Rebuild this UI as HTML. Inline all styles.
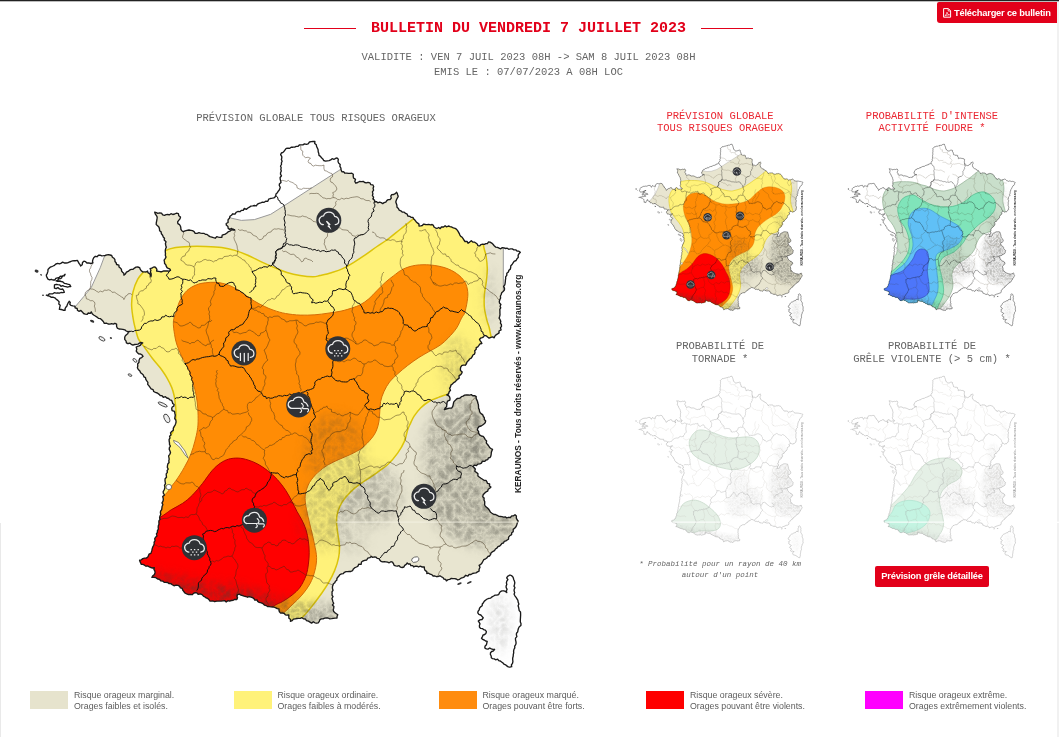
<!DOCTYPE html>
<html lang="fr"><head><meta charset="utf-8"><title>Bulletin du vendredi 7 juillet 2023</title>
<style>
html,body{margin:0;padding:0;background:#fff;}
body{width:1059px;height:737px;overflow:hidden;position:relative;font-family:"Liberation Mono","DejaVu Sans Mono",monospace;color:#656565;}
.abs{position:absolute;white-space:nowrap;}
.c{text-align:center;}
.t{font-size:10.5px;line-height:12px;}
.red{color:#ea2833;}
#title.red{color:#e2001a;}
#top{position:absolute;left:0;top:0;width:1059px;height:1px;background:#222;border-bottom:1px solid #bdbdbd;}
#rline{position:absolute;left:1057px;top:2px;width:2px;height:735px;background:#f1f1f1;}
#lline{position:absolute;left:0;top:523px;width:1px;height:214px;background:#e9e9e9;}
#title{left:0;width:1057px;top:20px;font-size:15px;font-weight:bold;line-height:18px;}
.hl{position:absolute;top:28px;height:1px;width:52px;background:#e2001a;}
.btn{position:absolute;background:#e2001a;color:#fff;font-family:"Liberation Sans","DejaVu Sans",sans-serif;font-weight:bold;font-size:9.3px;letter-spacing:-0.2px;border-radius:2px;text-align:center;white-space:nowrap;}
.lg{position:absolute;top:691px;width:38px;height:18px;}
.lt{position:absolute;top:689.5px;font-family:"Liberation Sans","DejaVu Sans",sans-serif;font-size:8.8px;line-height:11.4px;color:#5c5c5c;white-space:nowrap;}
svg{position:absolute;left:0;top:0;}
</style></head><body>
<div id="top"></div><div id="rline"></div><div id="lline"></div>
<div class="btn" style="left:937px;top:2px;width:120px;height:20.5px;line-height:21px;border-radius:2px 0 0 3px;text-align:left;"><svg style="left:6px;top:6px" width="9" height="10" viewBox="0 0 9 10"><path d="M0.6 0.6H5.4L7.6 2.8V9.2H0.6Z" fill="none" stroke="#fff" stroke-width="1"/><path d="M5.2 0.8V3H7.4" fill="none" stroke="#fff" stroke-width="0.8"/><path d="M1.8 7.8C3 7 3.8 5.6 4 4.2C4.4 5.8 5.2 6.6 6.6 6.8C5 6.8 3.2 7.2 1.8 7.8Z" fill="none" stroke="#fff" stroke-width="0.7"/></svg><span style="position:absolute;left:17px;top:0.6px">Télécharger ce bulletin</span></div>
<div class="hl" style="left:304px"></div><div class="hl" style="left:701px"></div>
<div id="title" class="abs c red">BULLETIN DU VENDREDI 7 JUILLET 2023</div>
<div class="abs c t" style="left:0;width:1057px;top:50.3px;line-height:14.4px">VALIDITE : VEN 7 JUIL 2023 08H -&gt; SAM 8 JUIL 2023 08H<br>EMIS LE : 07/07/2023 A 08H LOC</div>
<div class="abs c t" style="left:116px;width:400px;top:112.3px">PRÉVISION GLOBALE TOUS RISQUES ORAGEUX</div>
<div class="abs c t red" style="left:620px;width:200px;top:110px">PRÉVISION GLOBALE<br>TOUS RISQUES ORAGEUX</div>
<div class="abs c t red" style="left:832px;width:200px;top:110px">PROBABILITÉ D'INTENSE<br>ACTIVITÉ FOUDRE *</div>
<div class="abs c t" style="left:620px;width:200px;top:340.4px;line-height:12.6px">PROBABILITÉ DE<br>TORNADE *</div>
<div class="abs c t" style="left:832px;width:200px;top:340.4px;line-height:12.6px">PROBABILITÉ DE<br>GRÊLE VIOLENTE (&gt; 5 cm) *</div>
<div class="abs c" style="left:620px;width:200px;top:559px;font-size:7.5px;line-height:11.3px;font-style:italic">* Probabilité pour un rayon de 40 km<br>autour d'un point</div>
<div class="btn" style="left:875px;top:566px;width:114px;height:21px;line-height:21px;">Prévision grêle détaillée</div>
<svg width="1059" height="737" viewBox="0 0 1059 737">

<defs>
<clipPath id="fr"><path d="M275.7 195.4 L276.1 193.8 L277.4 192.8 L278.0 191.4 L279.1 190.3 L279.8 188.9 L280.2 187.3 L279.3 185.5 L279.4 183.9 L281.0 182.4 L280.6 180.7 L280.2 179.1 L280.1 177.5 L281.5 175.8 L280.5 174.2 L280.6 172.6 L281.3 171.0 L280.8 169.3 L281.2 167.7 L280.5 166.0 L281.5 164.5 L281.4 162.8 L282.1 161.2 L281.4 159.5 L281.8 157.9 L281.7 156.3 L280.6 154.6 L281.4 153.0 L283.0 152.4 L284.1 151.2 L285.1 149.8 L286.2 148.4 L288.0 148.1 L289.8 148.3 L291.2 147.2 L293.0 147.2 L294.7 147.1 L296.2 146.4 L297.9 146.4 L299.3 145.0 L301.0 144.8 L302.9 144.9 L304.5 143.9 L306.4 144.3 L308.1 143.8 L309.5 142.0 L311.3 141.7 L313.0 141.4 L314.9 141.5 L314.7 143.4 L316.3 144.8 L316.6 146.5 L317.4 148.1 L318.1 149.8 L318.2 151.8 L318.8 153.5 L319.0 155.4 L320.5 156.3 L321.5 157.8 L322.8 158.9 L323.7 160.5 L325.5 161.1 L327.3 160.8 L329.1 160.6 L330.7 159.9 L332.1 158.7 L333.9 159.3 L335.4 158.5 L337.0 157.9 L338.3 159.3 L338.0 161.4 L338.6 163.1 L340.2 164.4 L339.9 166.4 L340.9 168.1 L341.1 170.0 L341.9 171.8 L343.6 171.7 L345.0 173.2 L346.7 173.1 L348.4 173.4 L350.1 173.3 L351.8 173.2 L353.3 174.2 L353.2 176.2 L353.5 178.0 L355.5 179.4 L354.8 181.5 L355.8 183.2 L357.7 182.5 L359.4 181.5 L361.5 181.6 L363.2 181.4 L364.7 182.5 L366.3 182.9 L368.0 182.4 L369.9 182.8 L370.7 184.6 L372.8 184.8 L373.7 186.5 L373.1 188.3 L373.6 190.2 L372.4 191.9 L372.9 193.8 L372.4 195.6 L373.6 197.1 L373.0 198.9 L374.6 200.3 L374.6 202.0 L376.4 201.6 L377.8 202.8 L379.6 202.1 L381.2 202.7 L382.7 203.6 L384.1 202.6 L385.8 202.1 L386.8 200.6 L388.2 199.6 L390.1 199.5 L391.3 198.1 L390.8 196.1 L391.7 194.6 L393.7 194.5 L395.3 193.6 L396.6 192.2 L397.3 193.5 L397.7 194.9 L398.2 196.3 L397.6 197.7 L396.8 199.0 L396.2 200.5 L395.8 202.0 L396.4 203.7 L396.9 205.3 L397.0 207.2 L398.4 208.5 L399.1 210.1 L400.8 210.8 L402.2 212.1 L404.2 212.2 L405.6 213.4 L407.2 214.1 L407.8 216.0 L409.7 216.3 L411.0 217.3 L412.9 217.4 L413.8 219.1 L415.1 220.3 L416.1 221.7 L417.4 222.9 L419.0 224.1 L419.0 226.1 L420.7 225.9 L422.3 225.5 L423.7 224.1 L425.5 224.5 L427.1 224.7 L428.8 224.4 L430.5 224.8 L432.1 224.5 L433.4 225.4 L434.0 227.0 L435.3 227.8 L436.9 228.5 L438.7 227.5 L440.2 228.6 L441.4 227.0 L443.6 227.0 L445.1 225.8 L446.6 226.9 L448.5 226.0 L450.1 226.6 L451.7 227.0 L453.3 227.9 L455.1 228.3 L456.6 229.4 L457.6 230.7 L458.5 232.1 L459.3 233.6 L459.9 235.1 L460.8 236.4 L462.2 237.3 L463.1 238.6 L463.9 240.0 L465.0 241.5 L467.2 241.5 L468.0 243.3 L469.7 242.1 L471.3 240.8 L472.7 242.0 L474.7 242.2 L476.2 243.3 L477.4 244.2 L477.8 245.7 L479.6 245.9 L481.0 244.6 L482.6 244.2 L484.4 244.4 L485.8 243.7 L487.4 243.6 L488.4 242.0 L490.1 242.1 L491.7 243.1 L493.0 244.3 L494.2 245.7 L495.6 247.1 L497.5 247.3 L499.1 248.2 L500.7 248.8 L502.3 247.6 L504.0 247.9 L505.6 248.5 L507.2 248.2 L508.7 249.3 L510.5 248.9 L512.3 248.9 L513.8 249.8 L515.7 249.8 L517.0 251.1 L518.9 251.2 L520.3 252.3 L519.0 253.7 L518.1 255.3 L518.3 257.4 L517.0 258.8 L516.1 260.5 L514.1 261.3 L513.1 262.9 L512.1 264.5 L510.8 265.7 L510.7 267.5 L510.3 269.1 L508.9 270.2 L508.4 272.0 L506.8 273.3 L506.8 275.3 L505.6 276.8 L505.7 278.4 L505.4 280.1 L505.3 281.7 L505.1 283.3 L504.8 284.9 L503.6 286.4 L504.5 288.4 L504.4 290.1 L503.1 291.5 L501.7 292.8 L501.2 294.5 L500.4 296.0 L500.6 298.0 L499.9 299.6 L499.3 301.3 L499.5 303.0 L500.9 304.5 L500.1 306.2 L500.7 307.8 L499.8 309.4 L499.9 311.2 L499.9 313.0 L500.0 314.8 L499.6 316.5 L499.1 318.2 L500.1 319.7 L500.8 321.2 L500.4 323.1 L501.4 324.6 L501.5 326.3 L500.4 327.8 L501.1 329.9 L499.0 331.0 L499.1 332.9 L497.6 333.9 L496.1 334.8 L494.9 336.1 L494.2 337.8 L492.6 336.9 L490.9 337.3 L489.1 338.1 L487.6 337.0 L486.2 335.8 L484.4 335.3 L483.6 336.8 L482.2 337.6 L480.5 338.2 L479.5 339.4 L480.3 340.8 L481.2 342.1 L481.9 343.5 L480.0 343.9 L478.9 345.4 L477.8 346.8 L476.2 347.6 L476.2 349.3 L474.7 350.7 L475.0 352.5 L474.5 354.1 L472.9 355.0 L472.2 356.7 L471.2 358.2 L469.6 359.0 L468.5 360.6 L467.0 362.0 L466.4 363.9 L465.3 365.2 L463.3 365.1 L461.7 365.7 L460.7 367.2 L460.4 368.9 L460.5 370.5 L462.2 372.0 L461.5 373.7 L460.3 374.9 L459.0 375.9 L459.2 378.1 L457.9 379.1 L456.6 380.2 L455.4 381.7 L453.7 382.6 L452.4 384.0 L450.9 385.1 L450.5 386.8 L449.6 388.3 L450.5 390.3 L449.2 391.7 L448.6 393.8 L446.8 394.9 L448.3 395.5 L449.4 396.6 L450.0 398.2 L449.9 400.2 L447.6 401.1 L447.0 402.8 L446.8 404.7 L446.6 406.7 L445.1 408.0 L444.3 409.7 L446.1 409.0 L447.9 408.5 L449.8 408.2 L451.7 408.0 L452.6 406.6 L453.1 405.1 L453.4 403.5 L453.8 401.9 L454.9 400.7 L456.1 399.6 L457.2 398.5 L458.9 398.3 L460.4 397.8 L461.5 396.6 L463.1 396.1 L464.6 395.2 L466.3 395.0 L468.0 395.0 L469.7 395.1 L471.3 394.6 L472.7 395.7 L474.6 395.7 L476.2 396.6 L476.1 398.4 L476.8 399.9 L477.5 401.4 L477.8 403.1 L478.4 404.7 L478.5 406.4 L478.5 408.1 L479.3 409.6 L479.5 411.3 L480.2 412.8 L481.5 413.9 L482.8 414.9 L483.4 416.5 L484.4 417.8 L484.3 419.5 L485.7 420.9 L485.2 422.7 L483.9 423.9 L482.6 425.0 L481.1 426.0 L479.1 426.5 L477.8 428.2 L477.3 430.0 L478.6 431.4 L478.6 433.1 L479.6 434.9 L481.2 436.0 L483.2 436.4 L484.4 438.0 L485.3 439.6 L486.6 441.0 L486.3 443.1 L487.6 444.5 L488.6 445.9 L489.6 447.4 L490.9 448.5 L492.5 449.4 L491.8 451.0 L491.3 452.5 L491.2 454.2 L490.9 455.9 L490.1 457.5 L488.3 457.8 L487.8 459.7 L486.0 460.0 L484.6 461.4 L482.5 461.2 L481.4 463.2 L479.8 463.9 L477.8 464.1 L476.5 465.6 L474.2 465.2 L472.9 466.6 L474.2 467.7 L475.3 469.0 L474.8 471.2 L476.2 472.3 L477.9 473.6 L477.9 475.9 L479.5 477.2 L481.0 478.3 L482.5 479.3 L484.0 480.3 L486.0 480.4 L486.9 481.8 L487.5 483.4 L489.6 483.9 L489.5 486.0 L490.9 487.0 L489.7 488.2 L488.2 489.2 L487.7 491.2 L486.0 491.9 L484.5 493.3 L483.2 494.7 L482.7 496.8 L484.1 498.1 L484.0 500.0 L484.7 501.5 L484.7 503.3 L484.6 505.0 L485.6 506.5 L487.2 507.7 L488.5 509.0 L489.6 510.6 L490.5 512.3 L492.0 513.3 L493.6 514.3 L495.5 514.5 L497.2 515.3 L498.7 516.3 L500.4 516.5 L502.0 516.7 L503.6 517.2 L505.3 516.9 L506.8 518.0 L508.4 517.3 L510.4 517.5 L511.7 515.9 L513.5 515.8 L515.0 514.7 L516.4 516.0 L516.3 518.1 L517.1 519.8 L518.3 521.2 L517.4 522.5 L517.0 524.1 L516.5 525.6 L515.8 527.0 L514.6 528.3 L513.2 529.4 L513.2 531.6 L511.7 532.7 L511.6 534.6 L509.7 535.8 L508.6 537.2 L508.5 539.2 L507.2 540.0 L505.9 540.9 L504.3 541.3 L503.5 543.0 L501.9 543.3 L500.9 544.8 L499.7 546.0 L497.9 546.6 L496.9 548.1 L495.4 549.0 L494.5 550.7 L492.7 551.6 L491.1 552.7 L490.5 554.7 L489.5 556.0 L487.8 556.5 L486.9 557.9 L485.6 558.8 L483.8 559.6 L482.9 561.3 L482.0 563.0 L480.8 564.4 L479.1 565.3 L480.0 567.2 L479.1 569.2 L479.1 571.1 L477.5 571.9 L476.0 572.9 L474.2 573.1 L472.5 573.5 L471.0 574.5 L469.1 574.4 L467.9 576.1 L465.7 575.3 L464.4 576.8 L462.8 577.6 L461.0 578.2 L459.5 579.3 L457.8 580.0 L456.3 579.0 L454.7 578.6 L452.9 578.7 L451.3 578.4 L449.7 579.3 L447.9 579.7 L446.4 580.9 L445.6 579.4 L443.8 579.0 L443.0 577.5 L441.5 576.8 L439.9 575.8 L438.2 576.5 L436.5 576.7 L434.9 576.0 L433.1 576.0 L431.8 574.6 L430.1 574.2 L428.7 573.2 L426.8 573.5 L426.8 571.6 L425.1 570.4 L424.4 568.8 L424.3 567.0 L422.2 567.0 L420.2 566.2 L418.6 567.0 L416.9 566.2 L415.2 566.2 L413.7 567.0 L412.8 565.6 L410.9 565.7 L410.2 564.0 L408.3 564.0 L407.2 562.9 L406.2 564.4 L404.7 565.4 L403.9 567.0 L402.1 567.5 L400.5 567.2 L399.1 565.6 L397.3 566.2 L395.7 565.8 L394.1 565.3 L393.4 563.6 L392.5 562.1 L390.9 561.7 L389.2 562.8 L387.6 562.1 L385.9 561.8 L384.3 561.6 L382.6 561.9 L381.0 561.3 L379.9 560.2 L379.1 558.6 L377.2 558.4 L376.1 557.2 L374.5 556.9 L372.7 557.3 L371.2 556.4 L369.8 557.7 L367.8 558.1 L366.7 560.0 L364.7 560.4 L362.9 561.0 L361.5 562.0 L361.1 564.3 L358.7 564.2 L358.0 566.1 L356.5 567.0 L354.8 567.7 L353.4 568.9 L352.5 570.7 L350.9 571.5 L349.2 571.4 L347.6 571.6 L346.0 571.6 L344.4 572.3 L343.3 573.6 L341.5 573.9 L339.9 574.6 L338.9 576.0 L337.8 577.2 L336.9 578.5 L336.8 580.3 L335.4 581.3 L334.8 582.7 L333.4 583.7 L332.9 585.3 L332.4 586.9 L332.5 588.6 L333.0 590.3 L332.0 591.8 L332.1 593.5 L332.0 595.2 L333.0 596.7 L331.9 598.5 L332.5 600.1 L332.9 601.7 L333.7 603.3 L332.4 605.0 L333.9 606.5 L333.7 608.2 L333.2 609.9 L333.7 611.5 L335.0 612.7 L336.4 613.8 L337.8 614.8 L337.1 616.3 L337.0 618.0 L335.2 618.1 L333.4 618.3 L331.6 618.6 L329.8 618.8 L328.0 618.0 L326.3 618.0 L324.7 618.2 L323.1 618.9 L321.4 618.9 L319.9 619.7 L319.3 621.4 L318.2 622.9 L316.5 623.2 L314.9 622.8 L313.3 621.8 L311.6 623.1 L310.0 622.1 L308.4 621.2 L306.5 620.7 L305.4 619.0 L303.4 618.8 L301.9 617.7 L300.3 618.3 L298.6 618.4 L296.9 618.5 L295.3 618.8 L293.4 619.2 L292.2 620.7 L290.4 621.3 L290.6 619.5 L288.9 618.2 L288.8 616.5 L288.8 614.8 L287.0 615.2 L285.4 614.8 L284.0 613.3 L282.3 613.0 L280.6 613.1 L279.5 611.9 L279.0 610.6 L279.0 609.0 L277.3 608.7 L275.8 607.8 L274.2 607.2 L272.6 607.0 L270.9 606.8 L269.2 606.6 L267.5 606.5 L266.2 605.5 L264.6 605.2 L263.4 604.0 L262.0 603.2 L260.5 602.7 L258.9 602.3 L257.7 601.4 L256.9 599.8 L254.8 600.1 L254.0 598.6 L252.5 597.7 L250.9 597.1 L249.3 596.6 L247.4 597.2 L245.9 596.5 L244.2 596.2 L242.6 595.7 L241.0 595.2 L239.5 594.2 L237.6 594.6 L237.0 596.2 L237.4 597.9 L236.8 599.5 L234.8 599.3 L233.2 600.3 L231.3 600.5 L229.5 601.1 L227.9 600.7 L226.2 602.0 L224.6 600.6 L222.9 600.8 L221.3 601.1 L219.7 601.1 L218.0 601.1 L216.4 601.2 L214.8 601.7 L213.1 601.0 L211.5 601.1 L209.8 601.0 L208.9 599.5 L207.7 598.4 L206.2 597.9 L205.0 597.0 L203.4 596.1 L202.1 594.6 L200.4 593.9 L198.1 594.3 L196.8 592.9 L195.1 592.7 L193.5 593.4 L192.0 594.7 L190.3 594.5 L188.6 594.6 L186.7 593.9 L184.9 593.0 L183.7 591.3 L182.7 590.0 L182.2 588.4 L180.4 587.8 L179.6 586.4 L177.9 585.3 L176.0 585.2 L174.0 585.8 L172.3 584.7 L170.8 583.6 L169.1 583.6 L167.6 582.5 L165.8 582.4 L164.1 582.3 L162.7 581.1 L160.7 580.9 L159.5 579.3 L157.6 579.0 L155.9 577.7 L154.0 577.3 L151.9 577.4 L152.9 575.7 L154.4 574.4 L155.1 572.5 L154.8 570.9 L153.9 569.3 L154.3 567.6 L152.5 568.0 L150.9 567.5 L149.3 566.9 L147.8 566.0 L146.0 566.2 L144.5 565.2 L142.9 564.4 L141.2 564.3 L140.7 562.9 L140.0 561.6 L139.6 560.2 L141.3 559.8 L142.8 558.6 L144.5 558.2 L146.3 558.1 L147.8 557.0 L148.5 555.6 L149.0 554.1 L150.9 553.4 L151.4 551.9 L151.9 550.4 L152.2 548.7 L152.7 547.1 L153.6 545.5 L154.2 543.9 L154.1 542.1 L155.1 540.6 L154.7 538.7 L155.5 537.2 L157.0 535.9 L156.4 533.9 L157.4 532.4 L157.4 530.7 L158.4 529.2 L158.2 527.5 L158.3 525.8 L159.0 524.3 L158.9 522.6 L158.9 520.9 L160.0 519.4 L159.6 517.6 L160.0 516.0 L160.8 514.5 L160.4 512.7 L160.6 511.1 L161.7 509.6 L161.9 508.0 L162.1 506.3 L162.9 504.8 L162.0 502.9 L162.9 501.4 L163.3 499.8 L163.2 498.2 L162.7 496.5 L164.5 495.0 L163.3 493.2 L163.2 491.6 L164.1 490.0 L164.7 488.6 L164.9 487.0 L164.5 485.3 L165.5 483.7 L165.2 482.0 L165.0 480.3 L165.1 478.7 L166.5 477.2 L166.3 475.5 L166.2 473.8 L167.4 472.3 L167.1 470.6 L168.2 469.1 L167.3 467.3 L167.5 465.6 L167.8 464.0 L169.1 462.5 L168.8 460.8 L169.2 459.2 L168.9 457.5 L168.6 455.8 L169.8 454.3 L170.5 452.7 L170.0 451.0 L169.2 449.3 L169.4 447.6 L170.4 446.1 L169.5 444.5 L169.5 442.9 L169.2 441.3 L169.1 439.6 L170.0 437.9 L169.6 436.3 L171.0 435.0 L170.5 432.9 L171.7 431.5 L173.3 430.2 L173.3 428.2 L174.1 426.6 L175.1 425.1 L175.7 423.5 L176.1 421.8 L175.8 420.0 L174.7 418.5 L175.0 416.8 L175.3 415.1 L174.9 413.5 L174.5 411.4 L172.1 410.6 L171.7 408.6 L172.2 407.0 L173.8 406.2 L174.1 404.5 L172.7 403.5 L172.3 401.9 L171.7 400.4 L169.9 399.9 L168.6 398.5 L166.8 398.0 L165.4 396.7 L163.3 397.3 L162.0 395.7 L160.2 395.5 L158.8 394.1 L157.3 393.0 L155.4 392.4 L153.7 391.5 L153.1 389.6 L151.1 388.8 L149.9 387.2 L148.8 385.7 L147.7 384.3 L147.9 382.3 L146.8 380.9 L145.8 379.4 L145.5 377.6 L143.9 376.8 L143.3 374.9 L142.0 373.8 L140.6 372.7 L139.9 370.9 L138.3 369.5 L137.4 367.8 L137.8 365.9 L137.6 364.0 L139.0 362.3 L139.0 360.4 L139.8 358.4 L141.7 357.6 L143.1 356.3 L142.0 354.9 L140.5 354.0 L138.5 353.8 L137.3 352.5 L136.2 351.1 L136.8 349.1 L136.2 347.0 L137.6 346.4 L139.2 345.9 L140.5 345.1 L141.4 343.6 L142.7 342.9 L140.9 342.5 L139.4 343.1 L137.9 344.2 L136.3 344.4 L134.6 344.5 L132.9 345.1 L131.3 344.3 L129.7 343.1 L128.0 343.7 L126.4 342.8 L126.0 340.9 L124.8 339.6 L124.7 337.7 L125.1 336.1 L126.4 334.7 L127.7 333.8 L128.3 332.2 L129.7 331.5 L127.8 331.7 L126.2 331.0 L124.8 329.8 L122.9 329.3 L121.0 329.1 L119.0 329.0 L117.3 328.1 L116.6 326.4 L116.6 324.2 L114.9 323.3 L113.3 324.1 L111.6 323.7 L110.0 324.1 L108.1 324.0 L106.3 323.1 L104.3 323.3 L103.3 321.5 L101.9 320.0 L100.5 318.7 L98.6 318.4 L97.0 317.1 L95.3 316.0 L93.6 315.0 L92.2 313.7 L91.3 311.9 L90.3 313.4 L88.3 313.0 L87.2 314.3 L85.3 314.1 L83.6 313.5 L82.3 311.9 L80.9 310.5 L78.9 311.3 L77.4 310.2 L77.2 308.5 L75.1 307.9 L74.9 306.2 L72.8 305.8 L70.8 305.3 L69.8 304.2 L70.3 302.4 L69.2 301.3 L68.2 302.8 L67.4 304.5 L66.8 306.2 L65.8 307.3 L65.1 308.6 L65.1 310.2 L63.2 310.2 L61.3 309.5 L59.4 309.4 L59.7 307.3 L60.2 305.3 L58.8 304.0 L59.1 301.8 L57.8 300.4 L56.3 299.2 L54.8 297.8 L52.9 297.2 L51.1 297.2 L49.6 296.1 L47.9 295.8 L46.3 295.2 L48.0 295.3 L49.4 293.8 L51.1 293.9 L52.8 293.8 L54.3 292.7 L56.1 293.1 L57.7 293.0 L59.4 293.2 L61.0 292.5 L62.7 292.7 L64.3 292.3 L63.7 290.6 L62.7 289.0 L61.0 289.4 L59.4 288.9 L57.9 287.6 L56.1 288.7 L54.5 288.2 L54.4 286.5 L54.5 284.9 L56.2 284.3 L57.8 284.7 L59.5 284.8 L61.0 286.3 L62.7 285.7 L64.3 286.3 L65.9 286.7 L67.5 287.1 L69.2 286.6 L70.8 286.6 L69.7 284.7 L67.6 284.1 L66.0 283.6 L64.3 283.3 L62.9 281.9 L61.2 281.5 L59.6 281.0 L57.7 281.3 L56.1 280.8 L57.7 280.3 L58.6 278.8 L60.5 278.7 L61.7 277.7 L62.3 275.9 L64.3 275.9 L65.1 274.3 L63.8 275.5 L62.4 276.4 L60.4 276.1 L59.2 277.5 L57.5 277.8 L55.8 278.3 L54.8 280.0 L52.9 280.0 L51.3 279.3 L49.6 279.9 L48.0 279.2 L47.3 277.9 L46.6 276.6 L46.3 275.1 L47.3 273.3 L47.9 271.4 L48.0 269.4 L49.1 268.3 L50.2 267.2 L51.7 266.6 L53.1 266.0 L54.5 265.3 L55.9 264.0 L57.6 263.4 L59.6 263.8 L61.2 263.1 L62.7 262.1 L64.3 263.0 L66.0 263.0 L67.6 262.8 L69.2 262.1 L70.8 261.5 L72.4 260.8 L74.1 260.7 L75.7 260.7 L77.4 260.4 L78.2 261.8 L78.9 263.3 L80.0 264.6 L80.6 266.1 L82.2 264.8 L82.5 262.6 L83.9 261.2 L85.6 261.7 L86.9 263.0 L88.8 262.9 L90.8 263.5 L92.9 262.9 L92.5 261.2 L92.9 259.6 L93.7 257.7 L95.3 256.3 L97.0 256.7 L98.5 255.2 L100.1 255.2 L101.8 255.8 L103.5 255.7 L105.1 255.5 L106.8 254.9 L108.4 254.7 L110.0 255.0 L111.7 255.5 L112.4 257.2 L113.9 258.2 L114.9 259.6 L115.0 261.5 L116.1 262.8 L116.6 264.5 L118.9 265.1 L119.0 267.0 L120.3 268.1 L121.4 269.2 L121.6 271.0 L122.5 272.2 L123.8 273.3 L123.9 275.1 L125.4 274.0 L126.4 272.2 L128.1 271.4 L129.5 270.2 L131.3 269.4 L133.1 269.3 L134.5 268.1 L136.0 267.2 L137.8 267.0 L139.6 267.6 L140.3 269.4 L141.3 270.8 L142.7 271.9 L144.4 271.9 L146.1 272.0 L147.6 271.0 L147.9 272.7 L149.6 273.7 L150.6 275.0 L150.9 276.8 L151.2 275.1 L151.1 273.5 L150.4 271.9 L150.9 270.2 L150.1 268.6 L151.8 268.2 L153.2 267.2 L155.0 267.0 L156.1 268.1 L156.9 269.3 L156.6 271.0 L158.4 271.3 L160.2 271.7 L162.0 271.7 L163.8 270.9 L165.6 271.0 L167.3 271.0 L169.0 271.2 L170.5 270.2 L169.7 268.9 L168.3 268.3 L167.0 267.6 L166.2 266.2 L165.8 264.7 L164.6 263.6 L164.5 261.9 L164.1 260.2 L165.2 258.6 L166.0 257.1 L165.3 255.3 L165.5 253.7 L165.3 252.0 L165.3 250.4 L165.6 248.8 L166.3 247.2 L165.8 245.5 L165.4 243.7 L166.0 241.7 L164.2 240.1 L164.5 238.2 L163.2 236.9 L162.6 235.2 L161.4 233.8 L161.1 231.9 L159.6 230.8 L159.5 229.0 L159.0 227.3 L157.8 225.9 L156.2 224.6 L156.3 222.7 L156.7 220.8 L157.0 218.9 L157.2 217.0 L156.3 215.4 L155.2 213.9 L154.7 212.1 L156.3 212.7 L157.8 213.4 L159.6 212.9 L161.5 213.1 L162.7 214.8 L164.5 215.3 L166.1 214.7 L167.8 214.5 L169.5 214.8 L171.0 213.7 L172.8 214.5 L174.7 214.0 L176.6 213.2 L178.4 213.7 L178.8 215.8 L180.5 217.0 L180.0 218.9 L178.7 220.4 L177.6 221.9 L177.9 223.6 L179.5 224.6 L180.4 226.0 L180.8 227.6 L180.9 229.4 L181.8 230.7 L183.3 231.7 L185.1 230.8 L187.0 230.4 L189.0 230.0 L190.8 230.3 L192.5 230.7 L194.1 231.6 L195.2 233.4 L197.2 233.3 L198.9 232.7 L200.5 233.2 L202.2 233.3 L203.8 233.3 L205.4 234.3 L207.0 234.4 L208.4 235.6 L210.0 236.6 L211.8 237.1 L213.5 237.7 L215.2 238.2 L216.7 236.7 L218.4 237.1 L220.0 237.4 L221.8 237.3 L222.2 235.1 L223.7 234.6 L225.3 234.1 L226.6 233.3 L228.0 231.9 L229.9 231.2 L231.5 230.0 L233.2 229.2 L234.8 230.0 L233.0 230.1 L231.7 228.4 L229.7 229.4 L228.2 228.4 L227.9 226.4 L226.3 225.1 L226.2 223.5 L228.1 222.5 L228.0 220.9 L228.2 219.4 L229.5 218.2 L229.9 216.3 L231.5 215.3 L232.8 213.8 L235.0 214.1 L236.1 212.3 L237.8 211.5 L239.9 211.7 L241.3 210.4 L243.2 210.4 L244.3 208.4 L246.5 209.3 L247.9 208.0 L249.4 207.1 L250.9 206.1 L252.7 205.9 L254.4 205.5 L256.3 205.8 L257.5 204.1 L259.1 203.3 L260.7 202.8 L262.4 202.2 L264.2 202.3 L265.7 201.2 L267.8 201.3 L268.7 199.2 L270.4 198.5 L272.3 198.2 L273.9 197.9 L275.1 197.0Z"/></clipPath>
<clipPath id="frc"><path d="M275.7 195.4 L276.1 193.8 L277.4 192.8 L278.0 191.4 L279.1 190.3 L279.8 188.9 L280.2 187.3 L279.3 185.5 L279.4 183.9 L281.0 182.4 L280.6 180.7 L280.2 179.1 L280.1 177.5 L281.5 175.8 L280.5 174.2 L280.6 172.6 L281.3 171.0 L280.8 169.3 L281.2 167.7 L280.5 166.0 L281.5 164.5 L281.4 162.8 L282.1 161.2 L281.4 159.5 L281.8 157.9 L281.7 156.3 L280.6 154.6 L281.4 153.0 L283.0 152.4 L284.1 151.2 L285.1 149.8 L286.2 148.4 L288.0 148.1 L289.8 148.3 L291.2 147.2 L293.0 147.2 L294.7 147.1 L296.2 146.4 L297.9 146.4 L299.3 145.0 L301.0 144.8 L302.9 144.9 L304.5 143.9 L306.4 144.3 L308.1 143.8 L309.5 142.0 L311.3 141.7 L313.0 141.4 L314.9 141.5 L314.7 143.4 L316.3 144.8 L316.6 146.5 L317.4 148.1 L318.1 149.8 L318.2 151.8 L318.8 153.5 L319.0 155.4 L320.5 156.3 L321.5 157.8 L322.8 158.9 L323.7 160.5 L325.5 161.1 L327.3 160.8 L329.1 160.6 L330.7 159.9 L332.1 158.7 L333.9 159.3 L335.4 158.5 L337.0 157.9 L338.3 159.3 L338.0 161.4 L338.6 163.1 L340.2 164.4 L339.9 166.4 L340.9 168.1 L341.1 170.0 L341.9 171.8 L343.6 171.7 L345.0 173.2 L346.7 173.1 L348.4 173.4 L350.1 173.3 L351.8 173.2 L353.3 174.2 L353.2 176.2 L353.5 178.0 L355.5 179.4 L354.8 181.5 L355.8 183.2 L357.7 182.5 L359.4 181.5 L361.5 181.6 L363.2 181.4 L364.7 182.5 L366.3 182.9 L368.0 182.4 L369.9 182.8 L370.7 184.6 L372.8 184.8 L373.7 186.5 L373.1 188.3 L373.6 190.2 L372.4 191.9 L372.9 193.8 L372.4 195.6 L373.6 197.1 L373.0 198.9 L374.6 200.3 L374.6 202.0 L376.4 201.6 L377.8 202.8 L379.6 202.1 L381.2 202.7 L382.7 203.6 L384.1 202.6 L385.8 202.1 L386.8 200.6 L388.2 199.6 L390.1 199.5 L391.3 198.1 L390.8 196.1 L391.7 194.6 L393.7 194.5 L395.3 193.6 L396.6 192.2 L397.3 193.5 L397.7 194.9 L398.2 196.3 L397.6 197.7 L396.8 199.0 L396.2 200.5 L395.8 202.0 L396.4 203.7 L396.9 205.3 L397.0 207.2 L398.4 208.5 L399.1 210.1 L400.8 210.8 L402.2 212.1 L404.2 212.2 L405.6 213.4 L407.2 214.1 L407.8 216.0 L409.7 216.3 L411.0 217.3 L412.9 217.4 L413.8 219.1 L415.1 220.3 L416.1 221.7 L417.4 222.9 L419.0 224.1 L419.0 226.1 L420.7 225.9 L422.3 225.5 L423.7 224.1 L425.5 224.5 L427.1 224.7 L428.8 224.4 L430.5 224.8 L432.1 224.5 L433.4 225.4 L434.0 227.0 L435.3 227.8 L436.9 228.5 L438.7 227.5 L440.2 228.6 L441.4 227.0 L443.6 227.0 L445.1 225.8 L446.6 226.9 L448.5 226.0 L450.1 226.6 L451.7 227.0 L453.3 227.9 L455.1 228.3 L456.6 229.4 L457.6 230.7 L458.5 232.1 L459.3 233.6 L459.9 235.1 L460.8 236.4 L462.2 237.3 L463.1 238.6 L463.9 240.0 L465.0 241.5 L467.2 241.5 L468.0 243.3 L469.7 242.1 L471.3 240.8 L472.7 242.0 L474.7 242.2 L476.2 243.3 L477.4 244.2 L477.8 245.7 L479.6 245.9 L481.0 244.6 L482.6 244.2 L484.4 244.4 L485.8 243.7 L487.4 243.6 L488.4 242.0 L490.1 242.1 L491.7 243.1 L493.0 244.3 L494.2 245.7 L495.6 247.1 L497.5 247.3 L499.1 248.2 L500.7 248.8 L502.3 247.6 L504.0 247.9 L505.6 248.5 L507.2 248.2 L508.7 249.3 L510.5 248.9 L512.3 248.9 L513.8 249.8 L515.7 249.8 L517.0 251.1 L518.9 251.2 L520.3 252.3 L519.0 253.7 L518.1 255.3 L518.3 257.4 L517.0 258.8 L516.1 260.5 L514.1 261.3 L513.1 262.9 L512.1 264.5 L510.8 265.7 L510.7 267.5 L510.3 269.1 L508.9 270.2 L508.4 272.0 L506.8 273.3 L506.8 275.3 L505.6 276.8 L505.7 278.4 L505.4 280.1 L505.3 281.7 L505.1 283.3 L504.8 284.9 L503.6 286.4 L504.5 288.4 L504.4 290.1 L503.1 291.5 L501.7 292.8 L501.2 294.5 L500.4 296.0 L500.6 298.0 L499.9 299.6 L499.3 301.3 L499.5 303.0 L500.9 304.5 L500.1 306.2 L500.7 307.8 L499.8 309.4 L499.9 311.2 L499.9 313.0 L500.0 314.8 L499.6 316.5 L499.1 318.2 L500.1 319.7 L500.8 321.2 L500.4 323.1 L501.4 324.6 L501.5 326.3 L500.4 327.8 L501.1 329.9 L499.0 331.0 L499.1 332.9 L497.6 333.9 L496.1 334.8 L494.9 336.1 L494.2 337.8 L492.6 336.9 L490.9 337.3 L489.1 338.1 L487.6 337.0 L486.2 335.8 L484.4 335.3 L483.6 336.8 L482.2 337.6 L480.5 338.2 L479.5 339.4 L480.3 340.8 L481.2 342.1 L481.9 343.5 L480.0 343.9 L478.9 345.4 L477.8 346.8 L476.2 347.6 L476.2 349.3 L474.7 350.7 L475.0 352.5 L474.5 354.1 L472.9 355.0 L472.2 356.7 L471.2 358.2 L469.6 359.0 L468.5 360.6 L467.0 362.0 L466.4 363.9 L465.3 365.2 L463.3 365.1 L461.7 365.7 L460.7 367.2 L460.4 368.9 L460.5 370.5 L462.2 372.0 L461.5 373.7 L460.3 374.9 L459.0 375.9 L459.2 378.1 L457.9 379.1 L456.6 380.2 L455.4 381.7 L453.7 382.6 L452.4 384.0 L450.9 385.1 L450.5 386.8 L449.6 388.3 L450.5 390.3 L449.2 391.7 L448.6 393.8 L446.8 394.9 L448.3 395.5 L449.4 396.6 L450.0 398.2 L449.9 400.2 L447.6 401.1 L447.0 402.8 L446.8 404.7 L446.6 406.7 L445.1 408.0 L444.3 409.7 L446.1 409.0 L447.9 408.5 L449.8 408.2 L451.7 408.0 L452.6 406.6 L453.1 405.1 L453.4 403.5 L453.8 401.9 L454.9 400.7 L456.1 399.6 L457.2 398.5 L458.9 398.3 L460.4 397.8 L461.5 396.6 L463.1 396.1 L464.6 395.2 L466.3 395.0 L468.0 395.0 L469.7 395.1 L471.3 394.6 L472.7 395.7 L474.6 395.7 L476.2 396.6 L476.1 398.4 L476.8 399.9 L477.5 401.4 L477.8 403.1 L478.4 404.7 L478.5 406.4 L478.5 408.1 L479.3 409.6 L479.5 411.3 L480.2 412.8 L481.5 413.9 L482.8 414.9 L483.4 416.5 L484.4 417.8 L484.3 419.5 L485.7 420.9 L485.2 422.7 L483.9 423.9 L482.6 425.0 L481.1 426.0 L479.1 426.5 L477.8 428.2 L477.3 430.0 L478.6 431.4 L478.6 433.1 L479.6 434.9 L481.2 436.0 L483.2 436.4 L484.4 438.0 L485.3 439.6 L486.6 441.0 L486.3 443.1 L487.6 444.5 L488.6 445.9 L489.6 447.4 L490.9 448.5 L492.5 449.4 L491.8 451.0 L491.3 452.5 L491.2 454.2 L490.9 455.9 L490.1 457.5 L488.3 457.8 L487.8 459.7 L486.0 460.0 L484.6 461.4 L482.5 461.2 L481.4 463.2 L479.8 463.9 L477.8 464.1 L476.5 465.6 L474.2 465.2 L472.9 466.6 L474.2 467.7 L475.3 469.0 L474.8 471.2 L476.2 472.3 L477.9 473.6 L477.9 475.9 L479.5 477.2 L481.0 478.3 L482.5 479.3 L484.0 480.3 L486.0 480.4 L486.9 481.8 L487.5 483.4 L489.6 483.9 L489.5 486.0 L490.9 487.0 L489.7 488.2 L488.2 489.2 L487.7 491.2 L486.0 491.9 L484.5 493.3 L483.2 494.7 L482.7 496.8 L484.1 498.1 L484.0 500.0 L484.7 501.5 L484.7 503.3 L484.6 505.0 L485.6 506.5 L487.2 507.7 L488.5 509.0 L489.6 510.6 L490.5 512.3 L492.0 513.3 L493.6 514.3 L495.5 514.5 L497.2 515.3 L498.7 516.3 L500.4 516.5 L502.0 516.7 L503.6 517.2 L505.3 516.9 L506.8 518.0 L508.4 517.3 L510.4 517.5 L511.7 515.9 L513.5 515.8 L515.0 514.7 L516.4 516.0 L516.3 518.1 L517.1 519.8 L518.3 521.2 L517.4 522.5 L517.0 524.1 L516.5 525.6 L515.8 527.0 L514.6 528.3 L513.2 529.4 L513.2 531.6 L511.7 532.7 L511.6 534.6 L509.7 535.8 L508.6 537.2 L508.5 539.2 L507.2 540.0 L505.9 540.9 L504.3 541.3 L503.5 543.0 L501.9 543.3 L500.9 544.8 L499.7 546.0 L497.9 546.6 L496.9 548.1 L495.4 549.0 L494.5 550.7 L492.7 551.6 L491.1 552.7 L490.5 554.7 L489.5 556.0 L487.8 556.5 L486.9 557.9 L485.6 558.8 L483.8 559.6 L482.9 561.3 L482.0 563.0 L480.8 564.4 L479.1 565.3 L480.0 567.2 L479.1 569.2 L479.1 571.1 L477.5 571.9 L476.0 572.9 L474.2 573.1 L472.5 573.5 L471.0 574.5 L469.1 574.4 L467.9 576.1 L465.7 575.3 L464.4 576.8 L462.8 577.6 L461.0 578.2 L459.5 579.3 L457.8 580.0 L456.3 579.0 L454.7 578.6 L452.9 578.7 L451.3 578.4 L449.7 579.3 L447.9 579.7 L446.4 580.9 L445.6 579.4 L443.8 579.0 L443.0 577.5 L441.5 576.8 L439.9 575.8 L438.2 576.5 L436.5 576.7 L434.9 576.0 L433.1 576.0 L431.8 574.6 L430.1 574.2 L428.7 573.2 L426.8 573.5 L426.8 571.6 L425.1 570.4 L424.4 568.8 L424.3 567.0 L422.2 567.0 L420.2 566.2 L418.6 567.0 L416.9 566.2 L415.2 566.2 L413.7 567.0 L412.8 565.6 L410.9 565.7 L410.2 564.0 L408.3 564.0 L407.2 562.9 L406.2 564.4 L404.7 565.4 L403.9 567.0 L402.1 567.5 L400.5 567.2 L399.1 565.6 L397.3 566.2 L395.7 565.8 L394.1 565.3 L393.4 563.6 L392.5 562.1 L390.9 561.7 L389.2 562.8 L387.6 562.1 L385.9 561.8 L384.3 561.6 L382.6 561.9 L381.0 561.3 L379.9 560.2 L379.1 558.6 L377.2 558.4 L376.1 557.2 L374.5 556.9 L372.7 557.3 L371.2 556.4 L369.8 557.7 L367.8 558.1 L366.7 560.0 L364.7 560.4 L362.9 561.0 L361.5 562.0 L361.1 564.3 L358.7 564.2 L358.0 566.1 L356.5 567.0 L354.8 567.7 L353.4 568.9 L352.5 570.7 L350.9 571.5 L349.2 571.4 L347.6 571.6 L346.0 571.6 L344.4 572.3 L343.3 573.6 L341.5 573.9 L339.9 574.6 L338.9 576.0 L337.8 577.2 L336.9 578.5 L336.8 580.3 L335.4 581.3 L334.8 582.7 L333.4 583.7 L332.9 585.3 L332.4 586.9 L332.5 588.6 L333.0 590.3 L332.0 591.8 L332.1 593.5 L332.0 595.2 L333.0 596.7 L331.9 598.5 L332.5 600.1 L332.9 601.7 L333.7 603.3 L332.4 605.0 L333.9 606.5 L333.7 608.2 L333.2 609.9 L333.7 611.5 L335.0 612.7 L336.4 613.8 L337.8 614.8 L337.1 616.3 L337.0 618.0 L335.2 618.1 L333.4 618.3 L331.6 618.6 L329.8 618.8 L328.0 618.0 L326.3 618.0 L324.7 618.2 L323.1 618.9 L321.4 618.9 L319.9 619.7 L319.3 621.4 L318.2 622.9 L316.5 623.2 L314.9 622.8 L313.3 621.8 L311.6 623.1 L310.0 622.1 L308.4 621.2 L306.5 620.7 L305.4 619.0 L303.4 618.8 L301.9 617.7 L300.3 618.3 L298.6 618.4 L296.9 618.5 L295.3 618.8 L293.4 619.2 L292.2 620.7 L290.4 621.3 L290.6 619.5 L288.9 618.2 L288.8 616.5 L288.8 614.8 L287.0 615.2 L285.4 614.8 L284.0 613.3 L282.3 613.0 L280.6 613.1 L279.5 611.9 L279.0 610.6 L279.0 609.0 L277.3 608.7 L275.8 607.8 L274.2 607.2 L272.6 607.0 L270.9 606.8 L269.2 606.6 L267.5 606.5 L266.2 605.5 L264.6 605.2 L263.4 604.0 L262.0 603.2 L260.5 602.7 L258.9 602.3 L257.7 601.4 L256.9 599.8 L254.8 600.1 L254.0 598.6 L252.5 597.7 L250.9 597.1 L249.3 596.6 L247.4 597.2 L245.9 596.5 L244.2 596.2 L242.6 595.7 L241.0 595.2 L239.5 594.2 L237.6 594.6 L237.0 596.2 L237.4 597.9 L236.8 599.5 L234.8 599.3 L233.2 600.3 L231.3 600.5 L229.5 601.1 L227.9 600.7 L226.2 602.0 L224.6 600.6 L222.9 600.8 L221.3 601.1 L219.7 601.1 L218.0 601.1 L216.4 601.2 L214.8 601.7 L213.1 601.0 L211.5 601.1 L209.8 601.0 L208.9 599.5 L207.7 598.4 L206.2 597.9 L205.0 597.0 L203.4 596.1 L202.1 594.6 L200.4 593.9 L198.1 594.3 L196.8 592.9 L195.1 592.7 L193.5 593.4 L192.0 594.7 L190.3 594.5 L188.6 594.6 L186.7 593.9 L184.9 593.0 L183.7 591.3 L182.7 590.0 L182.2 588.4 L180.4 587.8 L179.6 586.4 L177.9 585.3 L176.0 585.2 L174.0 585.8 L172.3 584.7 L170.8 583.6 L169.1 583.6 L167.6 582.5 L165.8 582.4 L164.1 582.3 L162.7 581.1 L160.7 580.9 L159.5 579.3 L157.6 579.0 L155.9 577.7 L154.0 577.3 L151.9 577.4 L152.9 575.7 L154.4 574.4 L155.1 572.5 L154.8 570.9 L153.9 569.3 L154.3 567.6 L152.5 568.0 L150.9 567.5 L149.3 566.9 L147.8 566.0 L146.0 566.2 L144.5 565.2 L142.9 564.4 L141.2 564.3 L140.7 562.9 L140.0 561.6 L139.6 560.2 L141.3 559.8 L142.8 558.6 L144.5 558.2 L146.3 558.1 L147.8 557.0 L148.5 555.6 L149.0 554.1 L150.9 553.4 L151.4 551.9 L151.9 550.4 L152.2 548.7 L152.7 547.1 L153.6 545.5 L154.2 543.9 L154.1 542.1 L155.1 540.6 L154.7 538.7 L155.5 537.2 L157.0 535.9 L156.4 533.9 L157.4 532.4 L157.4 530.7 L158.4 529.2 L158.2 527.5 L158.3 525.8 L159.0 524.3 L158.9 522.6 L158.9 520.9 L160.0 519.4 L159.6 517.6 L160.0 516.0 L160.8 514.5 L160.4 512.7 L160.6 511.1 L161.7 509.6 L161.9 508.0 L162.1 506.3 L162.9 504.8 L162.0 502.9 L162.9 501.4 L163.3 499.8 L163.2 498.2 L162.7 496.5 L164.5 495.0 L163.3 493.2 L163.2 491.6 L164.1 490.0 L164.7 488.6 L164.9 487.0 L164.5 485.3 L165.5 483.7 L165.2 482.0 L165.0 480.3 L165.1 478.7 L166.5 477.2 L166.3 475.5 L166.2 473.8 L167.4 472.3 L167.1 470.6 L168.2 469.1 L167.3 467.3 L167.5 465.6 L167.8 464.0 L169.1 462.5 L168.8 460.8 L169.2 459.2 L168.9 457.5 L168.6 455.8 L169.8 454.3 L170.5 452.7 L170.0 451.0 L169.2 449.3 L169.4 447.6 L170.4 446.1 L169.5 444.5 L169.5 442.9 L169.2 441.3 L169.1 439.6 L170.0 437.9 L169.6 436.3 L171.0 435.0 L170.5 432.9 L171.7 431.5 L173.3 430.2 L173.3 428.2 L174.1 426.6 L175.1 425.1 L175.7 423.5 L176.1 421.8 L175.8 420.0 L174.7 418.5 L175.0 416.8 L175.3 415.1 L174.9 413.5 L174.5 411.4 L172.1 410.6 L171.7 408.6 L172.2 407.0 L173.8 406.2 L174.1 404.5 L172.7 403.5 L172.3 401.9 L171.7 400.4 L169.9 399.9 L168.6 398.5 L166.8 398.0 L165.4 396.7 L163.3 397.3 L162.0 395.7 L160.2 395.5 L158.8 394.1 L157.3 393.0 L155.4 392.4 L153.7 391.5 L153.1 389.6 L151.1 388.8 L149.9 387.2 L148.8 385.7 L147.7 384.3 L147.9 382.3 L146.8 380.9 L145.8 379.4 L145.5 377.6 L143.9 376.8 L143.3 374.9 L142.0 373.8 L140.6 372.7 L139.9 370.9 L138.3 369.5 L137.4 367.8 L137.8 365.9 L137.6 364.0 L139.0 362.3 L139.0 360.4 L139.8 358.4 L141.7 357.6 L143.1 356.3 L142.0 354.9 L140.5 354.0 L138.5 353.8 L137.3 352.5 L136.2 351.1 L136.8 349.1 L136.2 347.0 L137.6 346.4 L139.2 345.9 L140.5 345.1 L141.4 343.6 L142.7 342.9 L140.9 342.5 L139.4 343.1 L137.9 344.2 L136.3 344.4 L134.6 344.5 L132.9 345.1 L131.3 344.3 L129.7 343.1 L128.0 343.7 L126.4 342.8 L126.0 340.9 L124.8 339.6 L124.7 337.7 L125.1 336.1 L126.4 334.7 L127.7 333.8 L128.3 332.2 L129.7 331.5 L127.8 331.7 L126.2 331.0 L124.8 329.8 L122.9 329.3 L121.0 329.1 L119.0 329.0 L117.3 328.1 L116.6 326.4 L116.6 324.2 L114.9 323.3 L113.3 324.1 L111.6 323.7 L110.0 324.1 L108.1 324.0 L106.3 323.1 L104.3 323.3 L103.3 321.5 L101.9 320.0 L100.5 318.7 L98.6 318.4 L97.0 317.1 L95.3 316.0 L93.6 315.0 L92.2 313.7 L91.3 311.9 L90.3 313.4 L88.3 313.0 L87.2 314.3 L85.3 314.1 L83.6 313.5 L82.3 311.9 L80.9 310.5 L78.9 311.3 L77.4 310.2 L77.2 308.5 L75.1 307.9 L74.9 306.2 L72.8 305.8 L70.8 305.3 L69.8 304.2 L70.3 302.4 L69.2 301.3 L68.2 302.8 L67.4 304.5 L66.8 306.2 L65.8 307.3 L65.1 308.6 L65.1 310.2 L63.2 310.2 L61.3 309.5 L59.4 309.4 L59.7 307.3 L60.2 305.3 L58.8 304.0 L59.1 301.8 L57.8 300.4 L56.3 299.2 L54.8 297.8 L52.9 297.2 L51.1 297.2 L49.6 296.1 L47.9 295.8 L46.3 295.2 L48.0 295.3 L49.4 293.8 L51.1 293.9 L52.8 293.8 L54.3 292.7 L56.1 293.1 L57.7 293.0 L59.4 293.2 L61.0 292.5 L62.7 292.7 L64.3 292.3 L63.7 290.6 L62.7 289.0 L61.0 289.4 L59.4 288.9 L57.9 287.6 L56.1 288.7 L54.5 288.2 L54.4 286.5 L54.5 284.9 L56.2 284.3 L57.8 284.7 L59.5 284.8 L61.0 286.3 L62.7 285.7 L64.3 286.3 L65.9 286.7 L67.5 287.1 L69.2 286.6 L70.8 286.6 L69.7 284.7 L67.6 284.1 L66.0 283.6 L64.3 283.3 L62.9 281.9 L61.2 281.5 L59.6 281.0 L57.7 281.3 L56.1 280.8 L57.7 280.3 L58.6 278.8 L60.5 278.7 L61.7 277.7 L62.3 275.9 L64.3 275.9 L65.1 274.3 L63.8 275.5 L62.4 276.4 L60.4 276.1 L59.2 277.5 L57.5 277.8 L55.8 278.3 L54.8 280.0 L52.9 280.0 L51.3 279.3 L49.6 279.9 L48.0 279.2 L47.3 277.9 L46.6 276.6 L46.3 275.1 L47.3 273.3 L47.9 271.4 L48.0 269.4 L49.1 268.3 L50.2 267.2 L51.7 266.6 L53.1 266.0 L54.5 265.3 L55.9 264.0 L57.6 263.4 L59.6 263.8 L61.2 263.1 L62.7 262.1 L64.3 263.0 L66.0 263.0 L67.6 262.8 L69.2 262.1 L70.8 261.5 L72.4 260.8 L74.1 260.7 L75.7 260.7 L77.4 260.4 L78.2 261.8 L78.9 263.3 L80.0 264.6 L80.6 266.1 L82.2 264.8 L82.5 262.6 L83.9 261.2 L85.6 261.7 L86.9 263.0 L88.8 262.9 L90.8 263.5 L92.9 262.9 L92.5 261.2 L92.9 259.6 L93.7 257.7 L95.3 256.3 L97.0 256.7 L98.5 255.2 L100.1 255.2 L101.8 255.8 L103.5 255.7 L105.1 255.5 L106.8 254.9 L108.4 254.7 L110.0 255.0 L111.7 255.5 L112.4 257.2 L113.9 258.2 L114.9 259.6 L115.0 261.5 L116.1 262.8 L116.6 264.5 L118.9 265.1 L119.0 267.0 L120.3 268.1 L121.4 269.2 L121.6 271.0 L122.5 272.2 L123.8 273.3 L123.9 275.1 L125.4 274.0 L126.4 272.2 L128.1 271.4 L129.5 270.2 L131.3 269.4 L133.1 269.3 L134.5 268.1 L136.0 267.2 L137.8 267.0 L139.6 267.6 L140.3 269.4 L141.3 270.8 L142.7 271.9 L144.4 271.9 L146.1 272.0 L147.6 271.0 L147.9 272.7 L149.6 273.7 L150.6 275.0 L150.9 276.8 L151.2 275.1 L151.1 273.5 L150.4 271.9 L150.9 270.2 L150.1 268.6 L151.8 268.2 L153.2 267.2 L155.0 267.0 L156.1 268.1 L156.9 269.3 L156.6 271.0 L158.4 271.3 L160.2 271.7 L162.0 271.7 L163.8 270.9 L165.6 271.0 L167.3 271.0 L169.0 271.2 L170.5 270.2 L169.7 268.9 L168.3 268.3 L167.0 267.6 L166.2 266.2 L165.8 264.7 L164.6 263.6 L164.5 261.9 L164.1 260.2 L165.2 258.6 L166.0 257.1 L165.3 255.3 L165.5 253.7 L165.3 252.0 L165.3 250.4 L165.6 248.8 L166.3 247.2 L165.8 245.5 L165.4 243.7 L166.0 241.7 L164.2 240.1 L164.5 238.2 L163.2 236.9 L162.6 235.2 L161.4 233.8 L161.1 231.9 L159.6 230.8 L159.5 229.0 L159.0 227.3 L157.8 225.9 L156.2 224.6 L156.3 222.7 L156.7 220.8 L157.0 218.9 L157.2 217.0 L156.3 215.4 L155.2 213.9 L154.7 212.1 L156.3 212.7 L157.8 213.4 L159.6 212.9 L161.5 213.1 L162.7 214.8 L164.5 215.3 L166.1 214.7 L167.8 214.5 L169.5 214.8 L171.0 213.7 L172.8 214.5 L174.7 214.0 L176.6 213.2 L178.4 213.7 L178.8 215.8 L180.5 217.0 L180.0 218.9 L178.7 220.4 L177.6 221.9 L177.9 223.6 L179.5 224.6 L180.4 226.0 L180.8 227.6 L180.9 229.4 L181.8 230.7 L183.3 231.7 L185.1 230.8 L187.0 230.4 L189.0 230.0 L190.8 230.3 L192.5 230.7 L194.1 231.6 L195.2 233.4 L197.2 233.3 L198.9 232.7 L200.5 233.2 L202.2 233.3 L203.8 233.3 L205.4 234.3 L207.0 234.4 L208.4 235.6 L210.0 236.6 L211.8 237.1 L213.5 237.7 L215.2 238.2 L216.7 236.7 L218.4 237.1 L220.0 237.4 L221.8 237.3 L222.2 235.1 L223.7 234.6 L225.3 234.1 L226.6 233.3 L228.0 231.9 L229.9 231.2 L231.5 230.0 L233.2 229.2 L234.8 230.0 L233.0 230.1 L231.7 228.4 L229.7 229.4 L228.2 228.4 L227.9 226.4 L226.3 225.1 L226.2 223.5 L228.1 222.5 L228.0 220.9 L228.2 219.4 L229.5 218.2 L229.9 216.3 L231.5 215.3 L232.8 213.8 L235.0 214.1 L236.1 212.3 L237.8 211.5 L239.9 211.7 L241.3 210.4 L243.2 210.4 L244.3 208.4 L246.5 209.3 L247.9 208.0 L249.4 207.1 L250.9 206.1 L252.7 205.9 L254.4 205.5 L256.3 205.8 L257.5 204.1 L259.1 203.3 L260.7 202.8 L262.4 202.2 L264.2 202.3 L265.7 201.2 L267.8 201.3 L268.7 199.2 L270.4 198.5 L272.3 198.2 L273.9 197.9 L275.1 197.0Z M510.0 575.0 L511.4 575.6 L512.6 576.5 L513.3 577.9 L513.7 579.5 L514.4 581.1 L514.8 582.7 L514.5 584.4 L514.0 586.2 L514.9 587.7 L514.2 589.3 L514.1 590.9 L514.7 592.6 L514.1 594.2 L514.9 595.8 L516.1 597.3 L517.0 598.8 L517.9 600.4 L518.2 602.3 L518.9 603.9 L518.1 605.7 L518.6 607.3 L518.9 608.9 L519.2 610.6 L520.5 612.0 L520.6 613.7 L520.6 615.4 L520.5 617.0 L520.4 618.7 L520.3 620.3 L520.3 621.9 L521.0 623.5 L520.9 625.4 L519.3 626.7 L518.5 628.3 L518.0 630.0 L517.7 631.9 L516.5 633.3 L516.4 634.9 L516.9 636.6 L515.5 638.1 L515.5 639.8 L515.9 641.4 L516.1 643.1 L515.7 644.7 L514.7 646.2 L514.8 647.9 L513.9 649.5 L513.6 651.1 L513.7 652.9 L513.3 654.5 L513.2 656.3 L512.7 658.0 L512.7 659.7 L512.9 661.5 L512.5 663.3 L511.4 664.9 L511.7 666.7 L509.9 667.2 L508.3 666.9 L506.8 665.9 L505.6 664.8 L504.0 664.2 L502.9 662.9 L501.6 662.0 L500.3 661.0 L498.7 660.7 L497.6 659.2 L495.6 659.8 L494.3 658.9 L492.6 658.7 L491.3 657.7 L491.2 656.0 L490.4 654.5 L490.5 652.8 L491.7 651.5 L493.5 650.8 L494.6 649.3 L492.9 649.4 L491.3 648.8 L489.8 648.0 L488.0 649.1 L486.3 648.9 L484.8 648.0 L485.0 646.2 L486.4 644.8 L486.8 643.1 L487.2 641.4 L485.6 641.0 L484.2 640.0 L482.7 639.4 L481.5 638.2 L482.4 636.9 L482.9 635.2 L484.7 634.5 L485.9 633.4 L486.4 631.7 L485.3 630.2 L483.7 629.7 L482.5 628.6 L480.7 628.4 L479.5 627.2 L479.4 625.6 L480.0 623.8 L479.2 622.4 L478.3 621.1 L479.9 619.9 L482.0 619.5 L483.2 617.8 L482.0 616.4 L480.8 615.0 L478.9 614.4 L477.8 612.9 L478.1 611.2 L479.2 609.9 L479.5 608.2 L480.6 606.9 L482.2 605.8 L482.3 604.0 L483.4 602.7 L484.4 601.1 L485.8 600.0 L487.2 599.0 L488.9 598.3 L490.7 598.1 L492.1 596.8 L493.6 596.0 L495.1 595.1 L497.0 595.0 L498.7 594.6 L499.4 592.9 L500.4 591.6 L501.9 590.9 L503.8 590.8 L505.4 591.4 L506.8 592.6 L506.3 591.0 L507.1 589.3 L506.2 587.7 L506.1 586.1 L506.8 584.5 L506.4 582.8 L506.8 581.2 L507.9 579.7 L506.7 577.8 L507.6 576.3 L508.8 575.7Z"/></clipPath>
<filter id="relief" x="0" y="0" width="100%" height="100%" color-interpolation-filters="sRGB"><feTurbulence type="turbulence" baseFrequency="0.11" numOctaves="4" seed="5"/><feColorMatrix type="matrix" values="0 0 0 0 0.25  0 0 0 0 0.25  0 0 0 0 0.22  0 0 0 1.7 -0.06"/></filter>
<filter id="bl" x="-50%" y="-50%" width="200%" height="200%"><feGaussianBlur stdDeviation="6"/></filter>
<mask id="mts" maskUnits="userSpaceOnUse" x="0" y="100" width="560" height="600"><g filter="url(#bl)" fill="#fff">
<path d="M450 398 L478 398 L488 420 L484 432 L496 448 L482 466 L494 486 L490 502 L520 516 L512 540 L480 548 L446 536 L428 510 L426 470 L424 440 L436 412Z" opacity="0.75"/>
<ellipse cx="476" cy="448" rx="14" ry="42" opacity="0.6"/>
<ellipse cx="486" cy="505" rx="24" ry="14" opacity="0.5"/>
<ellipse cx="335" cy="452" rx="30" ry="38" opacity="0.42"/><ellipse cx="325" cy="515" rx="26" ry="34" opacity="0.45"/>
<ellipse cx="372" cy="496" rx="30" ry="30" opacity="0.55"/>
<ellipse cx="352" cy="540" rx="16" ry="12" opacity="0.25"/>
<ellipse cx="489" cy="296" rx="6" ry="28" opacity="0.3"/>
<ellipse cx="458" cy="366" rx="16" ry="28" opacity="0.4"/>
<path d="M150 580 L200 592 L240 596 L290 612 L335 616" fill="none" stroke="#fff" stroke-width="18" opacity="0.9"/>

<ellipse cx="500" cy="622" rx="10" ry="30" opacity="0.3"/>
</g></mask>
<g id="lines">
<path d="M183.3 231.7 L183.7 233.7 L182.8 235.5 L182.5 237.4 L183.8 239.0 L185.5 240.1 L187.1 241.4 L189.0 242.3 L189.6 243.9 L189.6 245.7 L190.6 247.2 L189.3 248.8 L188.8 250.9 L187.0 252.1 L185.7 253.7 L185.1 255.8 L182.6 256.5 L181.4 258.1 L180.8 260.2 L182.6 261.2 L184.3 262.4 L185.5 264.3 L187.4 265.1 L189.7 265.2 L191.9 265.7 L193.9 266.8 L194.7 268.8 L194.6 270.9 L194.3 273.0 L194.7 275.0 L192.8 276.6 L192.3 279.0 M193.9 266.8 L195.1 265.2 L195.6 263.2 L197.2 261.9 L199.5 262.1 L201.5 261.4 L203.3 260.0 L205.3 259.4 L207.3 260.3 L209.5 260.2 L211.6 260.8 L213.5 261.9 L215.0 260.7 L216.9 260.6 L218.1 259.0 L220.0 258.6 L222.3 258.8 L223.9 256.7 L226.0 256.3 L228.2 256.2 L230.2 255.2 L232.4 256.2 L234.3 255.3 L236.4 255.3 M234.8 230.0 L235.2 231.9 L234.1 233.7 L234.7 235.6 L233.9 237.4 L234.4 239.7 L235.4 241.8 L236.4 243.9 L237.1 246.0 L237.3 248.3 L238.0 250.4 L237.4 252.0 L237.7 253.9 L236.4 255.3 L238.0 256.3 L239.6 257.4 L241.3 258.3 L242.6 259.8 L244.6 260.2 L245.5 262.1 L247.2 263.4 L248.7 264.9 L249.5 266.8 L251.1 267.8 L251.2 269.9 L252.7 270.9 M238.0 229.2 L239.9 230.4 L242.1 229.9 L244.1 230.8 L246.2 230.8 L247.6 232.1 L249.7 232.3 L251.5 233.1 L252.7 234.9 L254.4 235.7 L256.5 236.5 L257.8 238.3 L259.3 239.8 L261.3 239.4 L262.9 238.3 L263.8 236.1 L265.8 235.7 L266.9 233.7 L268.7 232.5 L271.1 231.9 L272.3 230.0 L274.3 228.9 L276.4 229.1 L278.4 228.7 L280.5 229.2 L282.8 229.4 L284.6 230.8 M216.8 283.1 L215.4 285.1 L215.0 287.3 L215.1 289.7 L213.9 291.6 L214.0 293.9 L213.0 295.9 L211.9 297.8 L211.0 299.7 L210.3 301.7 L211.1 304.1 L210.3 306.1 L208.5 307.8 L208.6 310.0 L209.6 311.9 L208.9 314.0 L209.7 316.0 L209.5 318.0 L210.0 320.0 L208.6 321.8 L208.3 323.9 L207.8 326.1 L207.1 328.1 L206.0 330.0 L206.4 332.1 L207.0 334.1 L208.0 336.0 L208.5 338.0 L209.0 340.0 L209.5 341.8 L210.6 343.5 L211.3 345.3 L211.2 347.3 L212.6 348.8 L212.3 350.9 L212.5 352.8 L213.1 354.7 L214.2 356.3 M282.1 250.4 L283.5 251.6 L285.5 251.3 L287.0 252.1 L288.9 253.4 L290.8 254.5 L293.3 254.2 L295.2 255.3 L296.2 257.0 L298.0 257.7 L299.5 258.8 L300.6 260.4 L301.7 261.9 L303.4 260.9 L304.1 258.8 L306.0 258.0 L307.6 259.2 L309.6 259.8 L311.5 260.5 L313.0 262.0 M300.7 146.0 L300.8 147.9 L300.9 149.9 L302.9 151.3 L302.5 153.4 L302.9 155.3 L304.1 156.6 L305.6 157.7 L308.1 157.2 L310.5 158.3 L308.9 159.5 L308.1 161.4 L308.9 163.0 L310.9 163.5 L311.7 165.1 L313.5 166.1 L315.4 165.2 L317.3 165.5 L319.1 165.7 L321.6 165.7 L324.0 165.1 L323.9 167.0 L324.0 168.8 L324.6 170.6 L326.6 171.1 L328.3 172.2 L330.2 173.1 L331.8 173.5 L332.6 174.9 M280.4 181.0 L282.4 180.4 L284.4 180.8 L286.5 181.4 L288.4 180.4 L289.8 181.6 L291.5 182.2 L293.2 182.9 L294.6 184.1 L296.7 185.3 L297.2 188.0 L299.5 189.0 L301.6 189.3 L303.5 188.2 L305.6 188.4 L307.6 188.4 L309.7 188.4 L311.7 187.8 M332.6 174.9 L332.4 177.0 L330.5 178.3 L330.2 180.4 L330.9 182.1 L332.7 182.7 L333.8 184.1 L335.2 185.5 L336.3 187.1 L336.9 189.0 L336.0 190.8 L334.4 191.9 L332.6 192.7 L333.5 194.2 L332.8 196.1 L333.8 197.6 M309.3 193.9 L311.1 193.4 L312.9 193.5 L314.8 193.5 L316.6 193.3 L318.6 193.7 L319.9 195.4 L321.6 196.4 L322.9 197.9 L324.8 198.1 L326.5 198.8 L328.3 198.5 L330.2 198.7 L332.0 197.8 L333.8 197.6 L335.8 198.1 L337.5 199.4 L339.7 199.7 L341.7 198.2 L344.0 199.2 L346.1 198.2 L348.3 198.6 L350.4 197.7 L352.6 197.3 L354.7 197.0 L357.0 196.7 L359.1 197.3 L361.0 198.8 L363.3 198.8 L365.0 200.0 L366.9 200.6 L369.1 200.5 L370.7 201.9 M336.9 200.7 L335.6 202.3 L335.9 204.4 L335.1 206.2 L333.4 207.7 L332.6 209.9 M329.0 232.0 L327.5 233.7 L327.5 236.2 L326.0 238.0 L324.6 239.7 L324.7 242.0 L324.0 244.0 L325.2 245.9 L325.8 248.1 L327.0 250.0 M287.2 214.8 L289.1 215.1 L290.9 215.7 L292.7 215.9 L294.6 216.0 L296.5 216.5 L298.5 217.0 L300.5 216.8 L302.5 215.9 L304.4 216.6 L306.4 216.9 L308.1 218.1 L310.0 218.7 L311.7 219.7 L313.0 221.3 L314.8 221.7 L316.6 222.2 M338.0 228.0 L340.2 227.7 L341.8 229.6 L343.9 229.9 L346.0 230.0 L348.1 230.5 L349.1 232.5 L351.1 233.2 L352.0 235.3 L354.0 236.0 L355.9 236.3 L357.6 235.1 L359.5 235.3 L361.3 234.9 L363.1 234.6 M405.8 223.3 L406.4 225.1 L406.8 226.9 L406.0 228.9 L406.4 230.7 L405.8 232.9 L404.1 234.7 L403.3 236.8 L403.5 238.6 L401.7 239.9 L402.1 241.7 L400.2 241.1 L398.2 241.6 L396.2 241.7 L394.5 240.1 L392.6 239.7 L390.5 240.4 L388.6 239.9 L386.3 240.1 L384.5 238.1 L382.3 237.8 L380.0 238.0 L378.4 236.9 L376.4 236.2 L375.5 234.0 L374.1 232.5 L372.0 232.0 M402.1 241.7 L401.2 243.5 L402.3 245.4 L402.3 247.3 L401.5 249.1 L402.8 250.9 L402.3 253.3 L403.3 255.2 L401.7 257.0 L400.5 258.9 L400.3 261.4 L400.2 263.3 L400.4 265.1 L400.9 266.9 L401.8 268.7 L403.3 270.0 L403.8 271.6 L404.1 273.3 L404.6 274.9 L406.6 275.6 L408.4 276.7 L409.5 278.6 L410.7 280.1 L412.3 280.9 L413.6 282.0 L415.6 282.2 L416.5 283.7 L418.0 284.8 L419.3 285.9 L420.5 287.8 L420.5 290.0 L420.8 292.3 L422.2 294.0 L422.5 296.3 L424.0 298.0 L425.1 299.9 L426.6 301.4 L428.3 302.7 L430.0 304.0 L430.6 306.0 L432.2 307.4 L432.9 309.4 L434.2 311.0 L435.3 312.7 M419.3 230.7 L421.4 230.9 L423.4 230.1 L425.4 229.5 L426.3 231.5 L427.9 233.1 L429.2 235.0 L428.4 237.3 L429.1 239.3 L429.3 241.3 L430.4 242.9 L431.0 244.8 L431.6 246.6 L432.8 248.5 L433.4 250.7 L434.0 252.8 L433.1 254.8 L431.8 256.6 L431.6 258.9 L431.2 261.0 L431.2 263.0 L430.9 265.1 L431.5 267.1 L430.9 269.2 L431.6 271.2 L431.5 273.3 L431.5 275.4 L430.3 277.3 L431.0 279.0 L431.9 280.6 L432.8 282.2 L433.6 283.9 L435.3 284.6 L436.5 285.9 M435.2 229.5 L436.5 231.4 L437.4 233.3 L437.7 235.6 L438.7 237.2 L439.9 238.6 L440.2 240.5 L439.6 242.4 L439.3 244.5 L437.8 246.0 L437.1 247.9 L438.4 249.6 L440.2 251.0 L441.4 252.8 L443.0 254.2 L445.4 253.9 L446.5 256.3 L448.7 256.5 L449.6 258.1 L450.9 259.5 L451.2 261.4 L453.0 262.5 L454.6 263.8 L456.1 265.1 L458.3 265.2 L459.6 267.2 L461.5 268.0 L463.5 268.7 L465.3 269.6 L467.1 270.5 L468.7 271.7 L470.8 271.8 L472.9 272.8 L474.9 273.9 L477.0 274.9 L477.7 276.7 L479.0 277.9 L480.7 278.6 L482.0 280.3 L482.8 282.2 L482.2 284.6 L483.5 286.4 L484.4 288.2 L486.5 288.6 L488.0 289.9 L489.5 291.2 L491.0 292.4 L492.8 293.3 L494.2 294.7 L495.9 295.8 L497.0 297.4 L498.0 299.2 L500.0 300.0 M478.2 246.6 L476.9 248.0 L476.8 250.0 L476.0 251.6 L474.5 252.8 L475.6 254.3 L475.7 256.3 L477.0 257.7 L478.5 258.7 L479.0 260.7 L480.7 261.4 L482.6 260.3 L484.3 258.9 L484.7 257.3 L485.4 255.7 L485.6 254.0 L487.3 253.7 L488.9 253.2 L490.5 252.8 L492.0 253.7 L493.7 253.9 L495.4 254.0 M480.7 278.6 L478.7 278.7 L477.7 280.7 L475.8 281.0 L473.7 281.5 L472.1 282.8 L469.9 283.0 L468.4 284.7 L467.2 282.8 L465.9 281.0 L464.1 281.7 L462.5 283.0 L460.5 283.0 L458.6 283.5 L456.5 282.9 L454.5 283.1 L452.7 284.7 L450.6 283.9 L448.7 284.7 L446.8 285.5 L444.8 285.0 L442.8 285.6 L440.9 286.1 L438.9 285.9 L437.3 285.1 L436.1 283.7 L434.5 282.9 L432.8 282.2 M391.0 279.8 L391.8 281.8 L393.2 283.7 L393.5 285.9 L391.9 287.6 L391.5 289.9 L390.7 291.9 L390.0 294.0 L387.9 294.9 L387.5 297.5 L385.1 298.1 L384.0 300.0 L383.9 302.1 L383.2 304.1 L382.5 306.0 L381.1 307.8 L380.2 309.7 L380.3 311.9 M368.9 409.6 L369.0 411.9 L367.6 413.7 L367.3 415.9 L365.9 417.7 L366.0 420.0 L365.1 421.9 L364.6 424.0 L363.3 425.8 L363.7 428.1 L362.1 429.8 L362.0 432.0 L362.4 433.8 L362.3 435.8 L362.0 437.7 L362.6 439.5 L363.2 441.3 L363.2 443.2 L364.0 445.0 L363.7 447.1 L362.1 448.4 L360.4 449.7 L359.6 451.4 L359.1 453.4 L358.0 455.0 L358.7 456.8 L358.8 458.7 L358.9 460.6 L359.7 462.4 L358.5 464.5 L359.2 466.3 L359.7 468.1 L360.0 470.0 L360.6 472.0 L360.4 474.0 L360.2 476.0 L360.8 477.9 L360.4 479.9 L360.4 481.9 L360.2 483.9 M92.9 262.9 L92.1 264.5 L91.1 266.1 L90.7 267.9 L89.6 269.4 L89.5 271.7 L90.5 273.6 L91.0 275.7 L92.1 277.6 L91.8 279.6 L90.8 281.4 L90.7 283.4 L90.6 285.4 L90.4 287.4 L89.3 289.5 L87.2 290.7 L85.5 292.3 L85.0 294.6 L86.0 296.6 L86.4 298.8 L88.5 299.4 L90.4 300.7 L92.7 300.7 L94.5 302.1 L95.0 304.0 L94.3 306.1 L95.0 308.0 L95.3 309.9 L95.3 311.9 M90.4 289.0 L92.8 289.1 L94.8 290.0 L96.6 291.3 L98.6 292.3 L100.4 291.1 L102.7 292.0 L104.3 290.0 L106.5 290.4 L108.4 289.8 L110.5 290.5 L112.0 292.3 L114.6 292.2 L116.4 293.5 L118.2 294.7 L119.8 295.7 L121.3 296.8 L123.1 297.7 L123.9 299.6 L124.8 298.1 L125.3 296.3 L127.1 295.4 L128.0 293.9 L130.2 293.5 L132.1 294.7 M150.1 274.3 L149.5 276.4 L150.4 278.4 L151.3 280.4 L150.9 282.5 L149.0 283.2 L148.4 285.2 L146.6 286.0 L146.3 288.3 L144.4 289.0 L143.1 290.8 L140.6 290.9 L139.1 292.5 L138.4 294.9 L136.2 295.5 L136.6 297.5 L137.1 299.6 L137.9 301.6 L137.8 303.7 L139.9 304.8 L141.3 306.7 L142.7 308.6 L143.9 310.6 L144.4 312.8 L144.4 315.1 L143.0 316.5 L143.0 318.5 L142.3 320.2 L141.1 321.7 M217.4 370.0 L216.4 371.8 L217.4 373.8 L216.1 375.5 L216.8 377.5 L215.8 379.3 L216.2 381.3 L215.7 383.1 L216.0 385.0 L216.4 386.9 L218.0 388.5 L217.2 390.6 L218.7 392.2 L218.5 394.2 L219.0 396.1 L219.1 398.2 L220.2 399.9 L220.7 401.9 L222.1 403.5 L222.5 405.5 L223.7 407.1 L223.9 409.2 L225.5 410.2 L227.5 410.6 L228.4 412.8 L230.7 412.8 L232.1 414.1 L234.1 414.1 L236.0 413.8 L238.0 413.5 L240.0 414.2 L241.9 413.3 L244.2 412.7 L246.4 412.1 L248.4 410.8 L247.6 408.7 L247.3 406.5 L247.6 404.3 L249.0 402.4 L251.6 402.3 L253.2 400.8 L255.0 399.4 L255.8 397.6 L257.6 396.8 L258.9 395.5 L260.2 394.2 L261.5 392.9 M194.5 396.4 L194.6 398.5 L194.9 400.7 L195.4 402.8 L195.3 405.0 L195.9 407.1 L196.1 409.2 L197.7 410.1 L199.6 410.6 L201.2 411.5 L202.3 413.2 L204.0 414.0 L206.0 414.0 L207.3 415.7 L209.1 416.1 L210.9 416.5 L212.5 417.4 L214.4 416.6 L215.6 414.9 L217.3 413.8 L219.3 413.2 L220.6 411.5 L222.3 410.4 L223.9 409.2 M212.5 417.4 L212.4 419.7 L210.6 421.4 L209.9 423.4 L209.2 425.5 L207.6 427.1 L205.7 428.2 L203.0 427.7 L201.4 429.6 L199.4 430.4 L200.5 432.2 L200.8 434.4 L201.1 436.5 L203.0 437.9 L202.7 440.3 L204.3 441.9 L204.8 443.8 L203.8 445.9 L204.4 447.8 L205.6 449.7 L205.1 451.7 L206.1 453.6 L208.6 453.9 L210.1 455.2 L211.0 457.2 L212.0 459.1 L214.1 459.8 L215.7 458.0 L218.4 458.6 L220.2 457.2 L222.1 456.2 L223.9 454.9 L224.5 453.2 L225.4 451.5 L226.0 449.8 L227.2 448.4 L228.6 447.0 L229.6 445.4 L230.7 443.8 L232.4 442.8 L233.4 441.0 L235.3 440.2 L236.9 439.2 L237.6 437.2 L239.0 436.0 L240.5 434.9 L241.9 433.7 L243.4 432.3 L244.8 430.8 L246.0 429.1 L246.4 426.9 L248.5 425.9 L249.9 424.3 L250.6 422.3 L251.7 420.6 L251.6 418.3 L250.3 416.5 L248.8 414.7 L248.4 412.5 M241.9 435.3 L243.5 437.0 L246.0 436.8 L247.8 438.3 L250.0 438.6 L251.7 440.2 L253.9 440.9 L255.4 442.4 L256.5 444.4 L258.5 445.1 L259.9 446.8 L261.4 448.1 L263.0 449.3 L264.8 450.0 L264.3 452.0 L264.7 454.3 L264.2 456.3 L263.1 458.2 L264.4 460.0 L265.3 462.0 L265.4 464.4 L266.7 466.2 L268.0 468.0 L268.6 469.6 L269.6 471.1 L269.6 472.9 M264.8 448.4 L266.5 447.6 L268.3 447.0 L269.5 445.3 L271.7 445.3 L273.3 444.4 L275.0 443.5 L276.2 441.9 L277.9 441.2 L279.3 439.7 L281.4 439.6 L282.4 437.5 L284.4 437.3 L285.6 435.7 L287.6 435.3 L289.4 435.2 L290.9 434.2 L292.7 434.0 L294.2 432.9 L296.4 433.1 L298.0 434.9 L299.9 435.8 L302.3 435.6 L304.0 437.0 L305.9 437.8 L307.4 439.0 L308.7 440.6 L309.6 442.5 L311.3 443.5 M269.6 399.4 L269.9 401.4 L270.7 403.3 L270.2 405.4 L270.4 407.3 L271.3 409.2 L271.9 411.2 L273.7 412.7 L274.2 414.7 L274.8 416.7 L274.6 419.0 L276.2 420.6 L277.4 422.2 L278.9 423.4 L280.1 424.9 L282.2 425.6 L282.8 427.7 L284.4 428.8 L285.9 430.2 L288.0 430.7 L289.5 432.1 L291.0 433.5 M295.8 370.0 L296.8 371.9 L296.6 374.1 L298.4 375.6 L298.7 377.7 L299.0 379.8 L299.5 381.7 L298.9 383.7 L300.1 385.5 L300.0 387.4 L301.1 389.2 L300.7 391.2 M313.8 414.1 L315.3 412.7 L317.0 411.5 L319.1 411.0 L320.3 409.2 L322.2 409.0 L323.4 407.2 L325.5 407.3 L326.8 405.9 L327.5 407.8 L329.0 409.0 L331.4 409.3 L331.5 411.8 L333.4 412.5 L335.5 412.8 L337.1 414.4 L339.4 414.0 L341.0 415.4 L343.0 416.0 L344.7 414.8 L346.7 414.3 L348.5 413.4 L350.0 412.0 L351.8 413.3 L353.8 414.1 L355.8 414.9 L358.0 415.0 L359.3 413.5 L360.3 411.9 L361.8 410.5 L362.7 408.8 L364.1 407.4 L364.8 405.5 M205.1 451.7 L203.3 451.7 L201.4 451.7 L199.6 451.2 L197.8 451.7 L195.6 452.0 L194.0 453.6 L191.9 454.1 L190.0 455.0 M325.0 465.0 L324.5 463.1 L323.6 461.4 L324.6 459.2 L324.0 457.4 L323.3 455.6 L323.0 453.7 L322.0 452.0 L321.9 449.7 L323.8 448.1 L323.3 445.8 L324.5 443.9 L325.3 442.0 L326.0 440.0 L327.2 438.3 L329.1 437.4 L330.4 435.9 L331.4 434.0 L333.2 433.0 L335.0 432.0 L337.0 431.6 L339.1 431.7 L341.1 431.2 L342.9 430.0 L345.0 430.0 L346.5 428.7 L347.1 426.9 L347.8 425.2 L348.0 423.1 L349.8 422.0 L350.0 420.0 L350.8 418.0 L349.8 416.0 L350.4 414.0 L350.0 412.0 M372.0 313.0 L372.9 311.2 L373.4 309.4 L373.9 307.5 L374.3 305.6 L375.4 303.9 L374.8 301.7 L376.0 300.0 L377.1 298.1 L378.9 296.9 L379.7 294.8 L381.8 293.8 L383.0 292.0 L382.2 290.1 L382.4 287.8 L380.8 286.1 L381.2 283.8 L380.0 282.0 L381.5 280.3 L381.2 277.9 L382.0 275.8 L382.4 273.7 L384.0 272.0 M404.3 324.7 L403.5 326.4 L402.8 328.1 L402.3 329.9 L401.0 331.4 L400.8 333.3 L400.0 335.0 L399.6 337.0 L397.8 338.2 L397.7 340.4 L395.2 341.2 L394.7 343.1 L394.0 345.0 L395.4 346.6 L395.8 348.5 L395.2 350.8 L396.2 352.5 L397.1 354.2 L398.0 356.0 L397.1 357.8 L395.5 359.0 L394.6 360.7 L394.7 363.1 L392.6 364.1 L392.0 366.0 L393.2 367.8 L393.2 370.2 L395.2 371.7 L394.7 374.2 L396.0 376.0 L397.4 377.5 L397.2 379.8 L398.0 381.6 L399.7 383.0 L401.1 384.5 L401.9 386.3 L401.9 388.5 L403.1 390.1 L404.3 391.7 M427.2 326.3 L428.7 328.0 L428.9 330.1 L428.8 332.5 L430.8 333.9 L431.5 335.9 L432.0 338.0 L430.7 339.8 L429.7 341.7 L429.6 344.0 L428.0 345.7 L428.0 348.0 L428.9 349.8 L430.6 350.7 L432.5 351.5 L433.4 353.2 L434.6 354.7 L436.0 356.0 L437.7 354.4 L439.7 353.6 L442.3 354.4 L443.8 352.2 L446.0 352.0 L448.1 352.3 L449.9 350.6 L452.1 351.3 L454.1 351.0 L456.0 350.0 L456.4 352.0 L457.8 353.4 L459.6 354.4 L461.2 355.7 L461.7 357.6 L463.3 358.8 L464.0 360.7 L464.9 362.4 L466.0 363.9 M413.3 390.9 L413.6 388.9 L414.8 387.2 L416.0 385.6 L416.0 383.4 L417.8 382.1 L418.0 380.0 L419.0 378.3 L420.2 376.9 L421.9 375.9 L423.1 374.5 L424.9 373.6 L426.0 372.0 L428.1 371.7 L429.8 370.7 L431.2 369.3 L432.7 368.0 L434.7 367.6 L436.0 366.0 L438.0 366.5 L440.1 366.2 L442.1 366.7 L443.9 368.3 L446.0 368.0 L448.0 369.0 L448.5 371.2 L450.2 372.4 L451.7 373.8 L453.1 375.2 L454.3 376.9 L455.4 378.6 L456.6 380.2 M437.0 403.1 L437.0 405.3 L435.0 406.6 L434.4 408.5 L433.0 410.1 L432.1 411.9 L432.0 414.0 L432.5 416.1 L433.2 418.2 L434.3 420.0 L435.2 422.0 L436.0 424.0 L437.2 425.8 L438.9 426.8 L441.0 427.4 L441.9 429.4 L444.0 430.0 L446.0 430.7 L446.8 432.9 L448.4 434.1 L450.6 434.5 L452.0 436.0 L453.9 435.1 L455.9 434.8 L458.0 434.8 L459.9 434.1 L462.0 434.0 L464.3 434.0 L466.2 435.1 L467.8 437.0 L470.0 437.3 L472.0 438.0 L473.2 436.1 L474.9 435.0 L476.7 434.0 L478.6 433.1 M404.0 412.0 L404.2 414.2 L406.0 415.8 L406.4 417.9 L406.6 420.0 L408.1 421.7 L408.0 424.0 L407.0 425.9 L407.5 428.3 L406.5 430.2 L405.0 431.9 L404.1 433.8 L404.0 436.0 L405.2 437.6 L405.3 439.8 L406.4 441.4 L408.4 442.4 L409.5 444.0 L410.0 446.0 L411.1 447.9 L412.8 449.2 L414.0 451.0 L416.0 452.0 L416.5 454.1 L415.2 456.0 L415.2 458.0 L414.7 460.0 L414.0 461.9 L414.0 464.0 L415.0 465.8 L416.9 466.8 L417.1 469.2 L418.6 470.6 L420.0 472.0 L421.8 473.2 L423.9 473.8 L425.9 474.7 L427.7 476.0 L430.0 476.0 L430.2 478.0 L431.4 479.5 L432.5 481.1 L433.2 482.9 L434.0 484.6 L434.1 486.6 L435.5 488.1 L435.5 490.1 L436.2 491.9 M368.9 409.6 L370.3 410.9 L372.3 411.5 L372.8 413.8 L375.0 414.3 L376.0 416.0 L377.8 417.3 L380.4 417.2 L382.2 418.6 L384.0 420.0 L386.0 419.6 L388.1 419.3 L390.2 419.2 L392.0 418.0 L393.6 417.0 L395.2 415.9 L397.0 415.2 L399.1 415.0 L400.8 414.2 L402.0 412.3 L404.0 412.0 M360.0 470.0 L362.1 469.3 L364.1 468.7 L366.0 467.6 L368.0 466.8 L370.0 466.0 L372.1 466.1 L373.9 467.4 L376.1 466.8 L378.1 466.9 L380.0 468.0 L381.2 466.3 L383.3 465.7 L385.2 464.9 L386.4 463.3 L388.0 462.0 L390.4 462.3 L392.2 463.6 L394.3 464.4 L396.0 466.0 L397.9 464.7 L399.9 463.7 L402.3 463.7 L404.0 462.0 L404.6 460.2 L405.9 458.6 L406.5 456.9 L406.0 454.6 L406.7 452.9 L408.7 451.6 L407.8 449.2 L409.2 447.7 L410.0 446.0 M396.2 510.9 L397.2 509.2 L397.4 507.4 L396.3 505.3 L396.9 503.6 L397.2 501.7 L398.0 500.0 L399.2 498.2 L399.6 496.0 L400.5 494.0 L401.6 492.2 L402.0 490.0 L401.8 488.0 L401.9 485.9 L400.3 484.1 L400.9 482.0 L401.1 479.9 L400.0 478.0 L401.2 476.1 L401.4 473.7 L403.6 472.3 L404.0 470.0 M436.2 519.0 L437.4 520.3 L438.6 521.7 L439.1 523.7 L440.5 524.9 L442.0 526.0 L441.1 527.9 L441.9 530.1 L441.0 532.0 L440.2 534.0 L440.0 536.0 L441.2 537.6 L442.9 538.8 L443.7 540.7 L444.8 542.4 L446.0 544.0 L447.7 545.5 L449.7 546.3 L452.2 546.0 L453.8 547.6 L456.0 548.0 L457.9 547.2 L460.0 547.0 L461.9 546.1 L463.9 546.1 L466.0 546.0 L467.8 545.2 L469.5 544.3 L471.1 543.1 L472.9 542.4 L474.3 540.9 L476.0 540.0 L477.8 541.4 L480.2 541.5 L482.3 542.5 L484.0 544.0 L485.2 545.7 L485.7 547.9 L487.6 549.1 L488.0 551.4 L489.6 552.8 L490.5 554.7 M403.5 529.7 L404.5 531.6 L405.9 532.9 L407.2 534.4 L409.8 534.6 L411.2 536.0 L412.0 538.0 L413.8 538.7 L415.1 540.5 L416.8 541.3 L418.3 542.7 L420.0 543.6 L422.0 544.0 L424.0 544.7 L426.0 545.6 L428.3 545.8 L429.8 547.8 L432.0 548.0 L433.9 547.0 L436.0 547.2 L438.0 547.2 L440.0 547.0 L442.1 546.2 L443.8 544.6 L446.0 544.0 M440.0 547.0 L440.3 549.0 L439.1 550.6 L438.5 552.4 L439.4 554.5 L438.2 556.1 L438.0 558.0 L438.1 560.3 L439.9 561.9 L441.2 563.7 L440.4 566.3 L442.0 568.0 L441.1 570.1 L439.5 571.8 L438.7 573.8 L438.0 576.0 M337.4 513.3 L339.2 512.8 L340.6 511.4 L342.8 512.1 L344.2 510.6 L346.0 510.0 L348.0 510.9 L349.9 512.2 L351.8 513.4 L354.0 514.0 L355.9 513.2 L357.6 512.1 L358.6 510.1 L360.8 509.7 L362.0 508.0 L363.9 508.5 L365.9 508.1 L367.9 507.5 L369.8 508.2 L371.7 508.4 M339.5 546.1 L341.2 545.3 L343.1 545.0 L345.1 544.8 L346.2 542.6 L348.4 543.0 L350.0 542.0 L351.7 543.6 L354.1 543.2 L356.3 543.7 L358.0 545.2 L360.0 546.0 L362.1 546.6 L363.5 548.0 L364.5 550.1 L366.2 551.0 L368.0 552.0 L368.8 553.7 L370.3 554.8 L371.2 556.4 M305.5 503.5 L303.9 504.9 L301.9 505.2 L300.1 506.0 L298.0 506.0 L295.6 505.7 L294.2 503.5 L292.1 502.9 L290.0 502.0 L288.1 503.2 L286.4 504.7 L283.8 504.5 L282.0 506.0 L279.7 505.5 L277.7 504.6 L275.9 503.2 L274.0 502.0 L272.3 503.6 L270.1 504.2 L268.0 505.0 L266.0 506.0 L264.0 505.2 L262.2 506.4 L260.2 506.1 L258.4 507.0 L256.4 506.9 L254.5 506.6 M308.4 541.2 L306.5 539.9 L304.5 538.9 L301.9 539.3 L300.0 538.0 L298.6 539.5 L296.8 540.4 L295.6 542.1 L294.0 543.4 L292.0 544.0 L290.2 542.6 L287.9 542.3 L286.2 540.6 L284.0 540.0 L281.9 540.6 L280.9 542.5 L278.9 543.2 L278.1 545.4 L276.0 546.0 L274.3 544.5 L271.7 544.6 L270.3 542.5 L268.0 542.0 L266.5 543.5 L264.4 544.4 L263.3 546.3 L262.0 548.0 L260.0 547.5 L257.8 547.6 L255.8 547.3 L254.0 546.0 L252.9 544.1 L251.1 542.9 L249.1 541.9 L248.0 540.0 L246.7 538.3 L246.4 536.2 L245.3 534.4 L244.5 532.5 L243.6 530.6 L243.3 528.6 L241.0 527.3 L240.9 525.1 M332.9 585.3 L331.2 584.4 L329.4 583.6 L327.7 582.9 L325.7 582.9 L323.7 583.1 L322.0 582.0 L320.9 580.1 L319.3 579.0 L317.3 578.3 L315.6 577.3 L314.0 576.0 L312.0 575.7 L310.0 575.8 L308.0 575.1 L306.0 575.5 L304.6 574.1 L303.0 573.1 L301.3 572.1 L299.7 571.0 L298.0 570.0 L296.2 571.1 L294.1 571.3 L292.1 572.1 L290.0 572.0 L289.0 570.0 L286.6 569.4 L285.4 567.6 L284.0 566.0 L282.1 567.3 L280.0 568.1 L278.2 569.3 L276.0 570.0 L274.2 568.6 L271.7 568.5 L270.2 566.7 L268.0 566.0 L268.2 563.7 L267.0 561.9 L265.5 560.2 L264.7 558.2 L265.1 555.8 L264.0 554.0 L263.4 552.0 L262.5 550.1 L262.0 548.0 M268.0 566.0 L266.8 567.9 L267.5 570.0 L267.6 572.1 L265.8 573.9 L265.8 575.9 L266.0 578.0 L266.5 580.1 L266.6 582.2 L267.8 584.1 L269.5 585.7 L268.9 588.1 L270.0 590.0 L269.0 591.9 L267.8 593.8 L268.0 596.2 L266.0 597.7 L266.0 600.0 L266.4 601.8 L267.9 603.1 L268.3 605.0 L269.2 606.6 M236.8 599.5 L237.9 597.7 L236.4 595.6 L237.0 593.7 L238.2 591.9 L238.5 590.0 L238.0 588.0 L237.3 586.0 L236.6 583.9 L236.2 581.8 L235.6 579.7 L234.0 578.0 L235.3 576.2 L235.9 574.2 L236.0 572.0 L236.4 569.9 L237.6 568.1 L238.0 566.0 L237.6 564.0 L236.4 562.4 L235.5 560.7 L234.5 559.1 L232.9 557.7 L232.0 556.0 L233.1 554.1 L233.7 552.0 L234.7 550.1 L234.8 547.8 L236.0 546.0 L235.0 544.2 L234.8 542.2 L235.1 540.1 L233.7 538.4 L233.3 536.5 L233.9 534.3 L232.4 532.6 L232.4 530.6 L231.8 528.7 L231.1 526.8 M210.7 561.9 L212.5 561.0 L214.6 561.9 L216.2 560.5 L218.3 561.0 L220.0 560.0 L222.0 558.9 L223.6 557.2 L226.0 556.9 L228.0 556.0 L230.0 556.5 L232.0 556.0 M160.0 519.4 L162.0 519.0 L164.0 518.3 L166.2 518.4 L168.2 518.0 L170.1 517.0 L172.0 516.0 L174.0 516.2 L176.0 516.7 L177.9 517.6 L180.0 517.5 L182.1 517.3 L184.0 518.0 L185.8 516.8 L188.3 517.5 L189.8 515.3 L191.7 514.5 L194.0 514.7 L196.0 514.0 L197.7 515.3 L198.8 517.1 L199.5 519.2 L200.5 521.0 L202.1 522.4 L202.6 524.6 L204.4 525.9 L206.0 527.3 L206.7 529.4 L208.2 530.8 M155.1 545.0 L156.9 545.5 L158.5 546.7 L160.7 546.1 L162.4 546.8 L164.3 547.0 L166.0 548.0 L167.9 547.0 L170.1 547.9 L171.9 546.2 L174.0 546.5 L176.0 546.0 L178.1 546.5 L179.8 548.1 L182.0 548.0 M196.0 514.0 L196.9 512.1 L196.9 509.8 L197.2 507.7 L198.4 505.9 L198.9 503.8 L200.0 502.0 L201.7 500.7 L201.8 498.4 L203.2 496.9 L204.2 495.2 L206.0 494.0 L207.7 492.4 L210.2 492.3 L212.3 491.6 L214.0 490.0 L216.1 490.8 L218.1 491.8 L220.2 492.7 L222.0 494.0 L223.8 493.1 L224.8 491.0 L226.8 490.4 L228.0 488.7 L230.0 488.0 L231.7 489.6 L233.9 490.2 L235.8 491.4 L238.0 492.0 L239.9 490.7 L241.9 489.7 L244.3 489.7 L246.0 488.0 L247.6 489.0 L249.3 490.0 L251.3 490.3 L252.5 492.3 L254.2 493.2 L256.2 493.5 M176.1 480.4 L177.9 481.6 L179.7 483.0 L181.7 483.8 L184.0 484.0 L185.8 482.8 L188.0 482.9 L190.1 483.0 L192.0 482.0 L193.6 483.1 L194.5 484.8 L195.8 486.2 L197.9 486.8 L199.2 488.2 L200.0 490.0 L199.9 492.0 L200.8 494.0 L200.8 496.0 L199.8 498.0 L199.6 500.0 L200.0 502.0 M251.2 308.6 L253.0 309.1 L254.6 310.2 L256.6 310.2 L258.0 311.9 L260.0 312.0 L261.5 313.4 L263.7 313.7 L264.6 315.9 L266.5 316.6 L268.0 318.0 L269.8 316.8 L272.1 317.5 L273.9 316.3 L276.0 316.2 L278.0 316.0 L279.8 316.9 L281.0 318.6 L283.0 319.3 L284.9 320.1 L286.0 322.0 L288.0 321.7 L289.9 320.7 L292.0 320.8 L294.0 320.6 L296.0 320.0 L298.0 320.4 L299.2 322.3 L301.1 322.8 L302.7 324.0 L304.1 325.4 L306.0 326.0 L307.8 324.7 L309.8 323.9 L312.0 323.7 L314.2 323.4 L316.0 322.0 L318.1 322.4 L320.3 321.8 L322.3 322.2 L324.3 323.1 L326.4 323.3 M268.0 318.0 L268.3 320.1 L267.6 322.0 L267.6 324.1 L266.5 326.0 L266.0 327.9 L266.0 330.0 L266.8 332.0 L267.5 334.0 L267.9 336.2 L268.8 338.2 L270.0 340.0 L269.0 341.7 L268.3 343.5 L267.6 345.4 L266.7 347.1 L265.7 348.8 L264.0 350.0 L264.9 351.9 L265.6 354.0 L266.5 356.0 L266.6 358.2 L268.0 360.0 L266.4 361.3 L264.9 362.7 L263.8 364.3 L262.9 366.2 L262.0 368.0 L263.6 369.7 L263.4 372.1 L263.7 374.3 L265.7 375.8 L266.0 378.0 L265.0 379.7 L264.6 381.6 L265.0 383.8 L264.4 385.6 L263.3 387.4 L263.0 389.3 L261.7 390.9 L261.5 392.9 M296.0 320.0 L296.3 322.0 L296.6 324.0 L297.5 325.9 L296.6 328.1 L297.4 330.0 L298.0 332.0 L297.2 334.0 L296.0 335.8 L295.3 337.9 L294.2 339.7 L294.0 342.0 L295.0 343.7 L296.7 344.9 L296.7 347.2 L298.0 348.6 L298.8 350.4 L300.0 352.0 L299.9 354.3 L298.4 356.0 L297.1 357.8 L296.1 359.7 L296.0 362.0 L295.4 364.0 L295.4 366.0 L295.8 368.0 L295.8 370.0 M230.0 330.7 L232.3 330.6 L233.8 332.7 L236.2 332.2 L238.2 332.8 L240.0 334.0 L242.0 333.2 L244.1 332.6 L246.3 332.4 L247.9 330.5 L250.0 330.0 L251.6 331.1 L253.5 331.9 L254.9 333.5 L256.6 334.5 L258.0 336.0 L260.0 335.4 L260.7 333.0 L262.9 332.5 L264.6 331.4 L266.0 330.0 M326.4 338.0 L328.3 338.9 L330.3 339.5 L332.1 340.5 L334.1 341.2 L336.0 342.0 L338.3 341.9 L339.9 340.0 L341.9 339.4 L343.9 338.6 L346.0 338.0 L348.0 338.4 L349.6 339.5 L351.4 340.3 L353.1 341.3 L354.7 342.5 L356.0 344.0 L358.3 344.0 L360.2 342.8 L362.2 342.1 L363.7 340.1 L366.0 340.0 L367.6 341.3 L369.1 342.6 L371.0 343.3 L372.8 344.3 L374.0 346.0 L376.0 345.2 L378.1 344.7 L379.8 343.0 L381.7 342.1 L384.0 342.0 L385.9 342.8 L388.0 343.2 L390.1 343.5 L391.8 345.2 L394.0 345.0 M354.2 300.4 L354.5 302.5 L353.8 304.3 L352.3 306.1 L352.8 308.1 L352.2 310.0 L352.0 312.0 L353.3 313.8 L353.5 316.0 L354.8 317.7 L354.0 320.2 L355.9 321.8 L356.0 324.0 L354.6 325.8 L354.7 328.1 L354.3 330.3 L352.9 332.0 L352.0 334.0 L352.1 336.3 L353.3 338.1 L353.8 340.2 L355.8 341.7 L356.0 344.0 M333.7 359.8 L335.9 359.4 L337.6 361.5 L339.7 361.8 L342.1 360.8 L344.0 362.0 L345.8 360.8 L347.8 359.9 L350.3 360.3 L352.1 359.1 L354.0 358.0 L355.8 358.7 L357.3 360.0 L358.7 361.4 L360.9 361.5 L362.2 363.3 L364.0 364.0 L366.2 363.7 L367.8 361.8 L370.2 362.1 L372.3 361.6 L374.0 360.0 L376.1 360.3 L377.4 361.9 L379.0 363.0 L380.5 364.2 L382.7 364.4 L384.0 366.0 L386.0 366.3 L388.0 366.7 L390.0 366.2 L392.0 366.0 M364.0 364.0 L364.2 366.1 L363.0 368.0 L362.9 370.0 L362.7 372.1 L362.0 374.0 L360.9 375.6 L358.7 375.5 L356.9 376.1 L356.0 378.0 L354.2 378.6 M173.4 321.7 L175.3 322.1 L177.2 322.8 L178.6 324.2 L179.9 325.9 L182.0 326.0 L184.2 325.4 L186.2 324.4 L188.3 323.5 L190.0 322.0 L191.6 323.2 L192.7 325.0 L194.7 325.8 L196.4 326.8 L198.0 328.0 L200.3 327.7 L201.6 325.3 L204.2 325.3 L206.0 324.0 L207.1 322.4 L208.8 321.7 L210.8 321.4 L212.0 320.0 M181.5 340.0 L183.0 341.2 L184.9 341.6 L186.7 342.2 L188.5 342.7 L190.0 344.0 L191.8 342.5 L194.3 342.6 L196.0 341.0 L198.0 340.0 L199.3 341.6 L201.1 342.6 L202.4 344.2 L204.2 345.0 L206.0 346.0 L207.2 344.2 L209.6 344.2 L210.7 342.3 L212.2 341.0 L214.0 340.0 M143.9 346.5 L146.1 347.0 L147.9 348.5 L149.9 349.2 L152.0 350.0 L153.7 348.4 L156.2 348.5 L157.9 346.8 L160.0 346.0 L161.3 347.6 L163.4 348.1 L164.7 349.7 L166.0 351.3 L168.0 352.0 L170.1 351.2 L171.7 349.4 L174.2 349.3 L176.0 348.0 L177.4 349.5 L178.5 351.2 L178.4 353.5 L180.3 354.7 L181.1 356.5 L182.5 358.1 L182.2 360.5 L183.6 362.0 L184.7 363.7 M290.4 285.7 L288.5 286.1 L286.7 286.8 L285.3 288.1 L283.8 289.4 L282.0 290.0 L281.2 291.9 L279.9 293.5 L278.9 295.2 L276.8 296.1 L276.0 298.0 L274.2 299.3 L271.8 298.3 L270.1 299.8 L268.0 300.0 L266.5 301.5 L265.0 303.0 L263.4 304.4 L262.0 306.0 L260.4 307.3 L258.3 306.3 L256.6 307.4 L254.9 308.3 L253.0 308.2 L251.2 308.6 M476.2 396.6 L474.6 397.8 L473.6 399.5 L471.8 400.5 L471.8 403.0 L470.0 404.0 L470.2 406.0 L470.1 408.1 L470.5 410.1 L472.2 411.9 L472.0 414.0 L470.1 415.1 L469.9 417.4 L468.9 419.2 L467.7 420.8 L466.0 422.0 L466.3 424.3 L467.4 426.3 L468.2 428.4 L470.0 430.0 L471.5 431.2 L473.3 431.7 L475.1 432.1 L477.1 432.0 L478.6 433.1 M456.6 465.7 L455.1 464.3 L453.6 463.0 L453.1 460.7 L451.6 459.3 L450.0 458.0 L451.2 456.2 L450.7 454.0 L451.1 452.0 L452.4 450.2 L452.0 448.0 L450.9 446.3 L449.9 444.6 L447.8 443.7 L447.8 441.2 L446.0 440.0 L445.7 438.0 L444.5 436.1 L444.7 434.0 L445.2 431.8 L444.0 430.0 M298.2 493.7 L296.9 495.5 L294.9 496.6 L293.2 498.1 L292.0 500.0 L290.0 502.0 M314.5 544.4 L316.7 543.8 L318.2 542.1 L319.7 540.4 L322.0 540.0 L324.1 540.8 L326.2 541.6 L328.2 542.6 L330.0 544.0 L331.7 545.1 L333.9 544.6 L335.6 545.5 L337.6 545.5 L339.5 546.1" fill="none" stroke="#3a2c14" stroke-opacity="0.62" stroke-width="0.75"/>
<path d="M170.5 270.2 L169.0 271.8 L167.9 273.5 L166.4 275.1 L167.1 276.5 L168.5 277.6 L168.9 279.2 L171.1 279.1 L173.1 278.6 L175.1 277.7 L177.0 276.8 L179.1 277.0 L180.8 278.4 L182.7 279.2 L182.8 281.3 L182.7 283.3 L181.3 285.3 L181.9 287.4 L180.8 289.3 L182.4 291.4 L180.8 293.2 L181.1 295.2 L181.1 297.2 L181.7 298.8 L182.3 300.4 L182.0 302.2 L182.7 303.7 L181.1 304.9 L179.2 305.6 L177.8 307.0 L176.9 308.5 L177.1 310.5 L175.4 311.7 L174.3 313.2 L173.7 314.8 L173.8 316.8 L171.8 316.2 L169.5 316.8 L167.5 316.4 L165.6 315.1 L164.4 316.9 L161.9 316.9 L160.9 319.1 L159.1 320.0 L157.1 320.5 L154.9 319.7 L153.0 321.0 L150.9 320.9 L149.2 321.4 L147.7 322.2 L146.3 323.4 L144.4 323.3 L143.2 325.1 L141.7 326.8 L141.1 329.0 L139.6 330.0 L138.0 330.3 L136.3 330.4 L134.6 330.7 L133.1 331.8 L131.3 331.2 L129.7 331.5 M182.7 279.2 L184.7 279.3 L186.6 279.7 L188.6 280.5 L190.6 279.9 L192.3 281.5 L193.9 283.1 L195.5 282.5 L197.2 282.0 L198.6 280.7 L200.5 280.6 L202.1 279.9 L204.1 280.0 L206.1 280.1 L207.9 278.6 L209.9 278.8 L211.9 279.0 L213.8 277.9 L216.0 278.2 L215.7 279.9 L216.2 281.5 L216.8 283.1 L218.9 283.5 L219.6 286.0 L221.7 286.4 L223.7 286.3 L225.1 285.0 L226.7 284.1 L228.2 283.1 L230.1 282.5 L232.0 282.2 L233.9 283.1 L234.3 284.8 L235.5 286.2 L235.7 287.9 L235.6 289.7 L237.6 290.1 L239.6 290.5 L241.1 292.0 L242.9 292.9 L244.6 294.2 L245.8 296.1 L247.8 297.0 L249.5 297.5 L251.2 298.0 L250.9 299.8 L251.2 301.5 L250.9 303.3 L251.3 305.1 L251.6 306.8 L251.2 308.6 L249.7 309.9 L249.1 311.6 L248.7 313.3 L248.3 315.0 L248.0 316.8 L246.9 318.6 L245.7 320.3 L244.3 321.9 L243.3 323.8 L241.4 324.9 L239.5 325.5 L238.3 327.0 L236.2 327.3 L235.0 329.0 L233.3 329.8 L231.4 329.5 L230.0 330.7 L228.6 332.3 L229.1 334.8 L227.8 336.5 L225.8 337.8 L225.6 340.0 L225.0 341.7 L223.5 343.0 L223.8 345.0 L223.7 346.8 L222.3 348.2 L221.0 350.0 L219.7 351.8 L219.1 353.9 M249.5 292.9 L250.8 291.6 L252.3 290.5 L253.6 289.2 L254.2 287.2 L256.0 286.4 L255.1 284.3 L255.8 282.3 L255.6 280.2 L256.0 278.2 L255.4 276.3 L254.2 274.8 L253.1 273.2 L251.9 271.7 L253.8 271.0 L255.8 270.3 L257.6 269.2 L259.5 268.0 L261.7 267.9 L263.6 266.8 L265.8 266.8 L267.6 267.3 L268.9 265.5 L270.7 266.0 L272.4 264.9 L272.6 262.6 L274.6 261.9 L275.6 260.2 L275.3 258.2 L275.4 256.1 L276.2 254.1 L275.6 252.1 L276.7 250.2 L278.4 249.0 L280.9 249.0 L282.1 247.2 L283.1 245.6 L283.5 243.5 L285.9 242.7 L286.2 240.6 L286.8 238.6 L285.2 236.7 L285.6 234.7 L284.9 232.8 L285.4 230.8 L284.9 228.9 L285.3 226.9 L284.3 225.0 L285.1 222.9 L284.6 221.0 L284.0 219.0 L284.3 217.0 L285.6 215.2 L285.1 213.1 L285.4 211.2 L284.9 209.6 L284.8 207.9 L284.2 206.3 L283.8 204.7 L282.2 203.6 L280.4 202.9 L279.7 200.7 L278.0 199.8 L277.9 198.0 L277.1 196.6 L275.6 195.7 M174.9 398.8 L176.4 397.8 L178.3 397.9 L180.0 397.3 L181.5 396.4 L182.9 397.6 L184.9 397.1 L186.5 397.7 L188.0 398.8 L189.4 397.6 L191.1 397.1 L193.0 397.4 L194.5 396.4 L193.5 394.7 L193.9 392.8 L193.0 391.1 L192.9 389.3 L192.9 387.4 L192.6 385.5 L193.2 383.4 L192.6 381.5 L191.4 379.6 L192.1 377.6 L190.9 376.1 L189.9 374.6 L190.2 372.4 L189.3 370.8 L188.0 369.4 L187.4 367.2 L186.3 365.3 L184.7 363.7 L186.5 363.3 L188.4 362.8 L189.9 361.7 L191.3 360.4 L193.1 359.5 L195.2 360.1 L196.9 359.0 L198.9 359.0 L200.7 358.2 L202.5 357.5 L204.4 357.2 L206.3 356.8 L208.3 356.7 L210.2 356.3 L212.2 355.8 L214.2 356.3 L216.1 356.0 L217.7 355.2 L219.1 353.9 L220.3 355.7 L222.2 356.2 L223.9 357.1 L225.6 358.0 L226.2 359.9 L228.1 360.9 L228.3 363.0 L229.6 364.4 L230.5 366.1 L232.7 365.8 L234.9 366.2 L237.0 367.0 L239.2 367.3 L241.5 367.1 L243.6 367.8 L244.7 369.4 L245.6 371.2 L246.8 372.7 L247.9 374.0 L249.3 375.2 L249.8 377.0 L251.1 378.1 L251.7 379.8 L252.8 381.3 L253.5 382.9 L253.9 384.6 L255.1 386.1 L255.0 388.0 L256.5 389.4 L257.8 391.1 L260.0 391.5 L261.5 392.9 L262.4 394.6 L263.4 396.3 L265.8 396.6 L266.4 398.6 L268.3 397.6 L270.6 398.3 L272.7 398.0 L274.6 397.0 L276.6 396.9 L278.4 395.7 L280.5 395.8 L282.6 396.3 L284.4 395.3 L286.3 395.7 L288.1 395.3 L289.7 394.0 L291.7 394.9 L293.4 393.8 L295.3 394.1 L297.0 393.5 L298.6 392.4 L300.7 393.4 L302.2 392.3 L304.0 392.0 L305.6 391.2 L307.1 390.1 L309.0 390.1 L310.6 389.4 L312.2 388.8 L313.8 388.0 L314.0 386.3 L315.0 384.8 L314.7 383.0 L315.4 381.4 L316.9 380.3 L318.4 379.3 L320.5 379.3 L321.7 377.6 L323.6 377.4 L325.4 376.6 L327.3 376.0 L329.4 376.7 L331.3 376.1 L331.7 374.2 L332.0 372.2 L331.4 370.1 L332.5 368.2 L332.9 366.3 L332.9 364.1 L332.7 361.9 L333.7 359.8 L332.2 358.5 L333.3 356.2 L331.2 355.1 L330.9 353.4 L330.2 351.8 L330.0 350.0 L329.7 348.2 L328.2 346.8 L328.4 344.9 L327.7 343.2 L328.0 341.3 L326.1 340.0 L326.4 338.0 L326.5 336.3 L327.2 334.7 L328.4 333.3 L328.0 331.5 L327.6 329.4 L327.2 327.4 L327.1 325.3 L326.4 323.3 L327.3 321.5 L328.2 319.5 L330.1 318.4 L331.3 316.8 L332.8 315.5 L333.3 313.7 L333.4 311.7 L334.6 310.2 L333.8 308.5 L332.9 306.9 L331.0 306.0 L330.3 304.2 L328.9 302.9 L328.0 301.3 M285.5 244.1 L287.5 243.6 L289.4 244.8 L291.4 244.9 L293.3 245.5 L295.3 244.9 L297.4 245.0 L299.3 245.5 L301.1 246.8 L303.1 247.2 L305.1 247.4 L307.1 247.6 L308.8 248.8 L310.9 248.8 L312.6 250.0 L314.9 249.4 L316.6 250.6 L318.5 250.2 L320.3 251.6 L322.3 250.7 L324.2 250.7 L326.1 251.8 L328.0 251.4 L329.9 251.2 L331.6 250.0 L333.6 250.3 L335.4 249.8 L336.4 251.4 L338.3 252.1 L338.8 254.1 L340.8 254.8 L341.7 256.4 L342.7 258.0 L344.2 259.3 L344.8 261.0 L344.4 263.2 L346.1 264.4 L346.8 266.1 L346.2 267.9 L347.4 269.3 L347.6 271.0 L348.3 272.5 L348.7 274.1 L350.1 275.1 L348.7 276.8 L348.5 279.3 L346.8 280.8 L346.2 282.8 L345.8 284.9 L346.2 287.1 L345.2 289.0 L343.1 289.7 L341.1 289.0 L338.9 288.7 L337.0 289.8 L335.1 290.7 L332.9 290.6 L332.4 292.6 L332.3 294.6 L331.3 296.4 L329.7 297.2 L328.8 298.8 L328.1 300.6 L326.4 301.3 L324.2 301.0 L322.2 302.6 L319.9 302.1 L317.9 302.7 L315.9 303.3 L313.7 302.3 L311.7 302.9 L311.9 301.3 L313.3 300.4 L312.1 298.7 L310.3 297.6 L309.6 295.5 L308.4 293.9 L306.4 293.2 L304.3 293.0 L302.2 292.8 L300.2 292.3 L298.6 292.7 L297.0 293.2 L295.3 293.3 L293.7 293.9 L292.4 292.5 L292.3 290.6 L291.3 289.2 L291.7 287.1 L290.4 285.7 L289.7 283.6 L287.2 282.9 L286.0 281.2 L285.5 279.0 L283.9 277.6 L283.0 275.9 L281.2 274.8 L281.3 272.5 L280.7 270.6 L279.0 269.4 L277.3 268.3 L275.6 267.2 L274.2 265.6 L272.5 264.5 L274.2 263.3 L274.2 261.0 L275.3 259.4 L276.6 258.0 L275.8 256.4 L276.4 254.7 L275.9 253.1 L275.7 251.4 L277.2 250.2 L278.9 249.6 L280.3 248.2 L282.3 248.2 L283.1 246.6 L285.1 246.0 L285.5 244.1 M373.7 197.0 L373.0 199.1 L374.9 200.9 L373.8 203.0 L375.0 204.9 L374.6 206.9 L373.1 208.6 L374.1 211.1 L372.0 212.6 L371.7 214.6 L371.3 216.7 L369.7 218.0 L368.4 219.5 L368.0 221.6 L368.7 223.6 L368.7 225.6 L368.2 227.7 L368.8 229.7 L367.6 231.2 L366.2 232.5 L364.8 233.7 L363.1 234.6 L361.2 234.7 L359.6 235.3 L358.0 236.1 L356.7 237.7 L354.9 237.9 L353.9 239.9 L354.5 242.0 L354.8 244.1 L354.1 246.1 L353.9 248.2 L353.6 250.2 L353.9 252.3 L352.7 254.2 L352.5 256.3 L351.8 258.1 L350.5 259.5 L349.0 260.8 L348.5 262.7 L347.9 264.6 L346.8 266.1 M345.2 289.0 L347.2 289.9 L349.0 291.2 L350.9 292.3 L351.7 293.9 L352.3 295.5 L353.0 297.1 L353.3 298.9 L354.2 300.4 L356.1 301.3 L357.3 303.0 L359.6 303.4 L360.7 305.3 L361.9 307.0 L362.6 308.9 L363.8 310.6 L364.0 312.7 L366.0 313.1 L368.1 312.4 L370.1 313.2 L372.1 312.7 L374.2 313.3 L376.2 311.9 L378.3 312.8 L380.3 311.9 L382.1 311.6 L383.5 310.5 L384.5 308.7 L386.4 308.6 L388.0 307.8 L389.6 308.4 L391.3 308.3 L393.0 308.6 L394.5 309.5 L396.3 310.3 L398.0 311.3 L399.4 312.7 L400.1 314.8 L401.8 316.2 L402.7 318.2 L403.2 319.8 L403.3 321.5 L403.1 323.3 L404.3 324.7 L406.1 325.0 L407.8 325.2 L408.9 327.4 L410.8 327.2 L411.7 329.0 L413.2 330.2 L414.9 331.2 L416.8 330.2 L418.5 328.7 L420.6 328.0 L422.1 327.0 L423.8 326.8 L425.5 326.7 L427.2 326.3 L427.3 324.3 L429.1 323.2 L430.0 321.6 L430.4 319.8 L430.7 317.9 L432.9 317.3 L433.3 315.5 L434.9 314.5 L435.3 312.7 L436.9 311.5 L438.9 310.9 L440.2 309.2 L442.0 308.3 L443.5 307.0 L445.1 308.0 L447.2 308.3 L448.7 309.5 L450.0 311.1 L452.1 311.0 L454.1 311.7 L456.2 312.1 L458.2 312.7 L459.9 311.2 L461.5 309.5 L463.0 311.0 L464.9 311.8 L466.6 312.9 L468.0 314.4 L469.6 315.5 L471.3 316.5 L472.0 318.4 L473.5 319.5 L475.0 320.7 L476.1 322.2 L477.8 323.1 L478.9 324.5 L479.8 326.1 L480.5 327.7 L481.1 329.3 L481.1 331.2 L482.9 332.0 L483.1 334.1 L484.4 335.3 M331.3 376.1 L332.9 377.4 L334.2 379.0 L335.7 380.4 L337.8 381.0 L339.8 380.8 L341.7 381.8 L343.6 381.9 L345.6 382.0 L347.6 381.9 L348.9 380.4 L350.5 379.5 L352.5 379.2 L354.2 378.6 L354.8 380.6 L356.6 382.0 L357.1 384.0 L358.4 385.6 L359.1 387.6 L360.4 389.2 L361.9 390.5 L364.1 390.9 L365.1 392.9 L367.2 393.3 L368.4 394.9 L367.5 397.1 L367.8 398.9 L368.9 400.6 L368.0 402.6 L365.9 403.6 L364.8 405.5 L366.1 406.9 L367.0 408.8 L368.9 409.6 L370.7 408.9 L372.5 409.4 L374.4 409.9 L376.2 409.3 L378.0 408.6 L379.8 408.8 L380.2 406.9 L382.5 406.4 L382.8 404.5 L383.9 403.1 L385.6 404.2 L387.6 402.9 L389.3 404.3 L391.2 403.9 L392.9 404.2 L394.6 404.1 L396.1 403.1 L397.7 404.3 L398.0 406.3 L398.6 408.0 L398.3 406.0 L400.0 404.5 L399.8 402.5 L401.3 401.0 L401.0 399.0 L401.6 397.1 L403.1 395.6 L404.1 393.8 L404.3 391.7 L406.1 391.1 L407.9 391.5 L409.8 392.0 L411.5 391.1 L413.3 390.9 L414.9 391.7 L416.4 392.6 L417.3 394.3 L419.0 394.9 L420.6 396.0 L421.3 397.9 L422.6 399.3 L423.9 400.7 L426.1 400.5 L428.1 399.4 L430.4 399.8 L431.9 400.9 L433.4 402.1 L435.5 402.0 L437.0 403.1 L438.6 402.4 L440.4 403.0 L441.9 402.0 L443.5 401.5 L445.4 402.8 L446.8 404.7 M306.8 391.7 L307.9 393.3 L307.7 395.3 L308.8 396.9 L309.7 398.6 L309.8 400.5 L310.3 402.3 L311.0 404.1 L311.6 405.8 L312.1 407.6 L313.2 409.4 L313.8 411.4 L313.8 413.6 L315.0 415.3 L315.4 417.4 L314.1 418.9 L312.8 420.4 L311.6 421.9 L310.4 423.5 L310.4 425.8 L308.9 427.2 L310.0 428.6 L309.8 430.6 L310.7 432.1 L312.0 433.5 L312.1 435.3 L311.6 437.3 L311.0 439.3 L310.9 441.4 L311.3 443.5 L312.0 445.4 L312.0 447.4 L312.7 449.3 L311.1 451.4 L312.1 453.3 L310.6 454.2 L308.8 453.7 L307.2 454.4 L305.6 454.9 L304.5 456.5 L303.6 458.2 L302.2 459.5 L301.5 461.4 L300.7 463.1 L300.3 464.9 L300.0 466.6 L298.7 468.0 L297.3 469.3 L297.9 471.5 L296.6 472.9 L296.4 474.8 L296.6 476.7 L297.6 478.6 L297.7 480.5 L296.9 482.5 L297.4 484.4 L297.7 486.3 L297.9 488.1 L297.9 490.0 L298.8 491.8 L298.2 493.7 L300.3 493.9 L302.3 493.5 L304.3 493.2 L306.3 492.9 L307.5 491.5 L309.4 490.8 L310.8 489.6 L311.8 488.0 L312.6 486.2 L314.5 485.5 L315.1 483.6 L316.3 482.2 L317.3 480.7 L319.3 479.8 L320.2 478.2 L321.5 479.6 L323.3 480.6 L324.3 482.3 L324.6 484.3 L326.1 485.7 L326.8 487.4 L327.7 489.1 L329.2 490.4 L330.5 488.9 L331.2 487.2 L332.9 486.0 L332.6 483.6 L334.1 482.3 L335.9 481.6 L337.7 480.8 L339.0 479.2 L340.6 478.2 L342.4 478.2 L343.7 476.6 L345.5 476.6 L346.7 478.4 L348.1 480.2 L348.8 482.3 L351.0 482.4 L353.1 483.2 L355.3 483.1 L357.0 482.7 L358.6 483.3 L360.2 483.9 L360.9 485.9 L362.9 486.9 L364.4 488.4 L365.1 490.4 L364.9 492.6 L366.3 494.3 L367.9 496.0 L367.6 498.3 L368.4 500.2 L369.7 501.6 L370.3 503.3 L370.0 505.3 L370.8 506.9 L371.7 508.4 L373.4 509.5 L374.9 510.9 L376.5 512.2 L378.2 513.3 L379.8 512.4 L381.2 511.1 L383.1 510.9 L384.7 511.4 L386.4 511.4 L388.0 510.9 L390.1 510.8 L392.1 510.7 L394.1 511.1 L396.2 510.9 L396.8 512.8 L397.4 514.7 L397.8 516.6 L399.5 515.9 L400.8 514.7 L401.0 512.5 L402.7 511.7 L402.7 509.9 L404.3 508.6 L404.4 506.8 L406.4 507.3 L408.3 506.7 L410.1 506.0 L411.6 507.8 L412.5 510.0 L414.6 510.4 L415.5 512.6 L417.0 513.7 L419.1 514.1 L420.4 515.7 L422.1 516.9 L423.5 518.5 L425.6 519.0 L427.2 519.3 L428.7 520.3 L430.5 519.8 L432.3 519.1 L434.2 518.5 L436.2 519.0 L436.8 517.1 L436.6 515.2 L436.2 513.3 L435.1 511.7 L432.9 511.4 L431.7 509.9 L430.5 508.4 M296.6 474.6 L294.8 474.7 L293.0 475.0 L291.4 475.9 L289.6 476.4 L287.9 477.1 L285.9 476.5 L284.4 477.8 L282.5 476.9 L280.7 475.9 L279.2 474.5 L277.8 472.9 L276.0 473.2 L274.3 472.9 L272.6 472.9 L270.9 472.3 L271.3 474.6 L270.7 476.7 L270.1 478.8 L269.2 480.6 L267.7 482.0 L267.1 484.0 L266.2 485.8 L264.4 487.0 L263.4 488.5 L261.6 489.1 L260.4 490.4 L258.7 491.0 L257.2 492.0 L256.2 493.5 L255.3 495.2 L254.8 497.1 L252.8 498.2 L252.1 500.0 L252.3 501.8 L253.5 503.2 L253.6 505.0 L254.5 506.6 L254.1 508.5 L252.3 509.9 L252.3 512.0 L251.0 513.4 L250.4 515.1 L249.4 516.7 L249.9 518.9 L248.6 520.3 L248.0 522.0 L246.1 522.4 L244.2 523.1 L242.8 524.5 L240.9 525.1 L239.1 526.1 L236.9 525.6 L235.1 526.8 L233.0 526.1 L231.1 526.8 L229.3 528.0 L227.2 527.5 L225.2 527.8 L223.4 528.8 L221.3 528.4 L219.7 529.3 L218.0 530.0 L216.5 531.1 L214.7 531.7 L212.6 530.7 L210.5 530.4 L208.2 530.8 L205.9 531.3 L204.6 533.4 L202.5 534.1 L203.5 536.1 L203.1 538.2 L203.8 540.2 L203.3 542.3 L203.6 544.1 L205.0 545.4 L205.9 546.9 L206.3 548.6 L206.6 550.4 L207.3 552.0 L207.3 553.8 L208.2 555.3 L208.9 556.9 L209.8 558.5 L209.8 560.4 L210.7 561.9 L211.1 563.7 L210.4 565.3 L209.1 566.7 L209.0 568.4 L207.5 569.8 L207.3 572.1 L206.2 573.8 L204.4 575.0 L203.3 576.6 L201.9 578.1 L201.5 580.4 L199.7 581.5 L198.4 583.1 L198.4 585.0 L198.3 587.0 L197.8 588.8 L196.8 590.5 M436.2 491.9 L437.9 491.1 L438.7 489.5 L440.0 488.3 L441.3 487.1 L441.9 485.3 L443.3 484.1 L445.3 483.9 L447.1 483.5 L448.7 482.6 L450.1 481.3 L451.7 480.4 L453.3 479.3 L455.3 479.3 L457.3 479.8 L458.7 477.8 L460.7 478.0 L460.8 475.9 L461.5 473.9 L460.8 472.1 L459.0 471.5 L457.5 470.6 L456.6 469.0 L456.3 467.4 L456.6 465.7 L458.0 467.0 L460.0 466.7 L461.5 467.5 L463.1 468.2 L464.8 467.9 L466.5 467.7 L468.0 466.7 L469.4 465.5 L471.3 465.7 L472.9 466.6 M397.8 516.6 L398.8 518.5 L398.3 520.8 L398.8 522.8 L399.5 524.8 L400.9 526.4 L402.6 527.7 L403.5 529.7 L402.0 530.7 L400.8 531.9 L400.1 533.6 L398.9 534.9 L397.8 536.2 L397.6 538.0 L397.4 539.8 L396.1 541.2 L395.1 542.7 L394.6 544.4 L393.7 546.2 L391.4 546.5 L390.7 548.5 L389.3 549.7 L387.6 550.6 L386.9 552.4 L384.5 552.4 L383.6 554.0 L382.2 555.1 L381.3 556.6 L380.2 558.0" fill="none" stroke="#111" stroke-width="1" stroke-linejoin="round"/>
</g>
<g id="base">
<text transform="translate(521.3 493) rotate(-90)" font-family="Liberation Sans, DejaVu Sans, sans-serif" font-weight="bold" font-size="8.35" fill="#222">KERAUNOS - Tous droits réservés - www.keraunos.org</text>
<ellipse cx="36.6" cy="271.1" rx="2.0" ry="1.4" transform="rotate(20 36.6 271.1)" fill="#333" stroke="none"/><ellipse cx="41.1" cy="274.8" rx="1.0" ry="0.7" transform="rotate(30 41.1 274.8)" fill="#333" stroke="none"/><ellipse cx="43" cy="295.2" rx="1.0" ry="0.7" transform="rotate(0 43 295.2)" fill="#333" stroke="none"/><ellipse cx="101.9" cy="338.8" rx="3.4" ry="1.6" transform="rotate(30 101.9 338.8)" fill="#eee" stroke="#333" stroke-width="0.8"/><ellipse cx="92.1" cy="321.2" rx="2.3" ry="1.2" transform="rotate(25 92.1 321.2)" fill="#333" stroke="none"/><ellipse cx="110.9" cy="338" rx="1.2" ry="0.8" transform="rotate(30 110.9 338)" fill="#333" stroke="none"/><ellipse cx="134.9" cy="360.4" rx="2.4" ry="1.3" transform="rotate(40 134.9 360.4)" fill="#eee" stroke="#333" stroke-width="0.8"/><ellipse cx="130" cy="375.1" rx="2.0" ry="1.0" transform="rotate(25 130 375.1)" fill="#eee" stroke="#333" stroke-width="0.8"/><ellipse cx="162.7" cy="404.5" rx="5.0" ry="1.4" transform="rotate(25 162.7 404.5)" fill="#eee" stroke="#333" stroke-width="0.8"/><ellipse cx="166.8" cy="418.4" rx="2.4" ry="4.6" transform="rotate(-25 166.8 418.4)" fill="#eee" stroke="#333" stroke-width="0.8"/><ellipse cx="415.3" cy="559.6" rx="3.8" ry="2.6" transform="rotate(-20 415.3 559.6)" fill="#fff" stroke="#444" stroke-width="0.7"/><ellipse cx="459.5" cy="583.6" rx="2.3" ry="1.0" transform="rotate(-20 459.5 583.6)" fill="#333" stroke="none"/><ellipse cx="469.3" cy="582.5" rx="2.6" ry="0.9" transform="rotate(-25 469.3 582.5)" fill="#333" stroke="none"/><ellipse cx="168.8" cy="487" rx="2.8" ry="2.6" transform="rotate(0 168.8 487)" fill="#fff" stroke="#444" stroke-width="0.7"/><path d="M173.5 440.3 L178.5 442.5 L185.0 451.0 L188.2 458.2 L185.8 456.0 L180.0 447.5 L174.2 442.5Z" fill="#fff" stroke="#555" stroke-width="0.7"/>
<path d="M275.7 195.4 L276.1 193.8 L277.4 192.8 L278.0 191.4 L279.1 190.3 L279.8 188.9 L280.2 187.3 L279.3 185.5 L279.4 183.9 L281.0 182.4 L280.6 180.7 L280.2 179.1 L280.1 177.5 L281.5 175.8 L280.5 174.2 L280.6 172.6 L281.3 171.0 L280.8 169.3 L281.2 167.7 L280.5 166.0 L281.5 164.5 L281.4 162.8 L282.1 161.2 L281.4 159.5 L281.8 157.9 L281.7 156.3 L280.6 154.6 L281.4 153.0 L283.0 152.4 L284.1 151.2 L285.1 149.8 L286.2 148.4 L288.0 148.1 L289.8 148.3 L291.2 147.2 L293.0 147.2 L294.7 147.1 L296.2 146.4 L297.9 146.4 L299.3 145.0 L301.0 144.8 L302.9 144.9 L304.5 143.9 L306.4 144.3 L308.1 143.8 L309.5 142.0 L311.3 141.7 L313.0 141.4 L314.9 141.5 L314.7 143.4 L316.3 144.8 L316.6 146.5 L317.4 148.1 L318.1 149.8 L318.2 151.8 L318.8 153.5 L319.0 155.4 L320.5 156.3 L321.5 157.8 L322.8 158.9 L323.7 160.5 L325.5 161.1 L327.3 160.8 L329.1 160.6 L330.7 159.9 L332.1 158.7 L333.9 159.3 L335.4 158.5 L337.0 157.9 L338.3 159.3 L338.0 161.4 L338.6 163.1 L340.2 164.4 L339.9 166.4 L340.9 168.1 L341.1 170.0 L341.9 171.8 L343.6 171.7 L345.0 173.2 L346.7 173.1 L348.4 173.4 L350.1 173.3 L351.8 173.2 L353.3 174.2 L353.2 176.2 L353.5 178.0 L355.5 179.4 L354.8 181.5 L355.8 183.2 L357.7 182.5 L359.4 181.5 L361.5 181.6 L363.2 181.4 L364.7 182.5 L366.3 182.9 L368.0 182.4 L369.9 182.8 L370.7 184.6 L372.8 184.8 L373.7 186.5 L373.1 188.3 L373.6 190.2 L372.4 191.9 L372.9 193.8 L372.4 195.6 L373.6 197.1 L373.0 198.9 L374.6 200.3 L374.6 202.0 L376.4 201.6 L377.8 202.8 L379.6 202.1 L381.2 202.7 L382.7 203.6 L384.1 202.6 L385.8 202.1 L386.8 200.6 L388.2 199.6 L390.1 199.5 L391.3 198.1 L390.8 196.1 L391.7 194.6 L393.7 194.5 L395.3 193.6 L396.6 192.2 L397.3 193.5 L397.7 194.9 L398.2 196.3 L397.6 197.7 L396.8 199.0 L396.2 200.5 L395.8 202.0 L396.4 203.7 L396.9 205.3 L397.0 207.2 L398.4 208.5 L399.1 210.1 L400.8 210.8 L402.2 212.1 L404.2 212.2 L405.6 213.4 L407.2 214.1 L407.8 216.0 L409.7 216.3 L411.0 217.3 L412.9 217.4 L413.8 219.1 L415.1 220.3 L416.1 221.7 L417.4 222.9 L419.0 224.1 L419.0 226.1 L420.7 225.9 L422.3 225.5 L423.7 224.1 L425.5 224.5 L427.1 224.7 L428.8 224.4 L430.5 224.8 L432.1 224.5 L433.4 225.4 L434.0 227.0 L435.3 227.8 L436.9 228.5 L438.7 227.5 L440.2 228.6 L441.4 227.0 L443.6 227.0 L445.1 225.8 L446.6 226.9 L448.5 226.0 L450.1 226.6 L451.7 227.0 L453.3 227.9 L455.1 228.3 L456.6 229.4 L457.6 230.7 L458.5 232.1 L459.3 233.6 L459.9 235.1 L460.8 236.4 L462.2 237.3 L463.1 238.6 L463.9 240.0 L465.0 241.5 L467.2 241.5 L468.0 243.3 L469.7 242.1 L471.3 240.8 L472.7 242.0 L474.7 242.2 L476.2 243.3 L477.4 244.2 L477.8 245.7 L479.6 245.9 L481.0 244.6 L482.6 244.2 L484.4 244.4 L485.8 243.7 L487.4 243.6 L488.4 242.0 L490.1 242.1 L491.7 243.1 L493.0 244.3 L494.2 245.7 L495.6 247.1 L497.5 247.3 L499.1 248.2 L500.7 248.8 L502.3 247.6 L504.0 247.9 L505.6 248.5 L507.2 248.2 L508.7 249.3 L510.5 248.9 L512.3 248.9 L513.8 249.8 L515.7 249.8 L517.0 251.1 L518.9 251.2 L520.3 252.3 L519.0 253.7 L518.1 255.3 L518.3 257.4 L517.0 258.8 L516.1 260.5 L514.1 261.3 L513.1 262.9 L512.1 264.5 L510.8 265.7 L510.7 267.5 L510.3 269.1 L508.9 270.2 L508.4 272.0 L506.8 273.3 L506.8 275.3 L505.6 276.8 L505.7 278.4 L505.4 280.1 L505.3 281.7 L505.1 283.3 L504.8 284.9 L503.6 286.4 L504.5 288.4 L504.4 290.1 L503.1 291.5 L501.7 292.8 L501.2 294.5 L500.4 296.0 L500.6 298.0 L499.9 299.6 L499.3 301.3 L499.5 303.0 L500.9 304.5 L500.1 306.2 L500.7 307.8 L499.8 309.4 L499.9 311.2 L499.9 313.0 L500.0 314.8 L499.6 316.5 L499.1 318.2 L500.1 319.7 L500.8 321.2 L500.4 323.1 L501.4 324.6 L501.5 326.3 L500.4 327.8 L501.1 329.9 L499.0 331.0 L499.1 332.9 L497.6 333.9 L496.1 334.8 L494.9 336.1 L494.2 337.8 L492.6 336.9 L490.9 337.3 L489.1 338.1 L487.6 337.0 L486.2 335.8 L484.4 335.3 L483.6 336.8 L482.2 337.6 L480.5 338.2 L479.5 339.4 L480.3 340.8 L481.2 342.1 L481.9 343.5 L480.0 343.9 L478.9 345.4 L477.8 346.8 L476.2 347.6 L476.2 349.3 L474.7 350.7 L475.0 352.5 L474.5 354.1 L472.9 355.0 L472.2 356.7 L471.2 358.2 L469.6 359.0 L468.5 360.6 L467.0 362.0 L466.4 363.9 L465.3 365.2 L463.3 365.1 L461.7 365.7 L460.7 367.2 L460.4 368.9 L460.5 370.5 L462.2 372.0 L461.5 373.7 L460.3 374.9 L459.0 375.9 L459.2 378.1 L457.9 379.1 L456.6 380.2 L455.4 381.7 L453.7 382.6 L452.4 384.0 L450.9 385.1 L450.5 386.8 L449.6 388.3 L450.5 390.3 L449.2 391.7 L448.6 393.8 L446.8 394.9 L448.3 395.5 L449.4 396.6 L450.0 398.2 L449.9 400.2 L447.6 401.1 L447.0 402.8 L446.8 404.7 L446.6 406.7 L445.1 408.0 L444.3 409.7 L446.1 409.0 L447.9 408.5 L449.8 408.2 L451.7 408.0 L452.6 406.6 L453.1 405.1 L453.4 403.5 L453.8 401.9 L454.9 400.7 L456.1 399.6 L457.2 398.5 L458.9 398.3 L460.4 397.8 L461.5 396.6 L463.1 396.1 L464.6 395.2 L466.3 395.0 L468.0 395.0 L469.7 395.1 L471.3 394.6 L472.7 395.7 L474.6 395.7 L476.2 396.6 L476.1 398.4 L476.8 399.9 L477.5 401.4 L477.8 403.1 L478.4 404.7 L478.5 406.4 L478.5 408.1 L479.3 409.6 L479.5 411.3 L480.2 412.8 L481.5 413.9 L482.8 414.9 L483.4 416.5 L484.4 417.8 L484.3 419.5 L485.7 420.9 L485.2 422.7 L483.9 423.9 L482.6 425.0 L481.1 426.0 L479.1 426.5 L477.8 428.2 L477.3 430.0 L478.6 431.4 L478.6 433.1 L479.6 434.9 L481.2 436.0 L483.2 436.4 L484.4 438.0 L485.3 439.6 L486.6 441.0 L486.3 443.1 L487.6 444.5 L488.6 445.9 L489.6 447.4 L490.9 448.5 L492.5 449.4 L491.8 451.0 L491.3 452.5 L491.2 454.2 L490.9 455.9 L490.1 457.5 L488.3 457.8 L487.8 459.7 L486.0 460.0 L484.6 461.4 L482.5 461.2 L481.4 463.2 L479.8 463.9 L477.8 464.1 L476.5 465.6 L474.2 465.2 L472.9 466.6 L474.2 467.7 L475.3 469.0 L474.8 471.2 L476.2 472.3 L477.9 473.6 L477.9 475.9 L479.5 477.2 L481.0 478.3 L482.5 479.3 L484.0 480.3 L486.0 480.4 L486.9 481.8 L487.5 483.4 L489.6 483.9 L489.5 486.0 L490.9 487.0 L489.7 488.2 L488.2 489.2 L487.7 491.2 L486.0 491.9 L484.5 493.3 L483.2 494.7 L482.7 496.8 L484.1 498.1 L484.0 500.0 L484.7 501.5 L484.7 503.3 L484.6 505.0 L485.6 506.5 L487.2 507.7 L488.5 509.0 L489.6 510.6 L490.5 512.3 L492.0 513.3 L493.6 514.3 L495.5 514.5 L497.2 515.3 L498.7 516.3 L500.4 516.5 L502.0 516.7 L503.6 517.2 L505.3 516.9 L506.8 518.0 L508.4 517.3 L510.4 517.5 L511.7 515.9 L513.5 515.8 L515.0 514.7 L516.4 516.0 L516.3 518.1 L517.1 519.8 L518.3 521.2 L517.4 522.5 L517.0 524.1 L516.5 525.6 L515.8 527.0 L514.6 528.3 L513.2 529.4 L513.2 531.6 L511.7 532.7 L511.6 534.6 L509.7 535.8 L508.6 537.2 L508.5 539.2 L507.2 540.0 L505.9 540.9 L504.3 541.3 L503.5 543.0 L501.9 543.3 L500.9 544.8 L499.7 546.0 L497.9 546.6 L496.9 548.1 L495.4 549.0 L494.5 550.7 L492.7 551.6 L491.1 552.7 L490.5 554.7 L489.5 556.0 L487.8 556.5 L486.9 557.9 L485.6 558.8 L483.8 559.6 L482.9 561.3 L482.0 563.0 L480.8 564.4 L479.1 565.3 L480.0 567.2 L479.1 569.2 L479.1 571.1 L477.5 571.9 L476.0 572.9 L474.2 573.1 L472.5 573.5 L471.0 574.5 L469.1 574.4 L467.9 576.1 L465.7 575.3 L464.4 576.8 L462.8 577.6 L461.0 578.2 L459.5 579.3 L457.8 580.0 L456.3 579.0 L454.7 578.6 L452.9 578.7 L451.3 578.4 L449.7 579.3 L447.9 579.7 L446.4 580.9 L445.6 579.4 L443.8 579.0 L443.0 577.5 L441.5 576.8 L439.9 575.8 L438.2 576.5 L436.5 576.7 L434.9 576.0 L433.1 576.0 L431.8 574.6 L430.1 574.2 L428.7 573.2 L426.8 573.5 L426.8 571.6 L425.1 570.4 L424.4 568.8 L424.3 567.0 L422.2 567.0 L420.2 566.2 L418.6 567.0 L416.9 566.2 L415.2 566.2 L413.7 567.0 L412.8 565.6 L410.9 565.7 L410.2 564.0 L408.3 564.0 L407.2 562.9 L406.2 564.4 L404.7 565.4 L403.9 567.0 L402.1 567.5 L400.5 567.2 L399.1 565.6 L397.3 566.2 L395.7 565.8 L394.1 565.3 L393.4 563.6 L392.5 562.1 L390.9 561.7 L389.2 562.8 L387.6 562.1 L385.9 561.8 L384.3 561.6 L382.6 561.9 L381.0 561.3 L379.9 560.2 L379.1 558.6 L377.2 558.4 L376.1 557.2 L374.5 556.9 L372.7 557.3 L371.2 556.4 L369.8 557.7 L367.8 558.1 L366.7 560.0 L364.7 560.4 L362.9 561.0 L361.5 562.0 L361.1 564.3 L358.7 564.2 L358.0 566.1 L356.5 567.0 L354.8 567.7 L353.4 568.9 L352.5 570.7 L350.9 571.5 L349.2 571.4 L347.6 571.6 L346.0 571.6 L344.4 572.3 L343.3 573.6 L341.5 573.9 L339.9 574.6 L338.9 576.0 L337.8 577.2 L336.9 578.5 L336.8 580.3 L335.4 581.3 L334.8 582.7 L333.4 583.7 L332.9 585.3 L332.4 586.9 L332.5 588.6 L333.0 590.3 L332.0 591.8 L332.1 593.5 L332.0 595.2 L333.0 596.7 L331.9 598.5 L332.5 600.1 L332.9 601.7 L333.7 603.3 L332.4 605.0 L333.9 606.5 L333.7 608.2 L333.2 609.9 L333.7 611.5 L335.0 612.7 L336.4 613.8 L337.8 614.8 L337.1 616.3 L337.0 618.0 L335.2 618.1 L333.4 618.3 L331.6 618.6 L329.8 618.8 L328.0 618.0 L326.3 618.0 L324.7 618.2 L323.1 618.9 L321.4 618.9 L319.9 619.7 L319.3 621.4 L318.2 622.9 L316.5 623.2 L314.9 622.8 L313.3 621.8 L311.6 623.1 L310.0 622.1 L308.4 621.2 L306.5 620.7 L305.4 619.0 L303.4 618.8 L301.9 617.7 L300.3 618.3 L298.6 618.4 L296.9 618.5 L295.3 618.8 L293.4 619.2 L292.2 620.7 L290.4 621.3 L290.6 619.5 L288.9 618.2 L288.8 616.5 L288.8 614.8 L287.0 615.2 L285.4 614.8 L284.0 613.3 L282.3 613.0 L280.6 613.1 L279.5 611.9 L279.0 610.6 L279.0 609.0 L277.3 608.7 L275.8 607.8 L274.2 607.2 L272.6 607.0 L270.9 606.8 L269.2 606.6 L267.5 606.5 L266.2 605.5 L264.6 605.2 L263.4 604.0 L262.0 603.2 L260.5 602.7 L258.9 602.3 L257.7 601.4 L256.9 599.8 L254.8 600.1 L254.0 598.6 L252.5 597.7 L250.9 597.1 L249.3 596.6 L247.4 597.2 L245.9 596.5 L244.2 596.2 L242.6 595.7 L241.0 595.2 L239.5 594.2 L237.6 594.6 L237.0 596.2 L237.4 597.9 L236.8 599.5 L234.8 599.3 L233.2 600.3 L231.3 600.5 L229.5 601.1 L227.9 600.7 L226.2 602.0 L224.6 600.6 L222.9 600.8 L221.3 601.1 L219.7 601.1 L218.0 601.1 L216.4 601.2 L214.8 601.7 L213.1 601.0 L211.5 601.1 L209.8 601.0 L208.9 599.5 L207.7 598.4 L206.2 597.9 L205.0 597.0 L203.4 596.1 L202.1 594.6 L200.4 593.9 L198.1 594.3 L196.8 592.9 L195.1 592.7 L193.5 593.4 L192.0 594.7 L190.3 594.5 L188.6 594.6 L186.7 593.9 L184.9 593.0 L183.7 591.3 L182.7 590.0 L182.2 588.4 L180.4 587.8 L179.6 586.4 L177.9 585.3 L176.0 585.2 L174.0 585.8 L172.3 584.7 L170.8 583.6 L169.1 583.6 L167.6 582.5 L165.8 582.4 L164.1 582.3 L162.7 581.1 L160.7 580.9 L159.5 579.3 L157.6 579.0 L155.9 577.7 L154.0 577.3 L151.9 577.4 L152.9 575.7 L154.4 574.4 L155.1 572.5 L154.8 570.9 L153.9 569.3 L154.3 567.6 L152.5 568.0 L150.9 567.5 L149.3 566.9 L147.8 566.0 L146.0 566.2 L144.5 565.2 L142.9 564.4 L141.2 564.3 L140.7 562.9 L140.0 561.6 L139.6 560.2 L141.3 559.8 L142.8 558.6 L144.5 558.2 L146.3 558.1 L147.8 557.0 L148.5 555.6 L149.0 554.1 L150.9 553.4 L151.4 551.9 L151.9 550.4 L152.2 548.7 L152.7 547.1 L153.6 545.5 L154.2 543.9 L154.1 542.1 L155.1 540.6 L154.7 538.7 L155.5 537.2 L157.0 535.9 L156.4 533.9 L157.4 532.4 L157.4 530.7 L158.4 529.2 L158.2 527.5 L158.3 525.8 L159.0 524.3 L158.9 522.6 L158.9 520.9 L160.0 519.4 L159.6 517.6 L160.0 516.0 L160.8 514.5 L160.4 512.7 L160.6 511.1 L161.7 509.6 L161.9 508.0 L162.1 506.3 L162.9 504.8 L162.0 502.9 L162.9 501.4 L163.3 499.8 L163.2 498.2 L162.7 496.5 L164.5 495.0 L163.3 493.2 L163.2 491.6 L164.1 490.0 L164.7 488.6 L164.9 487.0 L164.5 485.3 L165.5 483.7 L165.2 482.0 L165.0 480.3 L165.1 478.7 L166.5 477.2 L166.3 475.5 L166.2 473.8 L167.4 472.3 L167.1 470.6 L168.2 469.1 L167.3 467.3 L167.5 465.6 L167.8 464.0 L169.1 462.5 L168.8 460.8 L169.2 459.2 L168.9 457.5 L168.6 455.8 L169.8 454.3 L170.5 452.7 L170.0 451.0 L169.2 449.3 L169.4 447.6 L170.4 446.1 L169.5 444.5 L169.5 442.9 L169.2 441.3 L169.1 439.6 L170.0 437.9 L169.6 436.3 L171.0 435.0 L170.5 432.9 L171.7 431.5 L173.3 430.2 L173.3 428.2 L174.1 426.6 L175.1 425.1 L175.7 423.5 L176.1 421.8 L175.8 420.0 L174.7 418.5 L175.0 416.8 L175.3 415.1 L174.9 413.5 L174.5 411.4 L172.1 410.6 L171.7 408.6 L172.2 407.0 L173.8 406.2 L174.1 404.5 L172.7 403.5 L172.3 401.9 L171.7 400.4 L169.9 399.9 L168.6 398.5 L166.8 398.0 L165.4 396.7 L163.3 397.3 L162.0 395.7 L160.2 395.5 L158.8 394.1 L157.3 393.0 L155.4 392.4 L153.7 391.5 L153.1 389.6 L151.1 388.8 L149.9 387.2 L148.8 385.7 L147.7 384.3 L147.9 382.3 L146.8 380.9 L145.8 379.4 L145.5 377.6 L143.9 376.8 L143.3 374.9 L142.0 373.8 L140.6 372.7 L139.9 370.9 L138.3 369.5 L137.4 367.8 L137.8 365.9 L137.6 364.0 L139.0 362.3 L139.0 360.4 L139.8 358.4 L141.7 357.6 L143.1 356.3 L142.0 354.9 L140.5 354.0 L138.5 353.8 L137.3 352.5 L136.2 351.1 L136.8 349.1 L136.2 347.0 L137.6 346.4 L139.2 345.9 L140.5 345.1 L141.4 343.6 L142.7 342.9 L140.9 342.5 L139.4 343.1 L137.9 344.2 L136.3 344.4 L134.6 344.5 L132.9 345.1 L131.3 344.3 L129.7 343.1 L128.0 343.7 L126.4 342.8 L126.0 340.9 L124.8 339.6 L124.7 337.7 L125.1 336.1 L126.4 334.7 L127.7 333.8 L128.3 332.2 L129.7 331.5 L127.8 331.7 L126.2 331.0 L124.8 329.8 L122.9 329.3 L121.0 329.1 L119.0 329.0 L117.3 328.1 L116.6 326.4 L116.6 324.2 L114.9 323.3 L113.3 324.1 L111.6 323.7 L110.0 324.1 L108.1 324.0 L106.3 323.1 L104.3 323.3 L103.3 321.5 L101.9 320.0 L100.5 318.7 L98.6 318.4 L97.0 317.1 L95.3 316.0 L93.6 315.0 L92.2 313.7 L91.3 311.9 L90.3 313.4 L88.3 313.0 L87.2 314.3 L85.3 314.1 L83.6 313.5 L82.3 311.9 L80.9 310.5 L78.9 311.3 L77.4 310.2 L77.2 308.5 L75.1 307.9 L74.9 306.2 L72.8 305.8 L70.8 305.3 L69.8 304.2 L70.3 302.4 L69.2 301.3 L68.2 302.8 L67.4 304.5 L66.8 306.2 L65.8 307.3 L65.1 308.6 L65.1 310.2 L63.2 310.2 L61.3 309.5 L59.4 309.4 L59.7 307.3 L60.2 305.3 L58.8 304.0 L59.1 301.8 L57.8 300.4 L56.3 299.2 L54.8 297.8 L52.9 297.2 L51.1 297.2 L49.6 296.1 L47.9 295.8 L46.3 295.2 L48.0 295.3 L49.4 293.8 L51.1 293.9 L52.8 293.8 L54.3 292.7 L56.1 293.1 L57.7 293.0 L59.4 293.2 L61.0 292.5 L62.7 292.7 L64.3 292.3 L63.7 290.6 L62.7 289.0 L61.0 289.4 L59.4 288.9 L57.9 287.6 L56.1 288.7 L54.5 288.2 L54.4 286.5 L54.5 284.9 L56.2 284.3 L57.8 284.7 L59.5 284.8 L61.0 286.3 L62.7 285.7 L64.3 286.3 L65.9 286.7 L67.5 287.1 L69.2 286.6 L70.8 286.6 L69.7 284.7 L67.6 284.1 L66.0 283.6 L64.3 283.3 L62.9 281.9 L61.2 281.5 L59.6 281.0 L57.7 281.3 L56.1 280.8 L57.7 280.3 L58.6 278.8 L60.5 278.7 L61.7 277.7 L62.3 275.9 L64.3 275.9 L65.1 274.3 L63.8 275.5 L62.4 276.4 L60.4 276.1 L59.2 277.5 L57.5 277.8 L55.8 278.3 L54.8 280.0 L52.9 280.0 L51.3 279.3 L49.6 279.9 L48.0 279.2 L47.3 277.9 L46.6 276.6 L46.3 275.1 L47.3 273.3 L47.9 271.4 L48.0 269.4 L49.1 268.3 L50.2 267.2 L51.7 266.6 L53.1 266.0 L54.5 265.3 L55.9 264.0 L57.6 263.4 L59.6 263.8 L61.2 263.1 L62.7 262.1 L64.3 263.0 L66.0 263.0 L67.6 262.8 L69.2 262.1 L70.8 261.5 L72.4 260.8 L74.1 260.7 L75.7 260.7 L77.4 260.4 L78.2 261.8 L78.9 263.3 L80.0 264.6 L80.6 266.1 L82.2 264.8 L82.5 262.6 L83.9 261.2 L85.6 261.7 L86.9 263.0 L88.8 262.9 L90.8 263.5 L92.9 262.9 L92.5 261.2 L92.9 259.6 L93.7 257.7 L95.3 256.3 L97.0 256.7 L98.5 255.2 L100.1 255.2 L101.8 255.8 L103.5 255.7 L105.1 255.5 L106.8 254.9 L108.4 254.7 L110.0 255.0 L111.7 255.5 L112.4 257.2 L113.9 258.2 L114.9 259.6 L115.0 261.5 L116.1 262.8 L116.6 264.5 L118.9 265.1 L119.0 267.0 L120.3 268.1 L121.4 269.2 L121.6 271.0 L122.5 272.2 L123.8 273.3 L123.9 275.1 L125.4 274.0 L126.4 272.2 L128.1 271.4 L129.5 270.2 L131.3 269.4 L133.1 269.3 L134.5 268.1 L136.0 267.2 L137.8 267.0 L139.6 267.6 L140.3 269.4 L141.3 270.8 L142.7 271.9 L144.4 271.9 L146.1 272.0 L147.6 271.0 L147.9 272.7 L149.6 273.7 L150.6 275.0 L150.9 276.8 L151.2 275.1 L151.1 273.5 L150.4 271.9 L150.9 270.2 L150.1 268.6 L151.8 268.2 L153.2 267.2 L155.0 267.0 L156.1 268.1 L156.9 269.3 L156.6 271.0 L158.4 271.3 L160.2 271.7 L162.0 271.7 L163.8 270.9 L165.6 271.0 L167.3 271.0 L169.0 271.2 L170.5 270.2 L169.7 268.9 L168.3 268.3 L167.0 267.6 L166.2 266.2 L165.8 264.7 L164.6 263.6 L164.5 261.9 L164.1 260.2 L165.2 258.6 L166.0 257.1 L165.3 255.3 L165.5 253.7 L165.3 252.0 L165.3 250.4 L165.6 248.8 L166.3 247.2 L165.8 245.5 L165.4 243.7 L166.0 241.7 L164.2 240.1 L164.5 238.2 L163.2 236.9 L162.6 235.2 L161.4 233.8 L161.1 231.9 L159.6 230.8 L159.5 229.0 L159.0 227.3 L157.8 225.9 L156.2 224.6 L156.3 222.7 L156.7 220.8 L157.0 218.9 L157.2 217.0 L156.3 215.4 L155.2 213.9 L154.7 212.1 L156.3 212.7 L157.8 213.4 L159.6 212.9 L161.5 213.1 L162.7 214.8 L164.5 215.3 L166.1 214.7 L167.8 214.5 L169.5 214.8 L171.0 213.7 L172.8 214.5 L174.7 214.0 L176.6 213.2 L178.4 213.7 L178.8 215.8 L180.5 217.0 L180.0 218.9 L178.7 220.4 L177.6 221.9 L177.9 223.6 L179.5 224.6 L180.4 226.0 L180.8 227.6 L180.9 229.4 L181.8 230.7 L183.3 231.7 L185.1 230.8 L187.0 230.4 L189.0 230.0 L190.8 230.3 L192.5 230.7 L194.1 231.6 L195.2 233.4 L197.2 233.3 L198.9 232.7 L200.5 233.2 L202.2 233.3 L203.8 233.3 L205.4 234.3 L207.0 234.4 L208.4 235.6 L210.0 236.6 L211.8 237.1 L213.5 237.7 L215.2 238.2 L216.7 236.7 L218.4 237.1 L220.0 237.4 L221.8 237.3 L222.2 235.1 L223.7 234.6 L225.3 234.1 L226.6 233.3 L228.0 231.9 L229.9 231.2 L231.5 230.0 L233.2 229.2 L234.8 230.0 L233.0 230.1 L231.7 228.4 L229.7 229.4 L228.2 228.4 L227.9 226.4 L226.3 225.1 L226.2 223.5 L228.1 222.5 L228.0 220.9 L228.2 219.4 L229.5 218.2 L229.9 216.3 L231.5 215.3 L232.8 213.8 L235.0 214.1 L236.1 212.3 L237.8 211.5 L239.9 211.7 L241.3 210.4 L243.2 210.4 L244.3 208.4 L246.5 209.3 L247.9 208.0 L249.4 207.1 L250.9 206.1 L252.7 205.9 L254.4 205.5 L256.3 205.8 L257.5 204.1 L259.1 203.3 L260.7 202.8 L262.4 202.2 L264.2 202.3 L265.7 201.2 L267.8 201.3 L268.7 199.2 L270.4 198.5 L272.3 198.2 L273.9 197.9 L275.1 197.0Z" fill="none" stroke="#1a1a1a" stroke-width="1.35" stroke-linejoin="round"/>
<path d="M510.0 575.0 L511.4 575.6 L512.6 576.5 L513.3 577.9 L513.7 579.5 L514.4 581.1 L514.8 582.7 L514.5 584.4 L514.0 586.2 L514.9 587.7 L514.2 589.3 L514.1 590.9 L514.7 592.6 L514.1 594.2 L514.9 595.8 L516.1 597.3 L517.0 598.8 L517.9 600.4 L518.2 602.3 L518.9 603.9 L518.1 605.7 L518.6 607.3 L518.9 608.9 L519.2 610.6 L520.5 612.0 L520.6 613.7 L520.6 615.4 L520.5 617.0 L520.4 618.7 L520.3 620.3 L520.3 621.9 L521.0 623.5 L520.9 625.4 L519.3 626.7 L518.5 628.3 L518.0 630.0 L517.7 631.9 L516.5 633.3 L516.4 634.9 L516.9 636.6 L515.5 638.1 L515.5 639.8 L515.9 641.4 L516.1 643.1 L515.7 644.7 L514.7 646.2 L514.8 647.9 L513.9 649.5 L513.6 651.1 L513.7 652.9 L513.3 654.5 L513.2 656.3 L512.7 658.0 L512.7 659.7 L512.9 661.5 L512.5 663.3 L511.4 664.9 L511.7 666.7 L509.9 667.2 L508.3 666.9 L506.8 665.9 L505.6 664.8 L504.0 664.2 L502.9 662.9 L501.6 662.0 L500.3 661.0 L498.7 660.7 L497.6 659.2 L495.6 659.8 L494.3 658.9 L492.6 658.7 L491.3 657.7 L491.2 656.0 L490.4 654.5 L490.5 652.8 L491.7 651.5 L493.5 650.8 L494.6 649.3 L492.9 649.4 L491.3 648.8 L489.8 648.0 L488.0 649.1 L486.3 648.9 L484.8 648.0 L485.0 646.2 L486.4 644.8 L486.8 643.1 L487.2 641.4 L485.6 641.0 L484.2 640.0 L482.7 639.4 L481.5 638.2 L482.4 636.9 L482.9 635.2 L484.7 634.5 L485.9 633.4 L486.4 631.7 L485.3 630.2 L483.7 629.7 L482.5 628.6 L480.7 628.4 L479.5 627.2 L479.4 625.6 L480.0 623.8 L479.2 622.4 L478.3 621.1 L479.9 619.9 L482.0 619.5 L483.2 617.8 L482.0 616.4 L480.8 615.0 L478.9 614.4 L477.8 612.9 L478.1 611.2 L479.2 609.9 L479.5 608.2 L480.6 606.9 L482.2 605.8 L482.3 604.0 L483.4 602.7 L484.4 601.1 L485.8 600.0 L487.2 599.0 L488.9 598.3 L490.7 598.1 L492.1 596.8 L493.6 596.0 L495.1 595.1 L497.0 595.0 L498.7 594.6 L499.4 592.9 L500.4 591.6 L501.9 590.9 L503.8 590.8 L505.4 591.4 L506.8 592.6 L506.3 591.0 L507.1 589.3 L506.2 587.7 L506.1 586.1 L506.8 584.5 L506.4 582.8 L506.8 581.2 L507.9 579.7 L506.7 577.8 L507.6 576.3 L508.8 575.7Z" fill="none" stroke="#1a1a1a" stroke-width="1.35" stroke-linejoin="round"/>
</g>
<g id="reliefg"><g clip-path="url(#frc)"><g mask="url(#mts)"><rect x="30" y="130" width="500" height="540" fill="#3c3c36" opacity="0.1"/><rect x="30" y="130" width="500" height="540" filter="url(#relief)" opacity="0.52"/></g></g></g>
</defs>

<g id="bigc">

<g clip-path="url(#fr)">
<path d="M338.7 170.6 L420.0 118.0 L503.3 130.0 L503.3 330.0 L560.0 330.0 L560.0 570.0 L470.0 585.0 L470.0 700.0 L0.0 700.0 L0.0 330.0 L70.0 315.0 L75.7 306.2 L83.9 296.4 L91.3 287.4 L100.2 267.8 L106.8 250.0 L150.0 200.0 L225.0 205.0 L230.7 218.0 L241.3 220.4 L254.4 219.6 L270.7 214.3 L286.0 204.5 L311.0 188.4Z" fill="#e8e5d0" stroke="#999" stroke-width="1"/>
<path d="M170.9 434.7 C174.8 431.1 172.5 430.9 173.3 428.2 C174.1 425.5 175.4 421.7 175.8 418.4 C176.2 415.1 176.0 411.6 175.8 408.6 C175.7 405.6 175.2 402.6 174.9 400.4 C174.6 398.2 174.6 397.7 174.1 395.5 C173.6 393.3 172.9 390.4 171.7 387.4 C170.5 384.4 168.7 380.9 166.8 377.6 C164.9 374.3 162.6 371.1 160.2 367.8 C157.8 364.5 154.8 361.6 152.1 358.0 C149.4 354.4 146.1 349.5 143.9 346.5 C141.7 343.5 140.2 342.0 139.0 340.0 C137.8 338.0 137.9 337.8 137.0 334.7 C136.1 331.6 134.6 326.6 133.7 321.7 C132.8 316.8 131.7 310.2 131.6 305.3 C131.5 300.4 131.9 296.7 132.9 292.3 C133.9 287.9 135.9 282.8 137.8 279.2 C139.7 275.6 141.7 274.3 144.4 271.0 C147.1 267.7 150.4 262.9 154.0 259.5 C157.6 256.1 162.4 252.4 166.1 250.4 C169.8 248.4 172.1 248.2 175.9 247.5 C179.7 246.8 184.1 246.6 189.0 246.4 C193.9 246.2 199.9 246.2 205.3 246.4 C210.8 246.6 216.8 246.8 221.7 247.5 C226.6 248.2 230.5 249.1 234.8 250.4 C239.2 251.7 243.2 253.3 247.8 255.3 C252.4 257.3 257.9 260.3 262.5 262.4 C267.1 264.5 271.5 266.4 275.6 268.1 C279.7 269.8 282.9 271.2 287.0 272.5 C291.1 273.8 295.8 274.9 300.1 275.6 C304.4 276.3 309.7 276.8 313.0 276.8 C316.3 276.8 316.8 276.3 319.9 275.6 C322.9 274.9 327.5 273.9 331.3 272.7 C335.1 271.5 338.9 270.4 342.7 268.6 C346.5 266.8 350.4 264.4 354.2 262.1 C358.0 259.8 361.8 257.3 365.6 254.7 C369.4 252.1 373.5 248.9 377.0 246.5 C380.5 244.1 383.0 242.8 386.8 240.0 C390.6 237.2 395.6 233.0 400.0 229.5 C404.4 226.0 406.6 224.1 413.3 218.8 C420.0 213.6 430.9 200.5 440.0 198.0 C449.1 195.5 461.2 199.5 468.0 204.0 C474.8 208.5 478.4 218.1 481.0 225.0 C483.6 231.9 482.7 240.6 483.5 245.7 C484.3 250.8 485.4 251.7 486.0 255.5 C486.6 259.3 487.2 264.2 487.3 268.6 C487.4 273.0 486.8 277.4 486.3 281.7 C485.8 286.0 484.7 290.3 484.4 294.7 C484.1 299.1 484.0 303.6 484.4 307.8 C484.8 312.0 486.0 316.4 486.8 319.8 C487.6 323.2 488.6 325.1 489.3 328.0 C490.0 330.9 490.2 333.0 491.2 337.0 C492.1 341.0 496.5 345.2 495.0 352.0 C493.5 358.8 487.5 371.3 482.0 378.0 C476.5 384.7 467.9 389.2 462.0 392.0 C456.1 394.8 450.7 393.7 446.8 394.6 C442.9 395.5 441.6 396.2 438.6 397.4 C435.6 398.5 431.8 399.7 428.8 401.5 C425.8 403.3 423.1 405.6 420.6 408.0 C418.2 410.4 415.9 413.5 414.1 416.2 C412.3 418.9 411.1 422.1 410.0 424.4 C408.9 426.7 408.5 427.2 407.6 430.0 C406.7 432.8 406.0 437.6 404.4 441.4 C402.8 445.2 400.5 449.1 397.8 452.9 C395.1 456.7 391.8 460.8 388.0 464.3 C384.2 467.8 379.5 470.8 374.9 474.1 C370.3 477.4 364.3 480.9 360.2 483.9 C356.1 486.9 353.4 489.1 350.4 492.1 C347.4 495.1 344.5 498.4 342.3 501.9 C340.1 505.4 338.3 509.8 337.4 513.3 C336.4 516.8 336.5 519.3 336.6 523.1 C336.7 526.9 337.7 532.4 338.2 536.2 C338.7 540.0 339.4 542.5 339.5 546.1 C339.6 549.7 339.4 553.5 338.6 557.6 C337.8 561.7 336.4 566.2 334.6 570.6 C332.8 575.0 330.2 579.9 328.0 583.7 C325.8 587.5 324.2 589.7 321.5 593.5 C318.8 597.3 315.0 602.5 311.7 606.6 C308.4 610.7 306.3 613.3 301.9 618.0 C297.4 622.7 310.3 631.3 285.0 635.0 C259.7 638.7 177.5 652.5 150.0 640.0 C122.5 627.5 120.0 591.7 120.0 560.0 C120.0 528.3 141.5 470.9 150.0 450.0 C158.5 429.1 167.0 438.3 170.9 434.7Z" fill="#fff27a" stroke="#dcc40a" stroke-width="1.5"/>
<path d="M176.5 311.0 C177.6 307.5 178.2 303.9 180.0 300.5 C181.8 297.1 184.2 293.1 187.0 290.5 C189.8 287.9 193.4 286.1 196.5 284.8 C199.6 283.5 202.2 283.2 205.3 282.8 C208.4 282.4 211.8 282.1 215.1 282.3 C218.4 282.5 221.6 282.9 224.9 283.9 C228.2 284.8 231.5 286.2 234.8 288.0 C238.1 289.8 241.3 292.4 244.6 294.6 C247.9 296.8 251.1 299.2 254.4 301.1 C257.7 303.1 260.9 304.8 264.2 306.3 C267.5 307.9 270.4 309.2 274.0 310.4 C277.6 311.6 281.1 312.7 285.5 313.5 C289.9 314.3 295.3 314.9 300.2 315.1 C305.1 315.3 310.3 315.1 314.9 314.8 C319.5 314.5 323.6 313.8 328.0 313.2 C332.4 312.6 337.0 312.0 341.1 311.1 C345.2 310.2 349.2 308.9 352.5 307.8 C355.8 306.7 358.0 306.0 360.7 304.5 C363.4 303.0 366.2 301.1 368.9 298.8 C371.6 296.5 374.3 293.3 377.0 290.6 C379.7 287.9 382.5 284.9 385.2 282.5 C387.9 280.1 390.4 278.1 393.4 275.9 C396.4 273.7 399.3 271.0 403.0 269.2 C406.7 267.4 411.1 266.0 415.7 265.3 C420.3 264.6 425.5 264.6 430.4 265.0 C435.3 265.4 440.7 266.4 445.1 267.8 C449.5 269.2 453.3 271.2 456.6 273.5 C459.9 275.8 462.9 278.7 464.7 281.7 C466.5 284.7 467.3 288.2 467.7 291.5 C468.1 294.8 467.7 297.8 467.2 301.3 C466.7 304.8 465.6 309.9 464.7 312.7 C463.8 315.5 462.9 315.6 461.5 318.2 C460.1 320.8 458.8 324.7 456.6 328.0 C454.4 331.3 451.1 334.9 448.4 337.8 C445.7 340.7 443.2 342.9 440.2 345.1 C437.2 347.3 433.9 348.8 430.4 350.8 C426.9 352.9 422.8 354.9 419.0 357.4 C415.2 359.8 411.1 362.8 407.6 365.5 C404.1 368.2 400.8 371.0 397.8 373.7 C394.8 376.4 391.9 378.9 389.6 381.9 C387.3 384.9 385.4 388.4 383.9 391.7 C382.4 395.0 381.3 398.2 380.6 401.5 C379.9 404.8 380.1 408.0 379.8 411.3 C379.5 414.6 379.5 418.0 379.0 421.1 C378.5 424.2 377.8 427.1 376.6 430.0 C375.4 432.9 374.1 435.2 371.7 438.2 C369.2 441.2 365.4 445.3 361.9 448.0 C358.3 450.7 354.2 452.6 350.4 454.5 C346.6 456.4 342.8 457.6 339.0 459.4 C335.2 461.2 331.1 462.9 327.6 465.1 C324.1 467.3 320.8 469.6 317.8 472.5 C314.8 475.4 311.7 478.8 309.6 482.3 C307.6 485.8 306.2 490.2 305.5 493.7 C304.8 497.2 305.1 499.7 305.5 503.5 C305.9 507.3 307.1 512.2 308.0 516.6 C308.9 521.0 310.1 525.1 311.2 529.7 C312.3 534.3 313.6 539.8 314.5 544.4 C315.4 549.0 316.5 553.2 316.6 557.6 C316.7 562.0 316.0 566.2 314.9 570.6 C313.8 575.0 312.2 579.6 310.0 583.7 C307.8 587.8 304.9 591.6 301.9 595.1 C298.9 598.6 295.4 601.8 292.1 604.9 C288.8 608.0 287.7 609.7 282.3 613.9 C276.9 618.1 282.1 628.1 260.0 630.0 C237.9 631.9 170.0 643.3 150.0 625.0 C130.0 606.7 137.4 541.8 140.0 520.0 C142.6 498.2 160.6 499.5 165.5 494.3 C170.4 489.1 167.8 490.9 169.6 488.6 C171.4 486.3 173.6 483.9 176.1 480.4 C178.6 476.9 181.9 471.8 184.3 467.4 C186.8 463.0 189.0 458.7 190.8 454.3 C192.6 449.9 193.8 445.3 194.9 441.2 C196.0 437.1 196.9 433.1 197.4 429.8 C197.9 426.6 198.0 425.2 198.1 421.7 C198.2 418.2 198.1 413.0 197.8 408.6 C197.5 404.2 197.0 399.9 196.2 395.5 C195.4 391.1 194.3 387.1 192.9 382.5 C191.5 377.9 189.9 372.1 188.0 367.8 C186.1 363.5 183.5 360.3 181.7 356.5 C179.9 352.7 178.2 348.6 177.0 345.0 C175.8 341.4 175.2 338.6 174.6 334.7 C174.0 330.8 173.1 325.6 173.4 321.7 C173.7 317.8 175.4 314.5 176.5 311.0Z" fill="#ff8c05" stroke="#d46c08" stroke-width="1"/>
<path d="M160.8 517.0 C168.5 512.0 167.5 512.1 171.2 509.8 C174.8 507.5 179.1 505.8 182.7 503.3 C186.2 500.9 189.2 498.4 192.5 495.1 C195.8 491.8 199.0 487.8 202.3 483.7 C205.6 479.6 209.1 474.0 212.1 470.6 C215.1 467.2 217.5 465.2 220.2 463.3 C222.9 461.4 225.4 460.1 228.4 459.2 C231.4 458.3 234.9 458.0 238.2 458.1 C241.5 458.2 244.7 459.0 248.0 460.0 C251.3 461.0 254.5 462.3 257.8 464.1 C261.1 465.9 264.3 468.0 267.6 470.6 C270.9 473.2 274.4 476.3 277.4 479.6 C280.4 482.9 283.2 486.5 285.6 490.2 C288.1 493.9 290.2 498.1 292.1 501.7 C294.0 505.2 295.4 508.4 297.0 511.5 C298.6 514.5 300.4 517.0 301.9 520.0 C303.4 523.0 304.9 526.3 306.0 529.8 C307.1 533.3 307.9 537.4 308.4 541.2 C308.9 545.0 309.2 548.9 309.2 552.7 C309.2 556.5 308.9 560.3 308.4 564.1 C307.9 567.9 307.4 571.7 306.0 575.5 C304.6 579.3 302.5 583.7 300.2 587.0 C297.9 590.3 295.1 592.6 292.1 595.1 C289.1 597.6 285.3 599.9 282.3 601.7 C279.3 603.5 278.7 602.8 274.1 605.8 C269.6 608.8 277.4 617.6 255.0 620.0 C232.7 622.4 161.7 633.3 140.0 620.0 C118.3 606.7 121.5 557.2 125.0 540.0 C128.5 522.8 153.1 522.0 160.8 517.0Z" fill="#ff0000" stroke="#b00000" stroke-width="1"/>
</g>
<use href="#reliefg"/>
<use href="#lines"/>
<use href="#base"/>

<g transform="translate(328.8 220.3)"><circle r="12.5" fill="#303236"/><path d="M-5.4 4.3C-7 4.3 -8.6 3.4 -9.3 1.6C-10 -0.2 -9.6 -2.2 -8 -3.4C-7.2 -4.1 -6.2 -4.5 -5.2 -4.5C-4.5 -6.6 -2.4 -8.1 0.1 -8.1C2.8 -8.1 5.1 -6.4 5.8 -3.9C8 -3.6 10 -1.7 10 0.8C10 3 8.4 4.3 6.4 4.3" fill="none" stroke="#ededed" stroke-width="1.25" stroke-linecap="round" stroke-linejoin="round"/><path d="M-1.9 0.4L2 4.2L0.5 4.9L2.7 9.6L-1.6 5.6L-0.1 5L-2.9 1.2Z" fill="#f6f6f6"/></g><g transform="translate(243.9 353.0)"><circle r="12.5" fill="#303236"/><path d="M-5.4 4.3C-7 4.3 -8.6 3.4 -9.3 1.6C-10 -0.2 -9.6 -2.2 -8 -3.4C-7.2 -4.1 -6.2 -4.5 -5.2 -4.5C-4.5 -6.6 -2.4 -8.1 0.1 -8.1C2.8 -8.1 5.1 -6.4 5.8 -3.9C8 -3.6 10 -1.7 10 0.8C10 3 8.4 4.3 6.4 4.3" fill="none" stroke="#ededed" stroke-width="1.25" stroke-linecap="round" stroke-linejoin="round"/><path d="M-3.5 0.3V7.4M0.4 0.3V8.8M4.3 0.3V7.4" fill="none" stroke="#ededed" stroke-width="1.25" stroke-linecap="round" stroke-linejoin="round"/></g><g transform="translate(337.8 348.8)"><circle r="12.5" fill="#303236"/><path d="M-5.4 4.3C-7 4.3 -8.6 3.4 -9.3 1.6C-10 -0.2 -9.6 -2.2 -8 -3.4C-7.2 -4.1 -6.2 -4.5 -5.2 -4.5C-4.5 -6.6 -2.4 -8.1 0.1 -8.1C2.8 -8.1 5.1 -6.4 5.8 -3.9C8 -3.6 10 -1.7 10 0.8C10 3 8.4 4.3 6.4 4.3" fill="none" stroke="#ededed" stroke-width="1.25" stroke-linecap="round" stroke-linejoin="round"/><path d="M-3.8 1.85h1.4M-0.4 1.85h1.4M3.2 1.85h1.4M-2.1 4.5h1.4M1.5 4.5h1.4M-3.8 7.15h1.4M-0.4 7.15h1.4M3.2 7.15h1.4" fill="none" stroke="#ededed" stroke-width="1.3"/></g><g transform="translate(298.7 405.0)"><circle r="12.5" fill="#303236"/><path d="M-7.6 3.4C-9.6 2.8 -10.6 1 -10.5 -0.7C-10.3 -3 -8.4 -4.5 -5.4 -4.6C-4.6 -6.6 -2.4 -7.8 0.1 -7.8C2.6 -7.8 4.6 -5.8 5.2 -3C7 -2.6 8.6 -1 9.3 1.2" fill="none" stroke="#ededed" stroke-width="1.25" stroke-linecap="round" stroke-linejoin="round"/><path d="M-7.6 3.3H2.4C4.4 3 5 1.2 4.2 -0.2C3.8 -1 3.3 -1.4 2.8 -1.6M4.2 3.6H8.9C10.2 4 10.3 5.8 8.9 6.8M2.2 4.4C3.3 5.2 3.2 6.8 1.5 7.4" fill="none" stroke="#ededed" stroke-width="1.15" stroke-linecap="round"/></g><g transform="translate(423.9 496.3)"><circle r="12.5" fill="#303236"/><path d="M-5.4 4.3C-7 4.3 -8.6 3.4 -9.3 1.6C-10 -0.2 -9.6 -2.2 -8 -3.4C-7.2 -4.1 -6.2 -4.5 -5.2 -4.5C-4.5 -6.6 -2.4 -8.1 0.1 -8.1C2.8 -8.1 5.1 -6.4 5.8 -3.9C8 -3.6 10 -1.7 10 0.8C10 3 8.4 4.3 6.4 4.3" fill="none" stroke="#ededed" stroke-width="1.25" stroke-linecap="round" stroke-linejoin="round"/><path d="M-1.9 0.4L2 4.2L0.5 4.9L2.7 9.6L-1.6 5.6L-0.1 5L-2.9 1.2Z" fill="#f6f6f6"/></g><g transform="translate(254.4 520.2)"><circle r="12.5" fill="#303236"/><path d="M-7.6 3.4C-9.6 2.8 -10.6 1 -10.5 -0.7C-10.3 -3 -8.4 -4.5 -5.4 -4.6C-4.6 -6.6 -2.4 -7.8 0.1 -7.8C2.6 -7.8 4.6 -5.8 5.2 -3C7 -2.6 8.6 -1 9.3 1.2" fill="none" stroke="#ededed" stroke-width="1.25" stroke-linecap="round" stroke-linejoin="round"/><path d="M-7.6 3.3H2.4C4.4 3 5 1.2 4.2 -0.2C3.8 -1 3.3 -1.4 2.8 -1.6M4.2 3.6H8.9C10.2 4 10.3 5.8 8.9 6.8M2.2 4.4C3.3 5.2 3.2 6.8 1.5 7.4" fill="none" stroke="#ededed" stroke-width="1.15" stroke-linecap="round"/></g><g transform="translate(194.3 547.7)"><circle r="12.5" fill="#303236"/><path d="M-5.4 4.3C-7 4.3 -8.6 3.4 -9.3 1.6C-10 -0.2 -9.6 -2.2 -8 -3.4C-7.2 -4.1 -6.2 -4.5 -5.2 -4.5C-4.5 -6.6 -2.4 -8.1 0.1 -8.1C2.8 -8.1 5.1 -6.4 5.8 -3.9C8 -3.6 10 -1.7 10 0.8C10 3 8.4 4.3 6.4 4.3" fill="none" stroke="#ededed" stroke-width="1.25" stroke-linecap="round" stroke-linejoin="round"/><path d="M-3.8 1.85h1.4M-0.4 1.85h1.4M3.2 1.85h1.4M-2.1 4.5h1.4M1.5 4.5h1.4M-3.8 7.15h1.4M-0.4 7.15h1.4M3.2 7.15h1.4" fill="none" stroke="#ededed" stroke-width="1.3"/></g>
</g>
<g transform="translate(623.5 95.5) scale(0.345)"><use href="#bigc"/></g><g transform="translate(835.8 95.5) scale(0.345)"><g clip-path="url(#fr)"><path d="M174.0 462.0 C177.3 456.7 177.1 452.7 178.0 448.0 C178.9 443.3 179.4 438.7 179.5 434.0 C179.6 429.3 179.0 424.3 178.5 420.0 C178.0 415.7 177.0 411.7 176.5 408.0 C176.0 404.3 176.3 401.4 175.5 398.0 C174.7 394.6 173.1 390.8 171.7 387.4 C170.2 384.0 168.7 380.9 166.8 377.6 C164.9 374.3 162.6 371.1 160.2 367.8 C157.8 364.5 154.1 361.6 152.1 358.0 C150.1 354.4 149.4 349.5 147.9 346.5 C146.4 343.5 144.2 342.0 143.0 340.0 C141.8 338.0 141.9 337.8 141.0 334.7 C140.1 331.6 138.6 326.6 137.7 321.7 C136.8 316.8 135.7 310.2 135.6 305.3 C135.5 300.4 135.9 296.7 136.9 292.3 C137.9 287.9 139.9 282.8 141.8 279.2 C143.7 275.6 146.4 273.7 148.4 271.0 C150.4 268.3 151.1 265.9 154.0 263.0 C156.9 260.1 162.4 255.9 166.1 253.9 C169.8 251.9 172.1 251.7 175.9 251.0 C179.7 250.3 184.1 250.1 189.0 249.9 C193.9 249.7 199.9 249.7 205.3 249.9 C210.8 250.1 216.8 250.3 221.7 251.0 C226.6 251.7 230.5 252.6 234.8 253.9 C239.2 255.2 243.2 257.4 247.8 258.8 C252.4 260.2 257.9 260.8 262.5 262.4 C267.1 263.9 271.5 266.4 275.6 268.1 C279.7 269.8 282.9 271.2 287.0 272.5 C291.1 273.8 295.8 274.9 300.1 275.6 C304.4 276.3 309.7 276.8 313.0 276.8 C316.3 276.8 316.8 276.3 319.9 275.6 C322.9 274.9 327.5 273.9 331.3 272.7 C335.1 271.5 338.9 270.4 342.7 268.6 C346.5 266.8 350.4 264.4 354.2 262.1 C358.0 259.8 361.8 257.3 365.6 254.7 C369.4 252.1 373.5 248.9 377.0 246.5 C380.5 244.1 383.0 242.8 386.8 240.0 C390.6 237.2 395.6 233.0 400.0 229.5 C404.4 226.0 406.6 224.1 413.3 218.8 C420.0 213.6 430.9 200.5 440.0 198.0 C449.1 195.5 461.2 199.5 468.0 204.0 C474.8 208.5 478.4 218.1 481.0 225.0 C483.6 231.9 482.7 240.6 483.5 245.7 C484.3 250.8 485.4 251.7 486.0 255.5 C486.6 259.3 487.2 264.2 487.3 268.6 C487.4 273.0 486.8 277.4 486.3 281.7 C485.8 286.0 484.7 290.3 484.4 294.7 C484.1 299.1 484.0 303.6 484.4 307.8 C484.8 312.0 486.0 316.4 486.8 319.8 C487.6 323.2 488.6 325.1 489.3 328.0 C490.0 330.9 490.2 333.0 491.2 337.0 C492.1 341.0 496.5 345.2 495.0 352.0 C493.5 358.8 487.5 371.3 482.0 378.0 C476.5 384.7 467.9 389.2 462.0 392.0 C456.1 394.8 450.7 393.7 446.8 394.6 C442.9 395.5 441.6 396.2 438.6 397.4 C435.6 398.5 431.8 399.7 428.8 401.5 C425.8 403.3 423.1 405.6 420.6 408.0 C418.2 410.4 415.9 413.5 414.1 416.2 C412.3 418.9 411.1 422.1 410.0 424.4 C408.9 426.7 408.5 427.2 407.6 430.0 C406.7 432.8 406.0 437.6 404.4 441.4 C402.8 445.2 400.5 449.1 397.8 452.9 C395.1 456.7 391.8 460.8 388.0 464.3 C384.2 467.8 379.5 470.8 374.9 474.1 C370.3 477.4 364.3 480.9 360.2 483.9 C356.1 486.9 353.4 489.1 350.4 492.1 C347.4 495.1 344.5 498.4 342.3 501.9 C340.1 505.4 338.3 509.8 337.4 513.3 C336.4 516.8 336.5 519.3 336.6 523.1 C336.7 526.9 337.7 532.4 338.2 536.2 C338.7 540.0 339.4 542.5 339.5 546.1 C339.6 549.7 339.4 553.5 338.6 557.6 C337.8 561.7 336.4 566.2 334.6 570.6 C332.8 575.0 330.2 579.9 328.0 583.7 C325.8 587.5 324.2 589.7 321.5 593.5 C318.8 597.3 315.0 602.5 311.7 606.6 C308.4 610.7 306.3 613.3 301.9 618.0 C297.4 622.7 310.3 631.3 285.0 635.0 C259.7 638.7 177.5 652.5 150.0 640.0 C122.5 627.5 118.7 586.7 120.0 560.0 C121.3 533.3 149.0 496.3 158.0 480.0 C167.0 463.7 170.7 467.3 174.0 462.0Z" fill="#c9dfcb" stroke="#8fae92" stroke-width="2"/><path d="M169.2 504.6 C182.0 492.3 186.1 489.4 192.8 481.0 C199.4 472.6 205.9 464.3 209.3 454.3 C212.6 444.3 213.9 432.4 212.9 421.3 C211.8 410.1 207.4 397.5 203.0 387.4 C198.6 377.3 190.4 370.1 186.5 360.7 C182.5 351.3 179.6 339.1 179.4 330.8 C179.1 322.5 182.1 316.8 184.9 311.1 C187.6 305.5 191.7 300.4 195.9 297.0 C200.1 293.6 205.0 292.1 210.1 290.7 C215.1 289.3 220.2 287.0 226.2 288.6 C232.2 290.3 237.1 295.9 246.2 300.7 C255.4 305.5 267.2 313.7 280.9 317.4 C294.5 321.1 313.6 324.0 328.0 322.9 C342.5 321.9 355.6 317.0 367.4 311.1 C379.2 305.2 388.3 292.8 398.8 287.5 C409.3 282.3 420.5 277.7 430.3 279.7 C440.1 281.6 452.6 291.5 457.8 299.3 C463.1 307.2 463.7 318.3 461.8 326.9 C459.8 335.4 453.9 342.6 446.0 350.5 C438.2 358.3 425.1 364.9 414.6 374.1 C404.1 383.2 391.0 396.4 383.1 405.5 C375.2 414.7 373.9 421.3 367.4 429.1 C360.8 437.0 353.0 446.2 343.8 452.7 C334.6 459.3 319.5 461.9 312.3 468.5 C305.1 475.0 301.2 481.6 300.5 492.1 C299.9 502.5 306.4 518.3 308.4 531.4 C310.3 544.5 313.6 558.9 312.3 570.7 C311.0 582.5 305.8 593.0 300.5 602.2 C295.3 611.3 298.5 619.2 280.9 625.8 C263.2 632.3 221.9 653.3 194.3 641.5 C166.8 629.7 119.9 577.8 115.7 555.0 C111.5 532.2 156.3 517.0 169.2 504.6Z" fill="#80e4ba" stroke="#4fb98a" stroke-width="2" opacity="1"/><path d="M214.0 350.5 C216.6 343.9 219.9 338.7 225.8 334.7 C231.7 330.8 241.5 327.5 249.4 326.9 C257.3 326.2 263.8 326.9 273.0 330.8 C282.2 334.7 294.0 344.6 304.4 350.5 C314.9 356.4 326.7 361.0 335.9 366.2 C345.1 371.4 354.3 375.4 359.5 381.9 C364.8 388.5 368.0 397.7 367.4 405.5 C366.7 413.4 362.1 422.6 355.6 429.1 C349.0 435.7 337.9 440.3 328.0 444.9 C318.2 449.4 303.1 451.4 296.6 456.7 C290.0 461.9 289.4 467.8 288.7 476.3 C288.1 484.8 291.3 494.7 292.6 507.8 C294.0 520.9 297.2 541.9 296.6 555.0 C295.9 568.1 294.0 576.0 288.7 586.4 C283.5 596.9 280.9 610.0 265.1 617.9 C249.4 625.8 219.2 641.5 194.3 633.6 C169.4 625.8 119.6 591.0 115.7 570.7 C111.7 550.4 156.3 526.1 170.7 511.7 C185.1 497.3 193.7 495.3 202.2 484.2 C210.7 473.0 218.6 456.7 221.9 444.9 C225.1 433.1 223.8 425.2 221.9 413.4 C219.9 401.6 211.4 384.6 210.1 374.1 C208.7 363.6 211.4 357.0 214.0 350.5Z" fill="#60c0f6" stroke="#3f97cf" stroke-width="2" opacity="1"/><path d="M249.4 444.9 C254.6 444.9 261.8 447.5 265.1 452.7 C268.4 458.0 269.1 467.1 269.1 476.3 C269.1 485.5 265.1 497.3 265.1 507.8 C265.1 518.3 268.4 528.8 269.1 539.2 C269.7 549.7 272.3 562.8 269.1 570.7 C265.8 578.6 256.6 583.2 249.4 586.4 C242.2 589.7 234.3 589.7 225.8 590.4 C217.3 591.0 210.1 588.4 198.3 590.4 C186.5 592.3 168.8 606.8 155.0 602.2 C141.2 597.6 115.0 576.0 115.7 562.8 C116.3 549.7 145.8 532.7 158.9 523.5 C172.0 514.3 183.8 515.6 194.3 507.8 C204.8 499.9 215.3 485.5 221.9 476.3 C228.4 467.1 229.1 458.0 233.7 452.7 C238.2 447.5 244.1 444.9 249.4 444.9Z" fill="#4d76fa" stroke="#3450c0" stroke-width="2" opacity="1"/></g><use href="#reliefg" opacity="0.8"/><use href="#lines"/><use href="#base"/></g><g transform="translate(623.4 327.5) scale(0.345)"><g opacity="0.42"><g clip-path="url(#fr)"><path d="M190.7 336.8 C190.1 327.6 194.0 319.8 198.6 313.2 C203.2 306.7 209.7 299.4 218.3 297.5 C226.8 295.5 235.3 297.7 249.7 301.4 C264.1 305.1 286.4 316.9 304.8 319.5 C323.1 322.1 346.7 316.2 359.8 317.1 C372.9 318.1 377.8 320.4 383.4 325.0 C389.1 329.6 392.6 336.8 393.7 344.7 C394.7 352.5 394.1 363.7 389.7 372.2 C385.4 380.7 377.9 389.2 367.7 395.8 C357.5 402.4 341.5 409.6 328.4 411.5 C315.3 413.5 303.5 410.9 289.0 407.6 C274.6 404.3 256.3 398.4 241.9 391.9 C227.4 385.3 211.0 377.4 202.5 368.3 C194.0 359.1 191.4 346.0 190.7 336.8Z" fill="#c3dcc6" stroke="#6f9e76" stroke-width="2" opacity="1"/><path d="M159.3 533.4 C167.8 523.0 167.8 515.4 175.0 509.9 C182.2 504.3 194.0 501.1 202.5 500.4 C211.0 499.8 218.3 502.4 226.1 505.9 C234.0 509.5 241.9 515.1 249.7 521.7 C257.6 528.2 268.1 537.4 273.3 545.2 C278.6 553.1 281.2 562.3 281.2 568.8 C281.2 575.4 278.6 581.0 273.3 584.6 C268.1 588.1 258.9 589.2 249.7 590.1 C240.5 591.0 231.4 587.7 218.3 590.1 C205.1 592.4 186.8 607.1 171.1 604.2 C155.3 601.4 125.8 584.6 123.9 572.8 C121.9 561.0 150.7 543.9 159.3 533.4Z" fill="#c3dcc6" stroke="#6f9e76" stroke-width="2" opacity="1"/></g><use href="#reliefg" opacity="0.8"/><use href="#lines"/><use href="#base"/></g></g><g transform="translate(835.7 327.5) scale(0.345)"><g opacity="0.42"><g clip-path="url(#fr)"><path d="M167.1 509.9 C182.8 494.1 199.2 477.1 210.3 462.7 C221.5 448.2 224.8 435.1 233.9 423.3 C243.1 411.5 254.9 399.1 265.4 391.9 C275.9 384.7 286.4 382.0 296.9 380.1 C307.4 378.1 318.5 377.4 328.3 380.1 C338.2 382.7 349.6 389.2 355.9 395.8 C362.2 402.4 366.1 412.2 366.1 419.4 C366.1 426.6 362.2 433.2 355.9 439.1 C349.6 445.0 336.2 448.9 328.3 454.8 C320.5 460.7 313.3 466.6 308.7 474.5 C304.1 482.3 300.8 490.8 300.8 502.0 C300.8 513.1 306.7 529.5 308.7 541.3 C310.6 553.1 313.9 562.9 312.6 572.8 C311.3 582.6 307.4 592.4 300.8 600.3 C294.2 608.2 297.5 618.0 273.3 620.0 C249.0 621.9 181.5 622.6 155.3 612.1 C129.1 601.6 114.0 574.1 116.0 557.0 C117.9 540.0 151.4 525.6 167.1 509.9Z" fill="#c3dcc6" stroke="#6f9e76" stroke-width="2" opacity="1"/><path d="M159.2 541.3 C167.7 531.5 167.7 520.3 175.0 513.8 C182.2 507.2 192.6 503.7 202.5 502.0 C212.3 500.3 224.1 500.9 233.9 503.6 C243.8 506.2 254.9 512.1 261.5 517.7 C268.0 523.4 272.6 529.5 273.3 537.4 C273.9 545.2 270.7 557.0 265.4 564.9 C260.2 572.8 251.0 579.6 241.8 584.6 C232.6 589.6 222.1 591.5 210.3 594.8 C198.5 598.1 185.4 607.9 171.0 604.2 C156.6 600.6 125.8 583.3 123.8 572.8 C121.9 562.3 150.7 551.1 159.2 541.3Z" fill="#74e6bb" stroke="#3fb98a" stroke-width="2" opacity="1"/></g><use href="#reliefg" opacity="0.8"/><use href="#lines"/><use href="#base"/></g></g>
<g id="seam"><rect x="336" y="521.6" width="183" height="1" fill="#f6f4e6" opacity="0.75"/><rect x="672.5" y="521.6" width="48" height="1" fill="#fff"/><rect x="885" y="521.6" width="59" height="1" fill="#fff"/><rect x="1056" y="521.6" width="3" height="1.4" fill="#fff"/></g>
</svg>
<div class="lg" style="left:30px;background:#e6e3cd"></div><div class="lt" style="left:74px">Risque orageux marginal.<br>Orages faibles et isolés.</div>
<div class="lg" style="left:233.5px;background:#fff27a"></div><div class="lt" style="left:277.5px">Risque orageux ordinaire.<br>Orages faibles à modérés.</div>
<div class="lg" style="left:438.5px;background:#ff8c0f"></div><div class="lt" style="left:482.5px">Risque orageux marqué.<br>Orages pouvant être forts.</div>
<div class="lg" style="left:646px;background:#fe0000"></div><div class="lt" style="left:690px">Risque orageux sévère.<br>Orages pouvant être violents.</div>
<div class="lg" style="left:865px;background:#ff00ff"></div><div class="lt" style="left:909px">Risque orageux extrême.<br>Orages extrêmement violents.</div>

</body></html>
